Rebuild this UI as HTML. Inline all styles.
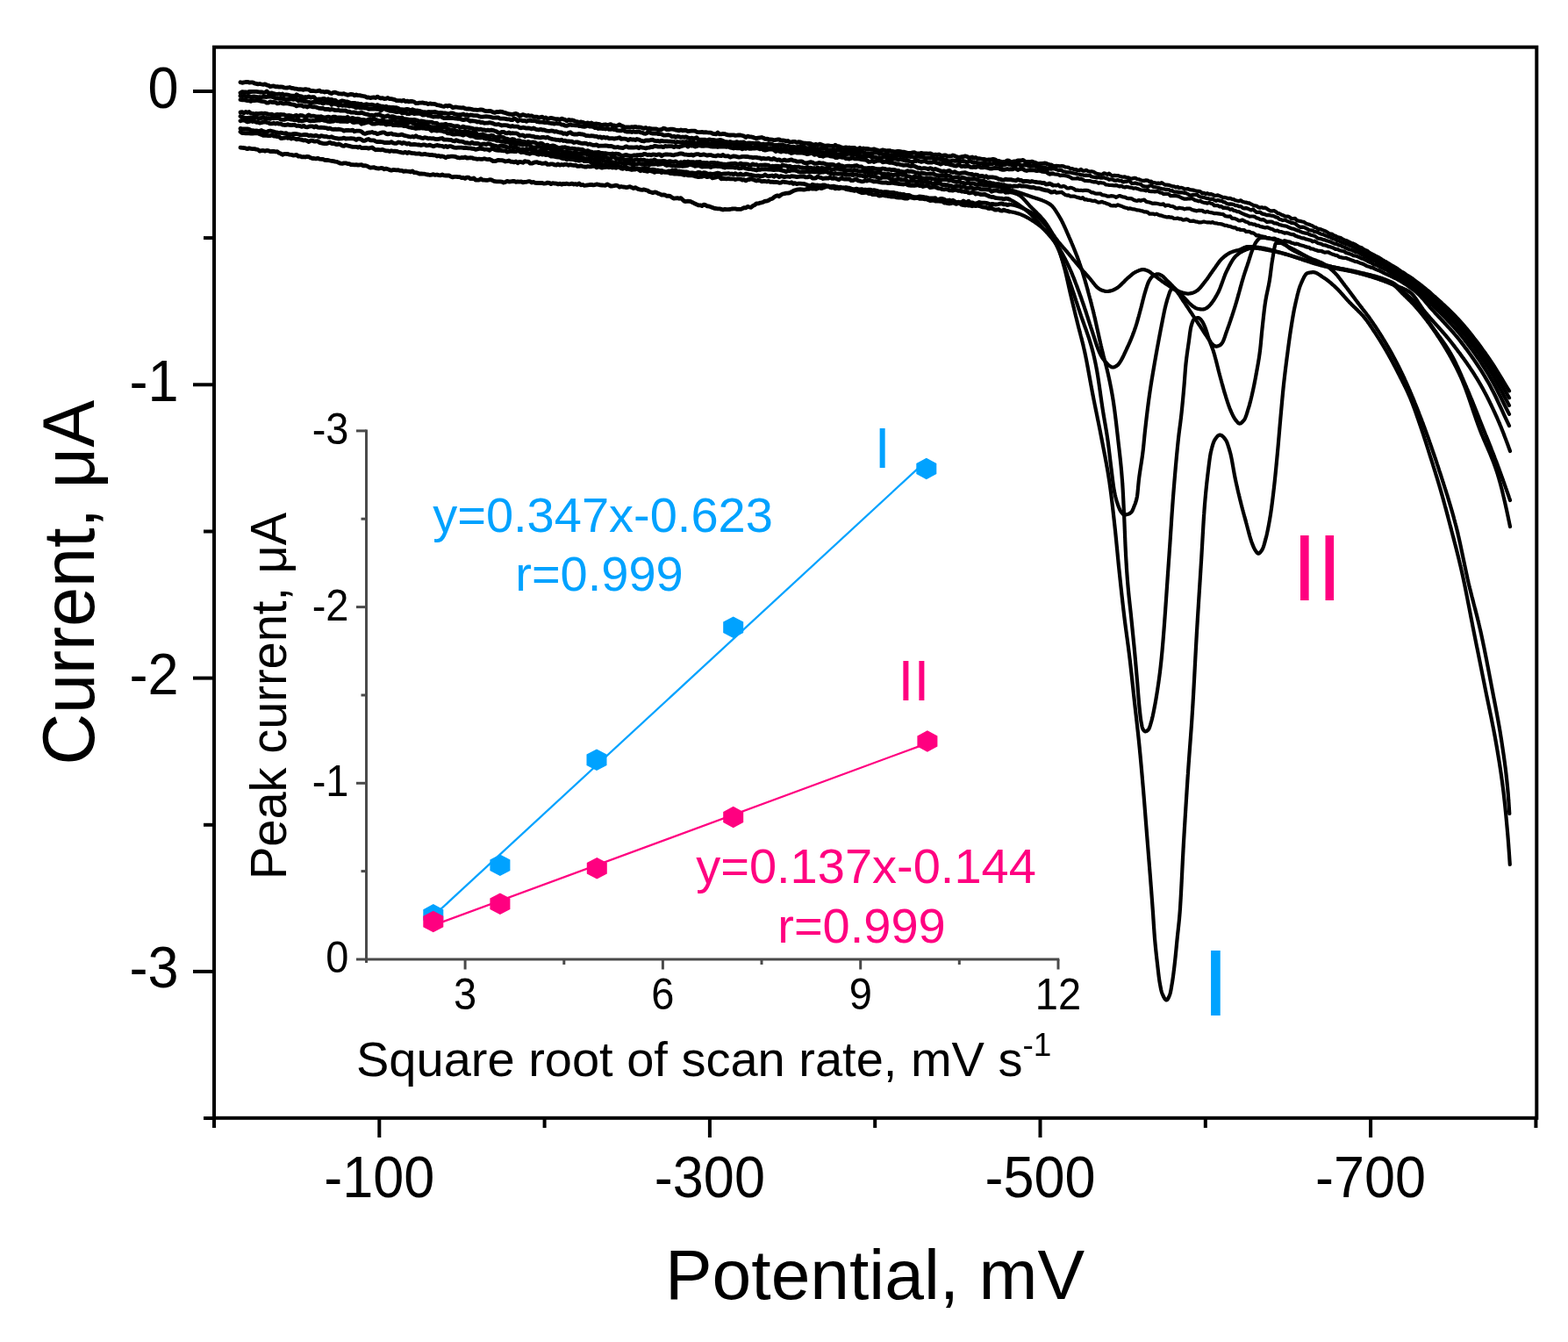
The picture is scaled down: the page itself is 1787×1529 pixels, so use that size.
<!DOCTYPE html><html><head><meta charset="utf-8"><title>Voltammograms</title><style>html,body{margin:0;padding:0;background:#fff;overflow:hidden}svg{display:block}</style></head><body>
<svg width="1787" height="1529" viewBox="0 0 1787 1529">
<rect width="100%" height="100%" fill="#fff"/>
<g fill="none" stroke="#000" stroke-linejoin="round" stroke-linecap="round">
<path stroke-width="4.8" d="M274.0,93.7 L276.0,94.3 L278.0,93.9 L280.0,93.5 L282.0,93.3 L284.0,94.1 L286.0,93.9 L288.0,93.8 L290.0,94.9 L292.0,95.4 L294.0,95.9 L296.0,95.5 L298.0,96.0 L300.0,96.3 L302.0,95.8 L304.0,96.9 L306.0,97.3 L308.0,98.7 L310.0,98.2 L312.0,98.0 L314.0,98.8 L316.0,98.7 L318.0,99.2 L320.0,98.8 L322.0,99.1 L324.0,99.9 L326.0,100.1 L328.0,100.0 L330.0,99.5 L332.0,100.3 L334.0,100.5 L336.0,101.1 L338.0,101.2 L340.0,101.8 L342.0,101.6 L344.0,101.8 L346.0,102.3 L348.0,101.6 L350.0,101.9 L352.0,102.1 L354.0,103.7 L356.0,103.3 L358.0,103.7 L360.0,104.0 L362.0,103.7 L364.0,103.1 L366.0,104.4 L368.0,104.3 L370.0,105.0 L372.0,104.3 L374.0,104.6 L376.0,105.9 L378.0,106.5 L380.0,105.4 L382.0,105.2 L384.0,105.9 L386.0,106.8 L388.0,106.9 L390.0,107.2 L392.0,106.7 L394.0,107.6 L396.0,108.3 L398.0,107.9 L400.0,107.3 L402.0,107.6 L404.0,108.8 L406.0,107.9 L408.0,108.7 L410.0,108.6 L412.0,109.2 L414.0,109.5 L416.0,109.9 L418.0,111.0 L420.0,110.9 L422.0,111.6 L424.0,111.1 L426.0,110.9 L428.0,111.5 L430.0,110.1 L432.0,111.3 L434.0,112.0 L436.0,111.6 L438.0,112.5 L440.0,112.4 L442.0,111.5 L444.0,112.6 L446.0,112.7 L448.0,113.1 L450.0,113.6 L452.0,114.7 L454.0,114.6 L456.0,114.7 L458.0,115.1 L460.0,114.2 L462.0,115.7 L464.0,115.1 L466.0,115.9 L468.0,115.4 L470.0,115.5 L472.0,116.0 L474.0,117.6 L476.0,117.6 L478.0,117.1 L480.0,117.2 L482.0,117.0 L484.0,117.6 L486.0,117.7 L488.0,118.6 L490.0,117.9 L492.0,118.4 L494.0,118.4 L496.0,118.7 L498.0,119.7 L500.0,119.9 L502.0,120.4 L504.0,121.0 L506.0,121.4 L508.0,120.3 L510.0,121.1 L512.0,120.2 L514.0,121.0 L516.0,122.6 L518.0,122.1 L520.0,122.0 L522.0,122.4 L524.0,122.6 L526.0,122.8 L528.0,122.6 L530.0,123.7 L532.0,124.1 L534.0,123.8 L536.0,124.2 L538.0,124.6 L540.0,125.2 L542.0,125.1 L544.0,125.4 L546.0,125.2 L548.0,124.8 L550.0,125.1 L552.0,126.2 L554.0,126.7 L556.0,126.6 L558.0,126.3 L560.0,126.9 L562.0,127.9 L564.0,128.3 L566.0,127.5 L568.0,127.7 L570.0,127.1 L572.0,127.3 L574.0,128.2 L576.0,128.6 L578.0,129.4 L580.0,130.0 L582.0,130.1 L584.0,130.6 L586.0,129.8 L588.0,129.4 L590.0,130.3 L592.0,132.0 L594.0,131.4 L596.0,130.6 L598.0,131.2 L600.0,132.2 L602.0,131.4 L604.0,132.2 L606.0,131.9 L608.0,133.0 L610.0,133.2 L612.0,133.2 L614.0,134.3 L616.0,133.5 L618.0,133.2 L620.0,134.7 L622.0,133.9 L624.0,135.4 L626.0,134.9 L628.0,134.3 L630.0,134.8 L632.0,135.3 L634.0,135.6 L636.0,135.7 L638.0,136.5 L640.0,135.1 L642.0,135.8 L644.0,136.3 L646.0,137.8 L648.0,136.4 L650.0,137.0 L652.0,136.9 L654.0,137.3 L656.0,138.3 L658.0,138.7 L660.0,139.5 L662.0,138.9 L664.0,139.3 L666.0,140.0 L668.0,140.3 L670.0,139.9 L672.0,140.7 L674.0,140.0 L676.0,141.4 L678.0,141.1 L680.0,141.0 L682.0,141.3 L684.0,141.9 L686.0,142.7 L688.0,142.1 L690.0,141.9 L692.0,142.5 L694.0,142.1 L696.0,141.6 L698.0,142.9 L700.0,142.8 L702.0,143.8 L704.0,143.0 L706.0,141.9 L708.0,143.3 L710.0,143.9 L712.0,145.0 L714.0,144.9 L716.0,144.8 L718.0,145.1 L720.0,144.7 L722.0,144.9 L724.0,144.3 L726.0,145.2 L728.0,144.9 L730.0,145.1 L732.0,145.8 L734.0,146.3 L736.0,145.5 L738.0,146.9 L740.0,146.1 L742.0,146.7 L744.0,147.0 L746.0,146.8 L748.0,146.8 L750.0,147.8 L752.0,147.7 L754.0,147.5 L756.0,146.2 L758.0,146.5 L760.0,147.7 L762.0,147.6 L764.0,147.1 L766.0,147.1 L768.0,147.4 L770.0,148.1 L772.0,148.3 L774.0,148.8 L776.0,148.0 L778.0,148.8 L780.0,148.4 L782.0,148.5 L784.0,149.7 L786.0,149.3 L788.0,149.1 L790.0,149.1 L792.0,149.1 L794.0,150.3 L796.0,150.7 L798.0,150.6 L800.0,150.4 L802.0,150.9 L804.0,150.6 L806.0,150.9 L808.0,151.1 L810.0,151.1 L812.0,152.1 L814.0,152.7 L816.0,152.8 L818.0,151.1 L820.0,152.8 L822.0,152.8 L824.0,152.4 L826.0,152.6 L828.0,153.4 L830.0,153.9 L832.0,154.0 L834.0,153.8 L836.0,153.8 L838.0,154.4 L840.0,154.2 L842.0,153.9 L844.0,154.0 L846.0,154.5 L848.0,155.1 L850.0,156.5 L852.0,155.1 L854.0,155.8 L856.0,155.9 L858.0,156.3 L860.0,157.2 L862.0,157.6 L864.0,157.1 L866.0,156.8 L868.0,156.5 L870.0,157.2 L872.0,158.3 L874.0,158.1 L876.0,158.6 L878.0,159.0 L880.0,159.1 L882.0,159.7 L884.0,159.4 L886.0,159.0 L888.0,158.9 L890.0,160.1 L892.0,160.0 L894.0,160.1 L896.0,161.0 L898.0,160.5 L900.0,161.9 L902.0,161.9 L904.0,161.4 L906.0,161.4 L908.0,162.4 L910.0,161.7 L912.0,161.9 L914.0,162.5 L916.0,162.9 L918.0,163.1 L920.0,163.5 L922.0,163.4 L924.0,163.7 L926.0,164.6 L928.0,164.8 L930.0,164.4 L932.0,165.6 L934.0,164.1 L936.0,164.8 L938.0,165.6 L940.0,166.1 L942.0,166.0 L944.0,165.8 L946.0,166.4 L948.0,166.3 L950.0,166.8 L952.0,165.2 L954.0,166.6 L956.0,166.6 L958.0,167.6 L960.0,168.0 L962.0,168.3 L964.0,167.8 L966.0,168.3 L968.0,168.1 L970.0,168.5 L972.0,168.5 L974.0,168.3 L976.0,169.9 L978.0,169.8 L980.0,168.4 L982.0,169.7 L984.0,169.0 L986.0,169.5 L988.0,169.5 L990.0,169.7 L992.0,170.3 L994.0,170.3 L996.0,169.8 L998.0,170.5 L1000.0,171.1 L1002.0,172.2 L1004.0,171.5 L1006.0,170.9 L1008.0,171.3 L1010.0,172.0 L1012.0,171.6 L1014.0,171.6 L1016.0,172.4 L1018.0,172.5 L1020.0,172.8 L1022.0,172.5 L1024.0,172.4 L1026.0,172.7 L1028.0,173.1 L1030.0,173.2 L1032.0,173.7 L1034.0,174.1 L1036.0,174.3 L1038.0,174.5 L1040.0,173.9 L1042.0,173.7 L1044.0,174.7 L1046.0,174.8 L1048.0,175.0 L1050.0,174.4 L1052.0,174.8 L1054.0,174.9 L1056.0,174.9 L1058.0,175.1 L1060.0,174.8 L1062.0,175.7 L1064.0,176.7 L1066.0,176.1 L1068.0,176.4 L1070.0,176.0 L1072.0,176.9 L1074.0,178.0 L1076.0,176.8 L1078.0,177.0 L1080.0,178.1 L1082.0,178.0 L1084.0,178.0 L1086.0,176.9 L1088.0,177.6 L1090.0,178.6 L1092.0,179.3 L1094.0,179.2 L1096.0,178.6 L1098.0,178.5 L1100.0,177.9 L1102.0,178.3 L1104.0,179.7 L1106.0,179.6 L1108.0,179.0 L1110.0,180.4 L1112.0,179.4 L1114.0,180.8 L1116.0,180.6 L1118.0,181.0 L1120.0,181.5 L1122.0,181.5 L1124.0,182.3 L1126.0,182.0 L1128.0,181.8 L1130.0,181.7 L1132.0,181.4 L1134.0,181.8 L1136.0,183.0 L1138.0,183.4 L1140.0,184.0 L1142.0,185.0 L1144.0,184.3 L1146.0,184.0 L1148.0,182.9 L1150.0,183.2 L1152.0,184.6 L1154.0,184.3 L1156.0,183.8 L1158.0,183.9 L1160.0,182.8 L1162.0,183.0 L1164.0,182.8 L1166.0,182.4 L1168.0,183.9 L1170.0,184.6 L1172.0,184.3 L1174.0,184.6 L1176.0,184.1 L1178.0,184.8 L1180.0,185.4 L1182.0,186.3 L1184.0,186.7 L1186.0,186.5 L1188.0,186.3 L1190.0,186.0 L1192.0,186.2 L1194.0,187.2 L1196.0,187.7 L1198.0,187.8 L1200.0,189.0"/>
<path stroke-width="4.2" d="M1200.0,189.0 L1202.0,189.0 L1204.0,188.9 L1206.0,189.0 L1208.0,189.4 L1210.0,189.2 L1212.0,189.4 L1214.0,190.4 L1216.0,190.5 L1218.0,190.9 L1220.0,192.2 L1222.0,192.0 L1224.0,193.1 L1226.0,193.0 L1228.0,194.0 L1230.0,194.0 L1232.0,193.0 L1234.0,194.6 L1236.0,194.6 L1238.0,193.8 L1240.0,195.0 L1242.0,195.6 L1244.0,195.3 L1246.0,195.7 L1248.0,196.8 L1250.0,197.8 L1252.0,198.2 L1254.0,198.6 L1256.0,198.9 L1258.0,197.3 L1260.0,197.8 L1262.0,198.8 L1264.0,197.7 L1266.0,199.4 L1268.0,200.3 L1270.0,199.9 L1272.0,200.1 L1274.0,200.1 L1276.0,200.8 L1278.0,201.3 L1280.0,201.6 L1282.0,201.4 L1284.0,202.3 L1286.0,202.4 L1288.0,203.4 L1290.0,203.6 L1292.0,202.9 L1294.0,202.9 L1296.0,204.0 L1298.0,204.3 L1300.0,205.1 L1302.0,205.9 L1304.0,205.9 L1306.0,205.3 L1308.0,205.6 L1310.0,206.9 L1312.0,206.7 L1314.0,208.1 L1316.0,208.2 L1318.0,208.8 L1320.0,208.6 L1322.0,209.2 L1324.0,208.1 L1326.0,209.5 L1328.0,210.7 L1330.0,210.6 L1332.0,210.8 L1334.0,211.6 L1336.0,212.3 L1338.0,212.3 L1340.0,213.4 L1342.0,212.8 L1344.0,214.3 L1346.0,213.8 L1348.0,214.2 L1350.0,215.8 L1352.0,215.3 L1354.0,215.1 L1356.0,216.2 L1358.0,216.4 L1360.0,216.6 L1362.0,217.2 L1364.0,217.6 L1366.0,217.9 L1368.0,218.3 L1370.0,220.1 L1372.0,219.8 L1374.0,220.9 L1376.0,220.2 L1378.0,221.4 L1380.0,221.1 L1382.0,221.7 L1384.0,222.8 L1386.0,222.8 L1388.0,222.4 L1390.0,223.3 L1392.0,224.1 L1394.0,225.1 L1396.0,224.9 L1398.0,225.5 L1400.0,226.2 L1402.0,225.9 L1404.0,226.9 L1406.0,227.2 L1408.0,228.3 L1410.0,228.7 L1412.0,229.1 L1414.0,228.3 L1416.0,229.7 L1418.0,230.3 L1420.0,230.6 L1422.0,231.3 L1424.0,231.4 L1426.0,232.7 L1428.0,233.7 L1430.0,234.4 L1432.0,234.5 L1434.0,236.1 L1436.0,236.6 L1438.0,236.2 L1440.0,236.9 L1442.0,236.7 L1444.0,237.9 L1446.0,239.2 L1448.0,240.4 L1450.0,240.3 L1452.0,240.0 L1454.0,241.2 L1456.0,242.9 L1458.0,243.3 L1460.0,244.5 L1462.0,245.2 L1464.0,246.2 L1466.0,246.6 L1468.0,246.5 L1470.0,247.6 L1472.0,249.4 L1474.0,249.1 L1476.0,248.8 L1478.0,251.1 L1480.0,251.6 L1482.0,251.9 L1484.0,252.5 L1486.0,252.8 L1488.0,254.4 L1490.0,255.3 L1492.0,255.8 L1494.0,256.6 L1496.0,257.4 L1498.0,258.9 L1500.0,259.4 L1502.0,260.8 L1504.0,260.9 L1506.0,261.6 L1508.0,262.4 L1510.0,263.2 L1512.0,264.2 L1514.0,265.5 L1516.0,266.6 L1518.0,266.7 L1520.0,268.2 L1522.0,268.8 L1524.0,270.1 L1526.0,270.6 L1528.0,271.1 L1530.0,272.4 L1532.0,273.4 L1534.0,274.0 L1536.0,275.0 L1538.0,276.0 L1540.0,277.0 L1542.0,277.4 L1544.0,278.3 L1546.0,279.6 L1548.0,280.8 L1550.0,281.7 L1552.0,282.3 L1554.0,284.0 L1556.0,284.9 L1558.0,285.7 L1560.0,287.4 L1562.0,288.5 L1564.0,289.6 L1566.0,290.7 L1568.0,291.8 L1570.0,292.6 L1572.0,293.8 L1574.0,295.1 L1576.0,296.4 L1578.0,297.6 L1580.0,298.5 L1582.0,299.7 L1584.0,301.0 L1586.0,302.3 L1588.0,303.4 L1590.0,304.5 L1592.0,305.8 L1594.0,307.3 L1596.0,308.6 L1598.0,310.0 L1600.0,311.0 L1602.0,312.4 L1604.0,313.9 L1606.0,314.9 L1608.0,316.3 L1610.0,317.6 L1612.0,319.3 L1614.0,320.7 L1616.0,322.1 L1618.0,323.7 L1620.0,325.2 L1622.0,326.8 L1624.0,328.4 L1626.0,330.1 L1628.0,331.7 L1630.0,333.4 L1632.0,335.2 L1634.0,337.0 L1636.0,338.7 L1638.0,340.5 L1640.0,342.3 L1642.0,344.1 L1644.0,346.0 L1646.0,347.8 L1648.0,349.7 L1650.0,351.6 L1652.0,353.5 L1654.0,355.4 L1656.0,357.4 L1658.0,359.5 L1660.0,361.6 L1662.0,363.7 L1664.0,365.9 L1666.0,368.1 L1668.0,370.4 L1670.0,372.8 L1672.0,375.2 L1674.0,377.6 L1676.0,380.1 L1678.0,382.6 L1680.0,385.2 L1682.0,387.8 L1684.0,390.4 L1686.0,393.1 L1688.0,395.8 L1690.0,398.6 L1692.0,401.3 L1694.0,404.2 L1696.0,407.0 L1698.0,409.9 L1700.0,412.9 L1702.0,416.0 L1704.0,419.2 L1706.0,422.4 L1708.0,425.6 L1710.0,428.9 L1712.0,432.2 L1714.0,435.6 L1716.0,438.9 L1718.0,442.1 L1720.0,445.4"/>
<path stroke-width="4.8" d="M274.0,105.8 L276.0,104.7 L278.0,104.9 L280.0,104.9 L282.0,105.3 L284.0,104.3 L286.0,104.5 L288.0,104.4 L290.0,104.3 L292.0,104.4 L294.0,104.7 L296.0,105.0 L298.0,104.8 L300.0,105.6 L302.0,105.4 L304.0,104.0 L306.0,106.1 L308.0,106.1 L310.0,106.0 L312.0,106.7 L314.0,107.1 L316.0,107.3 L318.0,107.0 L320.0,107.6 L322.0,107.0 L324.0,108.6 L326.0,107.8 L328.0,108.2 L330.0,108.7 L332.0,109.1 L334.0,109.1 L336.0,109.7 L338.0,107.8 L340.0,109.1 L342.0,109.7 L344.0,109.9 L346.0,111.2 L348.0,110.5 L350.0,110.8 L352.0,110.0 L354.0,111.2 L356.0,110.7 L358.0,110.7 L360.0,113.1 L362.0,113.1 L364.0,112.9 L366.0,113.1 L368.0,112.4 L370.0,112.5 L372.0,113.6 L374.0,112.7 L376.0,113.9 L378.0,113.3 L380.0,114.3 L382.0,114.1 L384.0,115.8 L386.0,116.2 L388.0,115.6 L390.0,114.8 L392.0,115.3 L394.0,116.0 L396.0,115.9 L398.0,116.7 L400.0,117.6 L402.0,117.4 L404.0,117.3 L406.0,118.1 L408.0,118.0 L410.0,118.7 L412.0,118.5 L414.0,119.6 L416.0,119.1 L418.0,118.7 L420.0,119.3 L422.0,119.3 L424.0,119.2 L426.0,119.8 L428.0,120.7 L430.0,119.5 L432.0,120.4 L434.0,120.8 L436.0,121.1 L438.0,121.9 L440.0,121.2 L442.0,122.1 L444.0,122.1 L446.0,122.5 L448.0,122.5 L450.0,122.6 L452.0,122.7 L454.0,123.4 L456.0,124.7 L458.0,124.7 L460.0,124.8 L462.0,124.7 L464.0,124.3 L466.0,124.9 L468.0,126.0 L470.0,124.7 L472.0,125.6 L474.0,126.1 L476.0,126.0 L478.0,126.4 L480.0,127.0 L482.0,127.8 L484.0,127.7 L486.0,128.0 L488.0,127.5 L490.0,127.7 L492.0,127.6 L494.0,127.7 L496.0,127.4 L498.0,128.1 L500.0,128.9 L502.0,128.4 L504.0,128.6 L506.0,129.0 L508.0,128.9 L510.0,129.6 L512.0,129.5 L514.0,128.8 L516.0,128.8 L518.0,129.9 L520.0,130.3 L522.0,130.9 L524.0,130.7 L526.0,130.8 L528.0,129.9 L530.0,131.4 L532.0,130.7 L534.0,131.7 L536.0,131.0 L538.0,131.1 L540.0,131.7 L542.0,131.7 L544.0,131.7 L546.0,132.7 L548.0,133.1 L550.0,133.1 L552.0,132.9 L554.0,132.7 L556.0,132.9 L558.0,133.1 L560.0,133.5 L562.0,134.2 L564.0,134.1 L566.0,133.8 L568.0,134.0 L570.0,135.2 L572.0,135.1 L574.0,135.2 L576.0,135.4 L578.0,135.8 L580.0,135.8 L582.0,136.5 L584.0,136.7 L586.0,134.8 L588.0,135.8 L590.0,138.0 L592.0,136.5 L594.0,136.9 L596.0,137.7 L598.0,137.5 L600.0,138.3 L602.0,137.3 L604.0,137.1 L606.0,137.7 L608.0,137.7 L610.0,137.7 L612.0,138.7 L614.0,139.0 L616.0,139.1 L618.0,139.1 L620.0,139.5 L622.0,139.6 L624.0,139.4 L626.0,140.2 L628.0,140.5 L630.0,140.6 L632.0,141.1 L634.0,140.4 L636.0,140.8 L638.0,140.9 L640.0,142.0 L642.0,142.1 L644.0,143.2 L646.0,143.4 L648.0,142.5 L650.0,141.9 L652.0,142.7 L654.0,142.7 L656.0,142.9 L658.0,142.6 L660.0,143.5 L662.0,143.7 L664.0,144.1 L666.0,144.3 L668.0,143.8 L670.0,143.0 L672.0,144.0 L674.0,144.2 L676.0,144.5 L678.0,145.6 L680.0,145.5 L682.0,146.5 L684.0,146.2 L686.0,146.5 L688.0,146.7 L690.0,147.0 L692.0,146.2 L694.0,147.3 L696.0,147.3 L698.0,146.8 L700.0,147.7 L702.0,147.9 L704.0,148.7 L706.0,148.8 L708.0,148.8 L710.0,147.8 L712.0,149.4 L714.0,150.0 L716.0,150.0 L718.0,149.9 L720.0,150.5 L722.0,149.7 L724.0,150.4 L726.0,150.4 L728.0,150.0 L730.0,150.8 L732.0,151.2 L734.0,152.2 L736.0,152.3 L738.0,151.1 L740.0,150.6 L742.0,151.7 L744.0,152.1 L746.0,152.0 L748.0,151.8 L750.0,152.6 L752.0,152.5 L754.0,152.9 L756.0,154.0 L758.0,154.2 L760.0,153.9 L762.0,153.7 L764.0,154.3 L766.0,155.8 L768.0,155.2 L770.0,156.3 L772.0,155.5 L774.0,155.7 L776.0,156.4 L778.0,156.0 L780.0,156.4 L782.0,155.9 L784.0,157.0 L786.0,157.8 L788.0,157.2 L790.0,157.6 L792.0,157.5 L794.0,156.7 L796.0,159.2 L798.0,159.1 L800.0,159.2 L802.0,159.2 L804.0,159.2 L806.0,160.5 L808.0,158.8 L810.0,159.1 L812.0,159.3 L814.0,159.6 L816.0,160.3 L818.0,159.9 L820.0,159.5 L822.0,159.6 L824.0,160.6 L826.0,161.4 L828.0,161.6 L830.0,162.3 L832.0,161.5 L834.0,162.1 L836.0,162.3 L838.0,162.0 L840.0,161.6 L842.0,162.5 L844.0,162.1 L846.0,162.2 L848.0,162.0 L850.0,163.6 L852.0,163.2 L854.0,162.9 L856.0,163.1 L858.0,163.2 L860.0,163.6 L862.0,162.8 L864.0,162.9 L866.0,164.0 L868.0,164.8 L870.0,164.0 L872.0,164.5 L874.0,164.3 L876.0,163.5 L878.0,164.3 L880.0,164.3 L882.0,165.5 L884.0,165.4 L886.0,165.5 L888.0,164.9 L890.0,165.7 L892.0,164.9 L894.0,165.9 L896.0,167.0 L898.0,166.1 L900.0,167.0 L902.0,167.7 L904.0,167.1 L906.0,167.8 L908.0,167.5 L910.0,167.2 L912.0,166.4 L914.0,166.7 L916.0,166.7 L918.0,168.9 L920.0,168.6 L922.0,168.4 L924.0,167.8 L926.0,169.3 L928.0,168.4 L930.0,169.6 L932.0,169.9 L934.0,169.6 L936.0,169.2 L938.0,169.5 L940.0,169.0 L942.0,170.0 L944.0,171.0 L946.0,171.1 L948.0,171.3 L950.0,170.5 L952.0,170.9 L954.0,170.4 L956.0,170.7 L958.0,171.5 L960.0,172.9 L962.0,172.1 L964.0,172.0 L966.0,171.0 L968.0,171.9 L970.0,171.7 L972.0,171.5 L974.0,171.5 L976.0,172.5 L978.0,172.7 L980.0,173.4 L982.0,173.3 L984.0,173.5 L986.0,174.5 L988.0,174.6 L990.0,174.7 L992.0,175.3 L994.0,174.9 L996.0,174.2 L998.0,174.2 L1000.0,173.9 L1002.0,175.0 L1004.0,175.0 L1006.0,175.7 L1008.0,176.2 L1010.0,175.6 L1012.0,176.0 L1014.0,176.9 L1016.0,176.7 L1018.0,177.2 L1020.0,176.9 L1022.0,176.5 L1024.0,176.8 L1026.0,176.2 L1028.0,177.5 L1030.0,177.4 L1032.0,178.5 L1034.0,177.6 L1036.0,178.1 L1038.0,178.6 L1040.0,178.5 L1042.0,179.0 L1044.0,178.6 L1046.0,178.4 L1048.0,178.3 L1050.0,178.8 L1052.0,179.0 L1054.0,179.8 L1056.0,179.8 L1058.0,179.8 L1060.0,179.9 L1062.0,179.4 L1064.0,180.1 L1066.0,181.0 L1068.0,180.4 L1070.0,180.9 L1072.0,181.8 L1074.0,181.4 L1076.0,181.9 L1078.0,181.8 L1080.0,183.5 L1082.0,183.7 L1084.0,183.7 L1086.0,182.8 L1088.0,183.3 L1090.0,183.2 L1092.0,183.5 L1094.0,183.3 L1096.0,183.7 L1098.0,183.4 L1100.0,184.1 L1102.0,185.2 L1104.0,184.0 L1106.0,183.7 L1108.0,184.7 L1110.0,185.4 L1112.0,185.1 L1114.0,185.6 L1116.0,185.9 L1118.0,186.1 L1120.0,186.8 L1122.0,186.0 L1124.0,186.6 L1126.0,186.6 L1128.0,186.3 L1130.0,186.9 L1132.0,186.2 L1134.0,186.0 L1136.0,187.4 L1138.0,186.8 L1140.0,188.3 L1142.0,188.5 L1144.0,187.7 L1146.0,187.3 L1148.0,186.5 L1150.0,187.4 L1152.0,186.9 L1154.0,188.5 L1156.0,187.3 L1158.0,187.9 L1160.0,186.6 L1162.0,187.5 L1164.0,188.8 L1166.0,188.3 L1168.0,188.0 L1170.0,188.1 L1172.0,188.8 L1174.0,189.4 L1176.0,189.1 L1178.0,188.1 L1180.0,189.3 L1182.0,190.2 L1184.0,191.5 L1186.0,190.9 L1188.0,190.9 L1190.0,190.8 L1192.0,191.6 L1194.0,192.7 L1196.0,191.8 L1198.0,192.3 L1200.0,192.0"/>
<path stroke-width="4.2" d="M1200.0,192.0 L1202.0,192.4 L1204.0,193.0 L1206.0,193.9 L1208.0,193.7 L1210.0,194.1 L1212.0,195.5 L1214.0,195.7 L1216.0,196.2 L1218.0,196.4 L1220.0,196.4 L1222.0,197.0 L1224.0,197.5 L1226.0,197.7 L1228.0,198.5 L1230.0,198.5 L1232.0,199.3 L1234.0,199.3 L1236.0,199.9 L1238.0,199.6 L1240.0,199.8 L1242.0,199.8 L1244.0,201.3 L1246.0,201.7 L1248.0,201.9 L1250.0,202.4 L1252.0,202.0 L1254.0,202.6 L1256.0,202.7 L1258.0,202.2 L1260.0,203.1 L1262.0,203.3 L1264.0,204.8 L1266.0,204.3 L1268.0,204.4 L1270.0,205.6 L1272.0,205.6 L1274.0,205.1 L1276.0,206.0 L1278.0,205.9 L1280.0,207.5 L1282.0,206.7 L1284.0,206.8 L1286.0,205.9 L1288.0,207.0 L1290.0,209.0 L1292.0,208.8 L1294.0,208.5 L1296.0,209.3 L1298.0,209.5 L1300.0,209.9 L1302.0,211.7 L1304.0,212.3 L1306.0,212.6 L1308.0,212.9 L1310.0,211.8 L1312.0,211.1 L1314.0,212.7 L1316.0,213.2 L1318.0,213.5 L1320.0,213.8 L1322.0,214.6 L1324.0,215.1 L1326.0,215.3 L1328.0,215.8 L1330.0,215.8 L1332.0,216.0 L1334.0,217.4 L1336.0,217.2 L1338.0,218.6 L1340.0,218.7 L1342.0,218.6 L1344.0,219.5 L1346.0,219.1 L1348.0,219.5 L1350.0,219.8 L1352.0,220.3 L1354.0,221.2 L1356.0,222.6 L1358.0,222.4 L1360.0,221.8 L1362.0,222.0 L1364.0,221.7 L1366.0,223.4 L1368.0,224.3 L1370.0,224.6 L1372.0,225.0 L1374.0,225.6 L1376.0,226.0 L1378.0,226.6 L1380.0,226.8 L1382.0,226.6 L1384.0,227.9 L1386.0,228.9 L1388.0,227.9 L1390.0,228.7 L1392.0,228.8 L1394.0,230.1 L1396.0,230.4 L1398.0,231.9 L1400.0,232.6 L1402.0,232.3 L1404.0,232.6 L1406.0,233.0 L1408.0,234.2 L1410.0,234.1 L1412.0,235.3 L1414.0,235.0 L1416.0,236.7 L1418.0,237.4 L1420.0,237.1 L1422.0,237.6 L1424.0,238.6 L1426.0,239.5 L1428.0,238.4 L1430.0,240.2 L1432.0,241.9 L1434.0,241.8 L1436.0,241.6 L1438.0,243.4 L1440.0,243.9 L1442.0,244.4 L1444.0,245.2 L1446.0,244.9 L1448.0,245.5 L1450.0,245.8 L1452.0,246.3 L1454.0,247.4 L1456.0,247.8 L1458.0,249.8 L1460.0,250.3 L1462.0,251.1 L1464.0,250.5 L1466.0,251.4 L1468.0,252.3 L1470.0,253.2 L1472.0,254.1 L1474.0,254.2 L1476.0,254.7 L1478.0,256.3 L1480.0,257.9 L1482.0,258.9 L1484.0,258.6 L1486.0,258.8 L1488.0,259.8 L1490.0,260.8 L1492.0,262.2 L1494.0,262.3 L1496.0,262.6 L1498.0,264.0 L1500.0,264.2 L1502.0,264.8 L1504.0,266.1 L1506.0,266.7 L1508.0,267.1 L1510.0,268.1 L1512.0,268.9 L1514.0,269.7 L1516.0,270.3 L1518.0,271.6 L1520.0,272.2 L1522.0,272.8 L1524.0,274.2 L1526.0,274.5 L1528.0,275.7 L1530.0,276.6 L1532.0,277.2 L1534.0,278.2 L1536.0,278.5 L1538.0,279.8 L1540.0,280.4 L1542.0,281.3 L1544.0,282.5 L1546.0,283.3 L1548.0,284.4 L1550.0,285.5 L1552.0,286.7 L1554.0,287.5 L1556.0,288.7 L1558.0,289.3 L1560.0,290.2 L1562.0,291.5 L1564.0,292.8 L1566.0,293.7 L1568.0,294.5 L1570.0,295.4 L1572.0,296.5 L1574.0,298.0 L1576.0,298.9 L1578.0,300.1 L1580.0,301.4 L1582.0,302.6 L1584.0,303.6 L1586.0,305.2 L1588.0,306.3 L1590.0,307.4 L1592.0,308.7 L1594.0,309.8 L1596.0,311.1 L1598.0,312.3 L1600.0,313.4 L1602.0,314.6 L1604.0,316.1 L1606.0,317.5 L1608.0,318.8 L1610.0,320.2 L1612.0,321.6 L1614.0,323.2 L1616.0,324.8 L1618.0,326.3 L1620.0,327.9 L1622.0,329.5 L1624.0,331.2 L1626.0,333.0 L1628.0,334.8 L1630.0,336.7 L1632.0,338.5 L1634.0,340.5 L1636.0,342.4 L1638.0,344.3 L1640.0,346.1 L1642.0,348.0 L1644.0,349.9 L1646.0,351.8 L1648.0,353.7 L1650.0,355.6 L1652.0,357.6 L1654.0,359.6 L1656.0,361.7 L1658.0,363.8 L1660.0,365.9 L1662.0,368.1 L1664.0,370.4 L1666.0,372.7 L1668.0,375.0 L1670.0,377.5 L1672.0,379.9 L1674.0,382.4 L1676.0,385.0 L1678.0,387.5 L1680.0,390.2 L1682.0,392.8 L1684.0,395.5 L1686.0,398.3 L1688.0,401.1 L1690.0,403.9 L1692.0,406.8 L1694.0,409.7 L1696.0,412.7 L1698.0,415.7 L1700.0,418.9 L1702.0,422.2 L1704.0,425.5 L1706.0,428.9 L1708.0,432.4 L1710.0,435.9 L1712.0,439.4 L1714.0,442.9 L1716.0,446.4 L1718.0,449.9 L1720.0,453.3"/>
<path stroke-width="4.8" d="M274.0,109.1 L276.0,109.8 L278.0,109.0 L280.0,109.8 L282.0,109.5 L284.0,109.4 L286.0,110.7 L288.0,110.2 L290.0,110.0 L292.0,110.4 L294.0,110.9 L296.0,110.5 L298.0,110.8 L300.0,110.2 L302.0,110.4 L304.0,110.5 L306.0,110.2 L308.0,110.2 L310.0,110.2 L312.0,111.1 L314.0,111.6 L316.0,111.8 L318.0,112.3 L320.0,111.8 L322.0,112.4 L324.0,113.0 L326.0,113.6 L328.0,113.1 L330.0,113.3 L332.0,112.6 L334.0,113.3 L336.0,112.8 L338.0,113.1 L340.0,114.8 L342.0,113.7 L344.0,115.1 L346.0,115.5 L348.0,115.4 L350.0,115.9 L352.0,116.3 L354.0,116.8 L356.0,116.5 L358.0,116.3 L360.0,116.3 L362.0,116.3 L364.0,116.9 L366.0,116.9 L368.0,118.0 L370.0,117.0 L372.0,117.2 L374.0,117.4 L376.0,117.1 L378.0,119.3 L380.0,117.8 L382.0,118.6 L384.0,118.9 L386.0,120.4 L388.0,119.0 L390.0,120.3 L392.0,120.0 L394.0,120.3 L396.0,120.3 L398.0,121.1 L400.0,120.6 L402.0,121.2 L404.0,121.7 L406.0,122.9 L408.0,121.1 L410.0,122.8 L412.0,123.2 L414.0,122.7 L416.0,123.1 L418.0,123.0 L420.0,124.3 L422.0,124.1 L424.0,123.9 L426.0,124.0 L428.0,124.2 L430.0,124.4 L432.0,124.3 L434.0,126.0 L436.0,124.6 L438.0,123.3 L440.0,124.9 L442.0,125.6 L444.0,126.3 L446.0,126.4 L448.0,126.6 L450.0,127.1 L452.0,127.7 L454.0,127.3 L456.0,127.4 L458.0,128.8 L460.0,128.7 L462.0,128.0 L464.0,129.7 L466.0,129.7 L468.0,129.0 L470.0,128.6 L472.0,129.5 L474.0,129.3 L476.0,129.3 L478.0,129.3 L480.0,129.9 L482.0,131.2 L484.0,130.9 L486.0,130.5 L488.0,131.6 L490.0,131.9 L492.0,132.5 L494.0,133.1 L496.0,132.7 L498.0,132.8 L500.0,133.0 L502.0,132.7 L504.0,133.7 L506.0,134.6 L508.0,134.5 L510.0,134.3 L512.0,134.5 L514.0,134.4 L516.0,134.5 L518.0,134.9 L520.0,135.0 L522.0,135.4 L524.0,135.1 L526.0,136.2 L528.0,136.6 L530.0,136.3 L532.0,135.7 L534.0,136.9 L536.0,138.1 L538.0,137.7 L540.0,137.9 L542.0,138.1 L544.0,139.0 L546.0,138.6 L548.0,139.7 L550.0,139.5 L552.0,140.3 L554.0,140.2 L556.0,140.2 L558.0,139.7 L560.0,140.2 L562.0,140.7 L564.0,141.6 L566.0,141.8 L568.0,141.5 L570.0,142.2 L572.0,143.0 L574.0,142.7 L576.0,142.7 L578.0,142.8 L580.0,143.7 L582.0,144.1 L584.0,143.5 L586.0,144.2 L588.0,144.2 L590.0,144.1 L592.0,145.4 L594.0,145.8 L596.0,145.2 L598.0,145.6 L600.0,146.2 L602.0,145.9 L604.0,146.2 L606.0,146.9 L608.0,146.0 L610.0,147.0 L612.0,147.7 L614.0,148.0 L616.0,147.3 L618.0,148.1 L620.0,147.9 L622.0,148.8 L624.0,149.2 L626.0,149.4 L628.0,149.0 L630.0,149.2 L632.0,150.2 L634.0,149.7 L636.0,150.5 L638.0,151.0 L640.0,150.8 L642.0,152.4 L644.0,151.9 L646.0,153.0 L648.0,151.3 L650.0,150.7 L652.0,152.4 L654.0,153.0 L656.0,152.8 L658.0,153.1 L660.0,152.3 L662.0,152.9 L664.0,153.0 L666.0,153.6 L668.0,154.6 L670.0,154.7 L672.0,155.0 L674.0,154.7 L676.0,154.8 L678.0,155.3 L680.0,155.4 L682.0,156.5 L684.0,155.8 L686.0,157.2 L688.0,156.2 L690.0,157.2 L692.0,156.6 L694.0,157.8 L696.0,157.6 L698.0,157.7 L700.0,158.1 L702.0,157.6 L704.0,157.3 L706.0,156.7 L708.0,158.4 L710.0,158.1 L712.0,158.1 L714.0,158.5 L716.0,159.8 L718.0,158.4 L720.0,159.0 L722.0,158.9 L724.0,159.5 L726.0,158.5 L728.0,159.0 L730.0,159.9 L732.0,160.7 L734.0,161.0 L736.0,159.9 L738.0,160.0 L740.0,160.0 L742.0,159.4 L744.0,159.2 L746.0,160.4 L748.0,160.6 L750.0,160.5 L752.0,161.2 L754.0,160.3 L756.0,160.9 L758.0,160.9 L760.0,160.9 L762.0,161.2 L764.0,161.2 L766.0,161.3 L768.0,161.4 L770.0,162.4 L772.0,161.5 L774.0,162.0 L776.0,162.0 L778.0,161.6 L780.0,162.1 L782.0,161.4 L784.0,162.4 L786.0,161.7 L788.0,161.7 L790.0,162.2 L792.0,162.7 L794.0,163.0 L796.0,163.2 L798.0,162.7 L800.0,162.2 L802.0,162.9 L804.0,163.1 L806.0,162.6 L808.0,163.6 L810.0,163.6 L812.0,163.0 L814.0,163.7 L816.0,163.1 L818.0,163.2 L820.0,164.0 L822.0,163.3 L824.0,164.0 L826.0,163.6 L828.0,164.7 L830.0,164.4 L832.0,164.9 L834.0,164.2 L836.0,164.7 L838.0,165.7 L840.0,165.9 L842.0,164.8 L844.0,166.0 L846.0,166.5 L848.0,166.1 L850.0,167.0 L852.0,166.1 L854.0,166.4 L856.0,167.3 L858.0,167.8 L860.0,168.1 L862.0,166.9 L864.0,166.3 L866.0,167.3 L868.0,166.8 L870.0,167.4 L872.0,167.1 L874.0,168.4 L876.0,168.8 L878.0,169.0 L880.0,168.8 L882.0,168.9 L884.0,168.8 L886.0,169.3 L888.0,169.5 L890.0,169.8 L892.0,169.5 L894.0,170.8 L896.0,170.4 L898.0,171.0 L900.0,171.3 L902.0,170.3 L904.0,169.6 L906.0,171.1 L908.0,170.8 L910.0,171.1 L912.0,171.1 L914.0,171.5 L916.0,171.0 L918.0,171.5 L920.0,171.6 L922.0,172.0 L924.0,171.0 L926.0,172.5 L928.0,172.8 L930.0,171.9 L932.0,172.3 L934.0,172.9 L936.0,173.6 L938.0,173.6 L940.0,174.5 L942.0,174.1 L944.0,173.6 L946.0,173.7 L948.0,174.6 L950.0,174.3 L952.0,175.1 L954.0,175.6 L956.0,175.7 L958.0,176.0 L960.0,175.6 L962.0,175.7 L964.0,175.5 L966.0,175.5 L968.0,175.2 L970.0,175.7 L972.0,175.7 L974.0,175.7 L976.0,176.6 L978.0,177.2 L980.0,177.2 L982.0,178.2 L984.0,178.4 L986.0,178.7 L988.0,178.0 L990.0,177.4 L992.0,178.4 L994.0,178.8 L996.0,179.3 L998.0,179.4 L1000.0,180.0 L1002.0,179.5 L1004.0,180.0 L1006.0,179.5 L1008.0,178.6 L1010.0,179.5 L1012.0,181.0 L1014.0,179.9 L1016.0,181.1 L1018.0,180.7 L1020.0,180.9 L1022.0,181.3 L1024.0,181.7 L1026.0,181.3 L1028.0,181.9 L1030.0,182.4 L1032.0,182.9 L1034.0,182.4 L1036.0,183.6 L1038.0,184.3 L1040.0,185.0 L1042.0,183.3 L1044.0,183.6 L1046.0,182.8 L1048.0,183.8 L1050.0,184.4 L1052.0,183.8 L1054.0,183.5 L1056.0,184.5 L1058.0,185.2 L1060.0,184.8 L1062.0,185.1 L1064.0,184.1 L1066.0,184.9 L1068.0,185.7 L1070.0,186.2 L1072.0,187.2 L1074.0,186.2 L1076.0,185.4 L1078.0,186.7 L1080.0,186.7 L1082.0,187.3 L1084.0,187.9 L1086.0,188.2 L1088.0,188.9 L1090.0,189.2 L1092.0,187.7 L1094.0,188.3 L1096.0,189.7 L1098.0,189.0 L1100.0,189.6 L1102.0,189.4 L1104.0,189.2 L1106.0,190.4 L1108.0,190.6 L1110.0,190.1 L1112.0,190.7 L1114.0,189.7 L1116.0,189.8 L1118.0,190.8 L1120.0,190.8 L1122.0,190.3 L1124.0,191.0 L1126.0,191.3 L1128.0,192.0 L1130.0,192.2 L1132.0,191.6 L1134.0,191.4 L1136.0,191.6 L1138.0,191.7 L1140.0,192.7 L1142.0,193.3 L1144.0,193.4 L1146.0,192.9 L1148.0,192.5 L1150.0,193.0 L1152.0,192.6 L1154.0,192.8 L1156.0,191.8 L1158.0,192.2 L1160.0,193.5 L1162.0,192.6 L1164.0,192.1 L1166.0,192.7 L1168.0,194.0 L1170.0,194.5 L1172.0,193.8 L1174.0,193.6 L1176.0,193.9 L1178.0,193.7 L1180.0,194.3 L1182.0,194.6 L1184.0,194.2 L1186.0,194.8 L1188.0,195.4 L1190.0,195.5 L1192.0,195.6 L1194.0,197.0 L1196.0,198.3 L1198.0,197.8 L1200.0,197.8"/>
<path stroke-width="4.2" d="M1200.0,197.8 L1202.0,198.5 L1204.0,198.7 L1206.0,198.7 L1208.0,200.1 L1210.0,199.6 L1212.0,199.8 L1214.0,200.2 L1216.0,200.5 L1218.0,201.2 L1220.0,202.2 L1222.0,203.3 L1224.0,203.5 L1226.0,203.5 L1228.0,203.1 L1230.0,203.8 L1232.0,203.9 L1234.0,204.6 L1236.0,205.8 L1238.0,206.0 L1240.0,206.1 L1242.0,206.1 L1244.0,206.7 L1246.0,207.3 L1248.0,207.1 L1250.0,207.5 L1252.0,208.7 L1254.0,207.9 L1256.0,208.5 L1258.0,208.5 L1260.0,210.3 L1262.0,210.5 L1264.0,210.8 L1266.0,211.0 L1268.0,211.2 L1270.0,211.5 L1272.0,210.8 L1274.0,211.7 L1276.0,212.4 L1278.0,211.8 L1280.0,213.0 L1282.0,213.5 L1284.0,212.7 L1286.0,213.2 L1288.0,213.7 L1290.0,213.9 L1292.0,214.7 L1294.0,214.3 L1296.0,214.9 L1298.0,215.6 L1300.0,216.4 L1302.0,216.5 L1304.0,216.6 L1306.0,217.4 L1308.0,216.5 L1310.0,218.0 L1312.0,218.1 L1314.0,217.8 L1316.0,218.5 L1318.0,218.2 L1320.0,218.2 L1322.0,219.4 L1324.0,219.8 L1326.0,221.1 L1328.0,220.9 L1330.0,220.8 L1332.0,221.3 L1334.0,223.1 L1336.0,223.1 L1338.0,223.1 L1340.0,223.1 L1342.0,223.3 L1344.0,224.2 L1346.0,225.1 L1348.0,226.0 L1350.0,226.7 L1352.0,226.7 L1354.0,226.4 L1356.0,226.5 L1358.0,226.0 L1360.0,226.8 L1362.0,228.2 L1364.0,228.5 L1366.0,229.3 L1368.0,228.9 L1370.0,230.3 L1372.0,230.8 L1374.0,231.1 L1376.0,231.7 L1378.0,230.8 L1380.0,231.7 L1382.0,232.2 L1384.0,234.2 L1386.0,234.1 L1388.0,234.2 L1390.0,235.4 L1392.0,235.1 L1394.0,236.8 L1396.0,236.6 L1398.0,237.2 L1400.0,237.4 L1402.0,238.9 L1404.0,238.1 L1406.0,239.9 L1408.0,240.1 L1410.0,241.1 L1412.0,241.2 L1414.0,242.4 L1416.0,243.3 L1418.0,244.2 L1420.0,244.9 L1422.0,245.7 L1424.0,246.6 L1426.0,246.5 L1428.0,246.5 L1430.0,246.8 L1432.0,248.4 L1434.0,248.8 L1436.0,250.0 L1438.0,250.3 L1440.0,250.2 L1442.0,251.6 L1444.0,253.0 L1446.0,252.7 L1448.0,252.5 L1450.0,252.9 L1452.0,254.3 L1454.0,254.4 L1456.0,254.9 L1458.0,256.0 L1460.0,256.4 L1462.0,257.0 L1464.0,257.3 L1466.0,257.7 L1468.0,258.7 L1470.0,259.5 L1472.0,260.4 L1474.0,260.6 L1476.0,261.5 L1478.0,262.4 L1480.0,262.9 L1482.0,263.8 L1484.0,264.7 L1486.0,265.2 L1488.0,265.7 L1490.0,265.9 L1492.0,267.0 L1494.0,267.7 L1496.0,268.3 L1498.0,268.8 L1500.0,270.0 L1502.0,271.7 L1504.0,271.9 L1506.0,272.3 L1508.0,273.1 L1510.0,273.4 L1512.0,274.3 L1514.0,274.7 L1516.0,275.4 L1518.0,276.4 L1520.0,277.2 L1522.0,277.9 L1524.0,278.3 L1526.0,279.4 L1528.0,279.8 L1530.0,281.0 L1532.0,281.6 L1534.0,282.5 L1536.0,283.5 L1538.0,284.4 L1540.0,284.7 L1542.0,285.6 L1544.0,286.7 L1546.0,287.2 L1548.0,287.6 L1550.0,289.0 L1552.0,290.1 L1554.0,291.2 L1556.0,292.1 L1558.0,293.0 L1560.0,294.0 L1562.0,295.3 L1564.0,296.1 L1566.0,297.1 L1568.0,297.9 L1570.0,299.2 L1572.0,300.0 L1574.0,301.2 L1576.0,301.7 L1578.0,303.1 L1580.0,304.2 L1582.0,305.3 L1584.0,306.7 L1586.0,307.8 L1588.0,308.9 L1590.0,309.9 L1592.0,311.5 L1594.0,312.6 L1596.0,313.8 L1598.0,314.7 L1600.0,316.2 L1602.0,317.4 L1604.0,318.6 L1606.0,319.9 L1608.0,321.1 L1610.0,322.7 L1612.0,324.1 L1614.0,325.8 L1616.0,327.3 L1618.0,329.0 L1620.0,330.9 L1622.0,332.7 L1624.0,334.5 L1626.0,336.5 L1628.0,338.5 L1630.0,340.4 L1632.0,342.3 L1634.0,344.3 L1636.0,346.3 L1638.0,348.2 L1640.0,350.2 L1642.0,352.2 L1644.0,354.1 L1646.0,356.1 L1648.0,358.1 L1650.0,360.1 L1652.0,362.1 L1654.0,364.2 L1656.0,366.3 L1658.0,368.4 L1660.0,370.6 L1662.0,372.9 L1664.0,375.2 L1666.0,377.6 L1668.0,380.0 L1670.0,382.5 L1672.0,385.0 L1674.0,387.6 L1676.0,390.2 L1678.0,392.9 L1680.0,395.6 L1682.0,398.3 L1684.0,401.1 L1686.0,403.9 L1688.0,406.8 L1690.0,409.8 L1692.0,412.7 L1694.0,415.8 L1696.0,418.9 L1698.0,422.1 L1700.0,425.4 L1702.0,428.8 L1704.0,432.4 L1706.0,436.0 L1708.0,439.7 L1710.0,443.4 L1712.0,447.1 L1714.0,450.9 L1716.0,454.6 L1718.0,458.3 L1720.0,461.9"/>
<path stroke-width="4.8" d="M274.0,113.5 L276.0,113.9 L278.0,113.6 L280.0,114.1 L282.0,114.6 L284.0,114.7 L286.0,115.4 L288.0,114.4 L290.0,114.6 L292.0,114.4 L294.0,114.4 L296.0,114.8 L298.0,115.3 L300.0,115.7 L302.0,116.0 L304.0,117.2 L306.0,117.1 L308.0,115.8 L310.0,116.5 L312.0,116.4 L314.0,116.6 L316.0,117.9 L318.0,117.6 L320.0,116.7 L322.0,117.8 L324.0,118.0 L326.0,117.7 L328.0,117.9 L330.0,118.3 L332.0,118.9 L334.0,119.1 L336.0,119.6 L338.0,120.9 L340.0,120.0 L342.0,119.9 L344.0,120.3 L346.0,121.3 L348.0,120.9 L350.0,122.0 L352.0,121.1 L354.0,121.1 L356.0,121.8 L358.0,121.7 L360.0,122.0 L362.0,122.8 L364.0,123.4 L366.0,123.5 L368.0,123.4 L370.0,124.5 L372.0,124.5 L374.0,124.3 L376.0,125.2 L378.0,124.5 L380.0,125.0 L382.0,125.6 L384.0,125.6 L386.0,125.5 L388.0,126.1 L390.0,126.0 L392.0,126.1 L394.0,126.0 L396.0,127.4 L398.0,127.1 L400.0,128.1 L402.0,128.1 L404.0,128.0 L406.0,128.6 L408.0,128.8 L410.0,128.9 L412.0,128.3 L414.0,129.0 L416.0,129.9 L418.0,130.2 L420.0,130.7 L422.0,131.3 L424.0,131.1 L426.0,132.1 L428.0,130.6 L430.0,131.0 L432.0,130.1 L434.0,131.7 L436.0,132.1 L438.0,133.2 L440.0,132.7 L442.0,131.7 L444.0,133.4 L446.0,132.7 L448.0,132.7 L450.0,133.4 L452.0,134.3 L454.0,134.2 L456.0,134.7 L458.0,133.9 L460.0,135.7 L462.0,135.6 L464.0,135.8 L466.0,136.3 L468.0,136.4 L470.0,136.7 L472.0,136.3 L474.0,136.8 L476.0,137.4 L478.0,138.2 L480.0,138.0 L482.0,138.2 L484.0,138.6 L486.0,139.0 L488.0,139.2 L490.0,139.1 L492.0,139.2 L494.0,140.2 L496.0,140.3 L498.0,140.4 L500.0,142.5 L502.0,142.0 L504.0,142.0 L506.0,141.8 L508.0,141.2 L510.0,142.4 L512.0,142.3 L514.0,142.6 L516.0,143.4 L518.0,143.8 L520.0,143.7 L522.0,143.7 L524.0,145.1 L526.0,144.9 L528.0,144.1 L530.0,145.0 L532.0,145.2 L534.0,145.4 L536.0,146.0 L538.0,146.1 L540.0,147.3 L542.0,146.9 L544.0,147.0 L546.0,147.7 L548.0,147.2 L550.0,148.0 L552.0,147.9 L554.0,148.8 L556.0,148.1 L558.0,148.8 L560.0,148.1 L562.0,148.6 L564.0,149.3 L566.0,149.9 L568.0,151.2 L570.0,151.7 L572.0,150.3 L574.0,150.3 L576.0,151.6 L578.0,151.8 L580.0,151.0 L582.0,152.0 L584.0,151.6 L586.0,151.8 L588.0,151.8 L590.0,152.5 L592.0,154.3 L594.0,154.1 L596.0,153.9 L598.0,155.5 L600.0,154.6 L602.0,154.6 L604.0,154.7 L606.0,155.3 L608.0,155.3 L610.0,156.4 L612.0,156.1 L614.0,156.6 L616.0,156.8 L618.0,156.4 L620.0,156.4 L622.0,157.1 L624.0,156.3 L626.0,157.5 L628.0,158.1 L630.0,158.6 L632.0,158.8 L634.0,159.3 L636.0,159.3 L638.0,160.0 L640.0,159.2 L642.0,160.5 L644.0,160.2 L646.0,161.0 L648.0,161.0 L650.0,161.2 L652.0,161.2 L654.0,162.6 L656.0,161.9 L658.0,161.8 L660.0,162.7 L662.0,163.2 L664.0,163.5 L666.0,163.2 L668.0,163.4 L670.0,164.5 L672.0,164.0 L674.0,164.8 L676.0,165.4 L678.0,165.4 L680.0,164.8 L682.0,166.4 L684.0,166.1 L686.0,166.2 L688.0,166.1 L690.0,165.8 L692.0,166.2 L694.0,166.7 L696.0,166.4 L698.0,166.9 L700.0,167.8 L702.0,167.8 L704.0,167.5 L706.0,168.2 L708.0,168.4 L710.0,168.5 L712.0,167.6 L714.0,166.8 L716.0,168.0 L718.0,168.0 L720.0,167.8 L722.0,168.2 L724.0,167.8 L726.0,167.6 L728.0,168.8 L730.0,167.4 L732.0,168.2 L734.0,168.5 L736.0,169.0 L738.0,168.3 L740.0,168.2 L742.0,167.3 L744.0,167.5 L746.0,166.3 L748.0,166.7 L750.0,167.1 L752.0,167.1 L754.0,166.9 L756.0,167.7 L758.0,166.4 L760.0,166.8 L762.0,166.6 L764.0,166.7 L766.0,166.7 L768.0,167.7 L770.0,166.4 L772.0,167.2 L774.0,167.5 L776.0,166.7 L778.0,166.1 L780.0,165.5 L782.0,165.5 L784.0,167.1 L786.0,165.3 L788.0,166.1 L790.0,165.8 L792.0,167.1 L794.0,166.7 L796.0,165.7 L798.0,165.8 L800.0,166.3 L802.0,166.4 L804.0,166.0 L806.0,166.2 L808.0,166.3 L810.0,166.9 L812.0,167.0 L814.0,167.1 L816.0,166.8 L818.0,167.5 L820.0,167.0 L822.0,166.8 L824.0,167.0 L826.0,167.2 L828.0,167.4 L830.0,166.6 L832.0,168.2 L834.0,168.5 L836.0,169.0 L838.0,168.4 L840.0,168.8 L842.0,168.8 L844.0,168.8 L846.0,169.8 L848.0,169.0 L850.0,169.4 L852.0,168.4 L854.0,169.4 L856.0,169.4 L858.0,169.0 L860.0,169.2 L862.0,168.6 L864.0,169.0 L866.0,169.9 L868.0,168.8 L870.0,170.6 L872.0,171.2 L874.0,170.6 L876.0,170.1 L878.0,170.1 L880.0,170.2 L882.0,170.7 L884.0,172.6 L886.0,171.5 L888.0,172.3 L890.0,173.0 L892.0,172.1 L894.0,172.3 L896.0,173.0 L898.0,172.6 L900.0,173.6 L902.0,174.6 L904.0,173.9 L906.0,173.3 L908.0,174.0 L910.0,174.2 L912.0,173.8 L914.0,174.2 L916.0,174.5 L918.0,175.0 L920.0,175.6 L922.0,175.1 L924.0,174.6 L926.0,174.4 L928.0,176.3 L930.0,175.9 L932.0,175.9 L934.0,177.6 L936.0,177.6 L938.0,178.3 L940.0,177.4 L942.0,176.9 L944.0,177.0 L946.0,177.8 L948.0,178.1 L950.0,178.3 L952.0,179.5 L954.0,179.6 L956.0,178.4 L958.0,179.0 L960.0,179.4 L962.0,179.0 L964.0,180.7 L966.0,180.6 L968.0,181.1 L970.0,180.3 L972.0,179.8 L974.0,180.8 L976.0,180.8 L978.0,180.8 L980.0,181.2 L982.0,181.7 L984.0,181.9 L986.0,182.0 L988.0,182.6 L990.0,184.3 L992.0,184.1 L994.0,183.2 L996.0,184.5 L998.0,183.8 L1000.0,183.1 L1002.0,183.1 L1004.0,182.9 L1006.0,184.8 L1008.0,184.4 L1010.0,184.2 L1012.0,184.8 L1014.0,185.4 L1016.0,185.2 L1018.0,185.7 L1020.0,186.3 L1022.0,187.1 L1024.0,186.7 L1026.0,187.5 L1028.0,187.8 L1030.0,188.3 L1032.0,188.0 L1034.0,187.8 L1036.0,189.0 L1038.0,189.4 L1040.0,189.1 L1042.0,189.1 L1044.0,190.1 L1046.0,191.3 L1048.0,191.1 L1050.0,192.3 L1052.0,191.7 L1054.0,191.7 L1056.0,192.0 L1058.0,192.6 L1060.0,191.6 L1062.0,192.3 L1064.0,193.4 L1066.0,192.4 L1068.0,193.2 L1070.0,193.9 L1072.0,194.9 L1074.0,195.4 L1076.0,194.8 L1078.0,196.0 L1080.0,194.8 L1082.0,194.4 L1084.0,196.0 L1086.0,196.4 L1088.0,195.7 L1090.0,196.8 L1092.0,197.3 L1094.0,197.6 L1096.0,197.2 L1098.0,196.8 L1100.0,196.6 L1102.0,197.5 L1104.0,198.1 L1106.0,198.3 L1108.0,198.5 L1110.0,199.6 L1112.0,199.0 L1114.0,199.3 L1116.0,201.1 L1118.0,200.5 L1120.0,200.5 L1122.0,201.7 L1124.0,200.7 L1126.0,202.5 L1128.0,201.8 L1130.0,201.9 L1132.0,202.0 L1134.0,202.3 L1136.0,202.8 L1138.0,204.0 L1140.0,204.1 L1142.0,205.0 L1144.0,205.1 L1146.0,204.2 L1148.0,204.6 L1150.0,204.6 L1152.0,204.7 L1154.0,205.2 L1156.0,205.5 L1158.0,205.8 L1160.0,204.5 L1162.0,205.3 L1164.0,205.5 L1166.0,206.9 L1168.0,206.4 L1170.0,206.4 L1172.0,206.6 L1174.0,207.2 L1176.0,206.5 L1178.0,207.0 L1180.0,207.3 L1182.0,207.7 L1184.0,207.9 L1186.0,208.0 L1188.0,208.6 L1190.0,208.3 L1192.0,210.0 L1194.0,209.9 L1196.0,209.1 L1198.0,209.9 L1200.0,211.1"/>
<path stroke-width="4.2" d="M1200.0,211.1 L1202.0,211.1 L1204.0,211.4 L1206.0,210.5 L1208.0,212.5 L1210.0,212.7 L1212.0,211.9 L1214.0,212.7 L1216.0,214.3 L1218.0,214.5 L1220.0,213.8 L1222.0,214.3 L1224.0,215.2 L1226.0,216.7 L1228.0,216.5 L1230.0,217.0 L1232.0,216.8 L1234.0,217.2 L1236.0,216.9 L1238.0,216.9 L1240.0,217.1 L1242.0,217.9 L1244.0,219.4 L1246.0,219.4 L1248.0,220.4 L1250.0,220.7 L1252.0,220.7 L1254.0,220.5 L1256.0,222.1 L1258.0,222.3 L1260.0,222.7 L1262.0,223.7 L1264.0,223.7 L1266.0,223.2 L1268.0,223.3 L1270.0,223.7 L1272.0,224.9 L1274.0,223.7 L1276.0,223.1 L1278.0,223.8 L1280.0,224.5 L1282.0,224.6 L1284.0,225.7 L1286.0,226.1 L1288.0,226.1 L1290.0,226.4 L1292.0,227.7 L1294.0,228.5 L1296.0,228.8 L1298.0,228.0 L1300.0,228.8 L1302.0,228.0 L1304.0,227.6 L1306.0,229.6 L1308.0,230.1 L1310.0,230.5 L1312.0,231.2 L1314.0,231.9 L1316.0,231.6 L1318.0,231.8 L1320.0,232.3 L1322.0,232.8 L1324.0,232.9 L1326.0,232.4 L1328.0,234.6 L1330.0,233.8 L1332.0,233.9 L1334.0,234.8 L1336.0,235.0 L1338.0,235.7 L1340.0,237.2 L1342.0,237.4 L1344.0,236.7 L1346.0,237.1 L1348.0,237.3 L1350.0,238.3 L1352.0,237.7 L1354.0,237.7 L1356.0,237.5 L1358.0,238.8 L1360.0,239.4 L1362.0,239.9 L1364.0,240.4 L1366.0,239.6 L1368.0,239.9 L1370.0,239.8 L1372.0,241.3 L1374.0,241.7 L1376.0,240.8 L1378.0,241.8 L1380.0,242.2 L1382.0,242.5 L1384.0,243.2 L1386.0,243.0 L1388.0,243.3 L1390.0,243.6 L1392.0,244.0 L1394.0,244.2 L1396.0,245.9 L1398.0,246.5 L1400.0,246.7 L1402.0,246.3 L1404.0,248.8 L1406.0,248.8 L1408.0,249.3 L1410.0,250.2 L1412.0,251.5 L1414.0,251.3 L1416.0,250.5 L1418.0,251.7 L1420.0,252.8 L1422.0,253.2 L1424.0,254.9 L1426.0,254.8 L1428.0,255.6 L1430.0,255.6 L1432.0,256.9 L1434.0,256.8 L1436.0,258.0 L1438.0,258.4 L1440.0,258.9 L1442.0,259.5 L1444.0,258.9 L1446.0,259.7 L1448.0,260.7 L1450.0,261.0 L1452.0,262.4 L1454.0,263.0 L1456.0,262.7 L1458.0,263.9 L1460.0,264.0 L1462.0,264.7 L1464.0,265.7 L1466.0,265.2 L1468.0,265.6 L1470.0,266.5 L1472.0,267.1 L1474.0,267.0 L1476.0,268.5 L1478.0,269.2 L1480.0,269.9 L1482.0,270.6 L1484.0,271.4 L1486.0,271.4 L1488.0,272.4 L1490.0,272.8 L1492.0,273.4 L1494.0,273.8 L1496.0,275.3 L1498.0,274.7 L1500.0,275.7 L1502.0,277.0 L1504.0,277.5 L1506.0,278.0 L1508.0,279.2 L1510.0,279.3 L1512.0,280.0 L1514.0,280.9 L1516.0,281.3 L1518.0,281.9 L1520.0,282.7 L1522.0,283.8 L1524.0,283.9 L1526.0,284.9 L1528.0,285.5 L1530.0,286.0 L1532.0,286.4 L1534.0,288.0 L1536.0,288.6 L1538.0,289.2 L1540.0,289.8 L1542.0,291.1 L1544.0,291.3 L1546.0,291.8 L1548.0,292.6 L1550.0,293.6 L1552.0,294.6 L1554.0,294.9 L1556.0,296.2 L1558.0,297.2 L1560.0,298.3 L1562.0,299.0 L1564.0,300.2 L1566.0,301.4 L1568.0,301.8 L1570.0,302.6 L1572.0,303.8 L1574.0,304.9 L1576.0,305.7 L1578.0,306.8 L1580.0,307.4 L1582.0,308.8 L1584.0,309.9 L1586.0,311.0 L1588.0,312.1 L1590.0,313.3 L1592.0,314.2 L1594.0,315.6 L1596.0,316.3 L1598.0,317.7 L1600.0,318.8 L1602.0,320.4 L1604.0,321.4 L1606.0,322.8 L1608.0,324.2 L1610.0,325.8 L1612.0,327.2 L1614.0,328.7 L1616.0,330.4 L1618.0,332.4 L1620.0,334.3 L1622.0,336.2 L1624.0,338.2 L1626.0,340.3 L1628.0,342.5 L1630.0,344.6 L1632.0,346.7 L1634.0,348.8 L1636.0,350.9 L1638.0,353.0 L1640.0,355.0 L1642.0,357.0 L1644.0,359.0 L1646.0,361.1 L1648.0,363.1 L1650.0,365.2 L1652.0,367.3 L1654.0,369.4 L1656.0,371.6 L1658.0,373.8 L1660.0,376.1 L1662.0,378.4 L1664.0,380.8 L1666.0,383.3 L1668.0,385.8 L1670.0,388.4 L1672.0,391.0 L1674.0,393.6 L1676.0,396.3 L1678.0,399.0 L1680.0,401.8 L1682.0,404.6 L1684.0,407.5 L1686.0,410.4 L1688.0,413.4 L1690.0,416.5 L1692.0,419.6 L1694.0,422.8 L1696.0,426.0 L1698.0,429.4 L1700.0,432.9 L1702.0,436.5 L1704.0,440.3 L1706.0,444.1 L1708.0,448.1 L1710.0,452.0 L1712.0,456.0 L1714.0,460.0 L1716.0,464.0 L1718.0,468.0 L1720.0,471.9"/>
<path stroke-width="4.8" d="M274.0,127.9 L276.0,127.7 L278.0,128.8 L280.0,127.5 L282.0,128.4 L284.0,127.5 L286.0,129.2 L288.0,129.3 L290.0,130.0 L292.0,129.3 L294.0,129.6 L296.0,129.4 L298.0,129.2 L300.0,129.7 L302.0,129.1 L304.0,129.5 L306.0,130.3 L308.0,130.3 L310.0,130.1 L312.0,131.5 L314.0,130.9 L316.0,130.4 L318.0,130.7 L320.0,130.5 L322.0,130.6 L324.0,130.7 L326.0,132.1 L328.0,131.6 L330.0,131.5 L332.0,131.8 L334.0,132.8 L336.0,131.9 L338.0,131.4 L340.0,133.0 L342.0,131.5 L344.0,131.6 L346.0,132.3 L348.0,133.5 L350.0,132.1 L352.0,130.9 L354.0,132.3 L356.0,132.1 L358.0,132.2 L360.0,132.8 L362.0,132.9 L364.0,133.0 L366.0,132.7 L368.0,133.6 L370.0,134.1 L372.0,133.6 L374.0,133.2 L376.0,133.7 L378.0,133.9 L380.0,133.1 L382.0,133.2 L384.0,134.2 L386.0,134.0 L388.0,133.8 L390.0,134.1 L392.0,134.2 L394.0,134.3 L396.0,133.3 L398.0,135.1 L400.0,134.9 L402.0,134.4 L404.0,135.3 L406.0,135.3 L408.0,135.2 L410.0,135.8 L412.0,136.8 L414.0,136.3 L416.0,136.8 L418.0,137.3 L420.0,135.9 L422.0,135.7 L424.0,136.5 L426.0,135.5 L428.0,136.1 L430.0,137.2 L432.0,137.6 L434.0,137.6 L436.0,136.3 L438.0,138.3 L440.0,138.2 L442.0,138.3 L444.0,138.4 L446.0,137.3 L448.0,137.2 L450.0,137.4 L452.0,139.4 L454.0,138.7 L456.0,138.9 L458.0,139.1 L460.0,139.8 L462.0,140.2 L464.0,140.3 L466.0,139.7 L468.0,138.6 L470.0,140.2 L472.0,141.0 L474.0,142.0 L476.0,141.7 L478.0,141.6 L480.0,142.2 L482.0,141.6 L484.0,141.8 L486.0,142.1 L488.0,143.1 L490.0,144.6 L492.0,144.6 L494.0,145.1 L496.0,144.9 L498.0,145.1 L500.0,144.9 L502.0,145.2 L504.0,144.3 L506.0,144.9 L508.0,145.2 L510.0,146.7 L512.0,147.4 L514.0,148.1 L516.0,148.8 L518.0,148.2 L520.0,149.0 L522.0,150.0 L524.0,149.4 L526.0,150.1 L528.0,149.8 L530.0,149.2 L532.0,150.1 L534.0,150.2 L536.0,150.9 L538.0,151.1 L540.0,151.8 L542.0,150.9 L544.0,153.2 L546.0,153.8 L548.0,153.3 L550.0,153.0 L552.0,153.7 L554.0,154.5 L556.0,154.8 L558.0,155.2 L560.0,154.2 L562.0,154.6 L564.0,156.3 L566.0,156.5 L568.0,155.8 L570.0,156.2 L572.0,156.2 L574.0,156.6 L576.0,158.2 L578.0,158.2 L580.0,159.2 L582.0,159.2 L584.0,158.5 L586.0,158.9 L588.0,160.9 L590.0,160.1 L592.0,159.9 L594.0,161.3 L596.0,161.4 L598.0,161.5 L600.0,162.6 L602.0,161.4 L604.0,162.3 L606.0,162.1 L608.0,162.0 L610.0,162.4 L612.0,163.9 L614.0,163.9 L616.0,163.2 L618.0,163.5 L620.0,165.3 L622.0,165.9 L624.0,165.1 L626.0,167.0 L628.0,166.3 L630.0,165.8 L632.0,166.4 L634.0,167.4 L636.0,168.4 L638.0,168.6 L640.0,168.0 L642.0,168.0 L644.0,167.6 L646.0,168.5 L648.0,168.7 L650.0,169.5 L652.0,169.1 L654.0,169.5 L656.0,169.7 L658.0,169.8 L660.0,170.0 L662.0,170.3 L664.0,170.5 L666.0,171.8 L668.0,172.1 L670.0,171.6 L672.0,172.6 L674.0,173.0 L676.0,174.0 L678.0,173.6 L680.0,173.6 L682.0,173.4 L684.0,174.0 L686.0,174.5 L688.0,174.7 L690.0,174.6 L692.0,175.2 L694.0,175.3 L696.0,175.5 L698.0,175.0 L700.0,175.6 L702.0,175.2 L704.0,175.3 L706.0,175.9 L708.0,177.3 L710.0,177.3 L712.0,176.7 L714.0,176.5 L716.0,177.1 L718.0,177.6 L720.0,177.7 L722.0,177.0 L724.0,177.0 L726.0,176.7 L728.0,176.6 L730.0,176.3 L732.0,176.5 L734.0,175.5 L736.0,175.7 L738.0,176.6 L740.0,176.2 L742.0,176.8 L744.0,176.0 L746.0,176.2 L748.0,176.7 L750.0,176.0 L752.0,175.9 L754.0,177.7 L756.0,176.5 L758.0,176.0 L760.0,175.9 L762.0,176.2 L764.0,176.2 L766.0,176.7 L768.0,176.8 L770.0,176.1 L772.0,175.9 L774.0,175.2 L776.0,174.9 L778.0,175.2 L780.0,176.1 L782.0,176.1 L784.0,176.5 L786.0,176.7 L788.0,176.1 L790.0,177.2 L792.0,176.1 L794.0,175.7 L796.0,175.7 L798.0,176.7 L800.0,176.3 L802.0,175.9 L804.0,176.5 L806.0,177.1 L808.0,176.7 L810.0,176.6 L812.0,177.3 L814.0,177.6 L816.0,177.8 L818.0,176.9 L820.0,177.3 L822.0,177.5 L824.0,176.5 L826.0,177.9 L828.0,177.8 L830.0,177.7 L832.0,179.1 L834.0,178.5 L836.0,177.9 L838.0,178.2 L840.0,178.7 L842.0,179.1 L844.0,178.9 L846.0,178.4 L848.0,178.4 L850.0,178.5 L852.0,178.4 L854.0,179.1 L856.0,179.2 L858.0,179.6 L860.0,179.3 L862.0,179.3 L864.0,179.8 L866.0,180.0 L868.0,181.0 L870.0,180.3 L872.0,180.8 L874.0,180.9 L876.0,180.3 L878.0,181.4 L880.0,181.6 L882.0,180.4 L884.0,181.7 L886.0,182.4 L888.0,181.8 L890.0,183.1 L892.0,182.8 L894.0,182.1 L896.0,182.9 L898.0,182.8 L900.0,182.3 L902.0,181.8 L904.0,183.0 L906.0,183.1 L908.0,184.0 L910.0,184.2 L912.0,183.9 L914.0,183.9 L916.0,185.3 L918.0,185.9 L920.0,185.7 L922.0,185.1 L924.0,184.7 L926.0,185.0 L928.0,186.4 L930.0,186.3 L932.0,185.9 L934.0,185.4 L936.0,186.1 L938.0,185.9 L940.0,186.5 L942.0,187.2 L944.0,187.7 L946.0,187.5 L948.0,187.3 L950.0,187.6 L952.0,188.8 L954.0,188.5 L956.0,187.5 L958.0,188.9 L960.0,188.8 L962.0,190.7 L964.0,189.3 L966.0,189.1 L968.0,189.1 L970.0,189.5 L972.0,189.3 L974.0,188.8 L976.0,188.5 L978.0,189.5 L980.0,189.8 L982.0,190.0 L984.0,191.7 L986.0,191.6 L988.0,191.9 L990.0,191.3 L992.0,191.6 L994.0,191.5 L996.0,191.7 L998.0,192.4 L1000.0,192.6 L1002.0,192.7 L1004.0,192.8 L1006.0,192.0 L1008.0,192.3 L1010.0,193.1 L1012.0,193.1 L1014.0,193.0 L1016.0,193.8 L1018.0,193.4 L1020.0,193.6 L1022.0,194.6 L1024.0,194.4 L1026.0,195.5 L1028.0,195.5 L1030.0,195.8 L1032.0,196.2 L1034.0,194.6 L1036.0,195.4 L1038.0,195.1 L1040.0,195.6 L1042.0,196.1 L1044.0,197.2 L1046.0,197.0 L1048.0,198.0 L1050.0,197.3 L1052.0,197.4 L1054.0,197.7 L1056.0,198.4 L1058.0,198.2 L1060.0,198.0 L1062.0,198.2 L1064.0,197.8 L1066.0,199.3 L1068.0,199.7 L1070.0,199.8 L1072.0,199.9 L1074.0,199.6 L1076.0,199.8 L1078.0,200.6 L1080.0,200.2 L1082.0,200.2 L1084.0,201.7 L1086.0,202.3 L1088.0,202.0 L1090.0,202.2 L1092.0,202.2 L1094.0,203.1 L1096.0,202.5 L1098.0,202.7 L1100.0,203.2 L1102.0,204.0 L1104.0,203.6 L1106.0,203.8 L1108.0,203.7 L1110.0,203.8 L1112.0,204.1 L1114.0,204.9 L1116.0,206.0 L1118.0,205.8 L1120.0,206.0 L1122.0,206.6 L1124.0,207.5 L1126.0,208.3 L1128.0,207.9 L1130.0,208.9 L1132.0,208.8 L1134.0,210.0 L1136.0,209.7 L1138.0,209.7 L1140.0,210.1 L1142.0,210.8 L1144.0,210.6 L1146.0,211.4 L1148.0,211.7 L1150.0,211.8 L1152.0,212.0 L1154.0,212.5 L1156.0,211.8 L1158.0,212.1 L1160.0,212.2 L1162.0,211.2 L1164.0,212.2 L1166.0,212.0 L1168.0,212.1 L1170.0,212.3 L1172.0,212.9 L1174.0,213.3 L1176.0,213.7 L1178.0,213.4 L1180.0,214.3 L1182.0,214.7 L1184.0,214.6 L1186.0,215.1 L1188.0,215.9 L1190.0,216.3 L1192.0,216.8 L1194.0,217.0 L1196.0,217.9 L1198.0,219.1 L1200.0,218.8"/>
<path stroke-width="4.2" d="M1200.0,218.8 L1202.0,217.9 L1204.0,219.7 L1206.0,219.4 L1208.0,219.2 L1210.0,218.8 L1212.0,220.6 L1214.0,221.9 L1216.0,222.6 L1218.0,222.4 L1220.0,223.7 L1222.0,223.6 L1224.0,223.6 L1226.0,224.3 L1228.0,224.9 L1230.0,225.4 L1232.0,226.1 L1234.0,225.2 L1236.0,227.3 L1238.0,227.1 L1240.0,228.0 L1242.0,227.9 L1244.0,228.6 L1246.0,229.0 L1248.0,228.7 L1250.0,229.9 L1252.0,230.7 L1254.0,230.4 L1256.0,229.9 L1258.0,230.9 L1260.0,231.3 L1262.0,232.3 L1264.0,232.8 L1266.0,234.2 L1268.0,234.4 L1270.0,234.2 L1272.0,234.6 L1274.0,233.3 L1276.0,234.2 L1278.0,234.8 L1280.0,235.7 L1282.0,236.5 L1284.0,236.9 L1286.0,237.8 L1288.0,237.4 L1290.0,238.1 L1292.0,238.3 L1294.0,238.8 L1296.0,239.4 L1298.0,239.5 L1300.0,240.1 L1302.0,240.4 L1304.0,241.4 L1306.0,241.4 L1308.0,241.9 L1310.0,243.7 L1312.0,243.5 L1314.0,243.6 L1316.0,244.3 L1318.0,243.7 L1320.0,244.7 L1322.0,245.4 L1324.0,245.7 L1326.0,246.5 L1328.0,246.9 L1330.0,247.5 L1332.0,247.1 L1334.0,247.7 L1336.0,247.7 L1338.0,249.0 L1340.0,249.0 L1342.0,248.5 L1344.0,249.4 L1346.0,249.3 L1348.0,250.6 L1350.0,250.5 L1352.0,249.7 L1354.0,250.5 L1356.0,251.8 L1358.0,251.9 L1360.0,251.6 L1362.0,252.3 L1364.0,252.6 L1366.0,253.3 L1368.0,253.3 L1370.0,253.1 L1372.0,252.5 L1374.0,253.0 L1376.0,253.3 L1378.0,253.3 L1380.0,253.7 L1382.0,253.1 L1384.0,254.1 L1386.0,254.3 L1388.0,254.8 L1390.0,255.0 L1392.0,255.3 L1394.0,256.0 L1396.0,256.9 L1398.0,256.9 L1400.0,257.7 L1402.0,257.8 L1404.0,258.8 L1406.0,259.4 L1408.0,259.3 L1410.0,261.1 L1412.0,261.0 L1414.0,262.0 L1416.0,262.0 L1418.0,262.2 L1420.0,263.9 L1422.0,263.9 L1424.0,263.9 L1426.0,265.3 L1428.0,265.4 L1430.0,266.5 L1432.0,268.4 L1434.0,268.1 L1436.0,268.7 L1438.0,269.4 L1440.0,269.7 L1442.0,269.9 L1444.0,271.2 L1446.0,271.1 L1448.0,271.5 L1450.0,271.8 L1452.0,271.5 L1454.0,272.5 L1456.0,273.0 L1458.0,273.8 L1460.0,274.4 L1462.0,275.3 L1464.0,274.2 L1466.0,274.8 L1468.0,275.4 L1470.0,275.7 L1472.0,276.8 L1474.0,277.3 L1476.0,277.9 L1478.0,277.7 L1480.0,278.3 L1482.0,279.3 L1484.0,279.8 L1486.0,280.3 L1488.0,281.1 L1490.0,281.6 L1492.0,281.9 L1494.0,283.5 L1496.0,283.5 L1498.0,284.4 L1500.0,285.0 L1502.0,285.8 L1504.0,285.8 L1506.0,286.0 L1508.0,287.0 L1510.0,287.7 L1512.0,287.3 L1514.0,287.4 L1516.0,288.6 L1518.0,289.4 L1520.0,290.1 L1522.0,290.9 L1524.0,291.1 L1526.0,292.7 L1528.0,293.1 L1530.0,293.7 L1532.0,294.0 L1534.0,293.8 L1536.0,294.8 L1538.0,295.4 L1540.0,296.3 L1542.0,296.9 L1544.0,297.8 L1546.0,298.1 L1548.0,298.8 L1550.0,299.7 L1552.0,300.2 L1554.0,301.0 L1556.0,302.1 L1558.0,303.3 L1560.0,303.7 L1562.0,304.6 L1564.0,305.0 L1566.0,305.8 L1568.0,306.8 L1570.0,307.7 L1572.0,308.3 L1574.0,309.4 L1576.0,310.3 L1578.0,311.4 L1580.0,312.3 L1582.0,313.2 L1584.0,314.0 L1586.0,315.1 L1588.0,316.0 L1590.0,317.0 L1592.0,317.9 L1594.0,319.1 L1596.0,320.2 L1598.0,321.5 L1600.0,322.8 L1602.0,323.9 L1604.0,325.2 L1606.0,326.7 L1608.0,328.2 L1610.0,329.6 L1612.0,331.2 L1614.0,332.8 L1616.0,334.7 L1618.0,336.5 L1620.0,338.7 L1622.0,340.8 L1624.0,343.3 L1626.0,345.7 L1628.0,347.9 L1630.0,350.3 L1632.0,352.5 L1634.0,354.7 L1636.0,357.0 L1638.0,359.1 L1640.0,361.3 L1642.0,363.4 L1644.0,365.5 L1646.0,367.7 L1648.0,369.8 L1650.0,372.0 L1652.0,374.2 L1654.0,376.4 L1656.0,378.6 L1658.0,381.0 L1660.0,383.3 L1662.0,385.8 L1664.0,388.3 L1666.0,390.9 L1668.0,393.5 L1670.0,396.2 L1672.0,398.8 L1674.0,401.6 L1676.0,404.4 L1678.0,407.2 L1680.0,410.1 L1682.0,413.0 L1684.0,416.0 L1686.0,419.1 L1688.0,422.2 L1690.0,425.4 L1692.0,428.7 L1694.0,432.1 L1696.0,435.5 L1698.0,439.1 L1700.0,442.9 L1702.0,446.8 L1704.0,450.8 L1706.0,455.0 L1708.0,459.3 L1710.0,463.6 L1712.0,467.9 L1714.0,472.3 L1716.0,476.6 L1718.0,480.9 L1720.0,485.1"/>
<path stroke-width="4.8" d="M274.0,137.8 L276.0,136.8 L278.0,137.1 L280.0,137.8 L282.0,138.9 L284.0,138.5 L286.0,137.6 L288.0,138.5 L290.0,138.0 L292.0,139.3 L294.0,139.1 L296.0,140.2 L298.0,139.7 L300.0,139.1 L302.0,138.8 L304.0,139.4 L306.0,140.1 L308.0,140.9 L310.0,140.8 L312.0,140.4 L314.0,141.0 L316.0,140.3 L318.0,141.2 L320.0,141.0 L322.0,142.2 L324.0,142.5 L326.0,142.4 L328.0,141.7 L330.0,142.4 L332.0,142.7 L334.0,142.4 L336.0,142.4 L338.0,143.5 L340.0,143.1 L342.0,143.6 L344.0,144.4 L346.0,143.2 L348.0,144.7 L350.0,144.9 L352.0,144.2 L354.0,143.9 L356.0,143.8 L358.0,145.0 L360.0,143.6 L362.0,145.2 L364.0,145.4 L366.0,145.2 L368.0,145.3 L370.0,145.5 L372.0,145.8 L374.0,146.7 L376.0,146.1 L378.0,147.1 L380.0,147.5 L382.0,147.1 L384.0,147.5 L386.0,147.2 L388.0,147.5 L390.0,148.0 L392.0,149.1 L394.0,148.5 L396.0,148.3 L398.0,148.5 L400.0,148.6 L402.0,148.2 L404.0,149.8 L406.0,149.2 L408.0,149.1 L410.0,149.1 L412.0,150.0 L414.0,151.7 L416.0,152.4 L418.0,151.7 L420.0,151.2 L422.0,151.0 L424.0,150.5 L426.0,151.4 L428.0,151.4 L430.0,152.7 L432.0,152.0 L434.0,151.4 L436.0,150.9 L438.0,150.9 L440.0,152.3 L442.0,152.8 L444.0,152.3 L446.0,152.0 L448.0,153.1 L450.0,153.2 L452.0,153.7 L454.0,153.9 L456.0,153.7 L458.0,153.2 L460.0,154.2 L462.0,154.7 L464.0,155.0 L466.0,155.7 L468.0,156.0 L470.0,155.5 L472.0,156.1 L474.0,154.8 L476.0,156.1 L478.0,156.3 L480.0,157.1 L482.0,157.5 L484.0,156.7 L486.0,157.0 L488.0,157.9 L490.0,157.5 L492.0,157.8 L494.0,157.7 L496.0,158.4 L498.0,158.7 L500.0,158.3 L502.0,157.9 L504.0,157.5 L506.0,159.2 L508.0,159.2 L510.0,159.2 L512.0,159.4 L514.0,159.4 L516.0,160.5 L518.0,160.9 L520.0,159.6 L522.0,160.6 L524.0,161.1 L526.0,161.2 L528.0,161.6 L530.0,162.8 L532.0,162.6 L534.0,163.1 L536.0,163.3 L538.0,162.2 L540.0,163.7 L542.0,163.5 L544.0,163.3 L546.0,164.1 L548.0,165.2 L550.0,164.1 L552.0,163.9 L554.0,164.6 L556.0,163.7 L558.0,164.0 L560.0,164.9 L562.0,165.7 L564.0,166.0 L566.0,166.5 L568.0,166.9 L570.0,166.4 L572.0,166.4 L574.0,166.5 L576.0,166.7 L578.0,167.8 L580.0,168.2 L582.0,166.8 L584.0,167.9 L586.0,167.6 L588.0,167.6 L590.0,169.1 L592.0,169.8 L594.0,170.1 L596.0,170.1 L598.0,170.9 L600.0,169.7 L602.0,170.5 L604.0,170.1 L606.0,170.2 L608.0,169.8 L610.0,171.6 L612.0,172.6 L614.0,172.6 L616.0,172.0 L618.0,172.4 L620.0,172.0 L622.0,172.5 L624.0,173.9 L626.0,174.6 L628.0,174.5 L630.0,174.8 L632.0,174.6 L634.0,175.0 L636.0,175.0 L638.0,175.6 L640.0,175.4 L642.0,176.5 L644.0,176.4 L646.0,176.8 L648.0,177.0 L650.0,178.2 L652.0,178.4 L654.0,177.8 L656.0,177.7 L658.0,178.7 L660.0,179.0 L662.0,179.2 L664.0,179.7 L666.0,180.8 L668.0,180.5 L670.0,181.4 L672.0,180.9 L674.0,181.0 L676.0,181.5 L678.0,181.7 L680.0,181.7 L682.0,181.6 L684.0,182.1 L686.0,182.4 L688.0,183.0 L690.0,183.9 L692.0,184.1 L694.0,184.6 L696.0,184.5 L698.0,184.7 L700.0,185.0 L702.0,185.3 L704.0,185.7 L706.0,185.1 L708.0,185.5 L710.0,185.7 L712.0,186.4 L714.0,186.5 L716.0,185.9 L718.0,186.3 L720.0,186.7 L722.0,186.5 L724.0,187.2 L726.0,187.0 L728.0,186.1 L730.0,186.8 L732.0,187.3 L734.0,186.7 L736.0,187.4 L738.0,185.8 L740.0,187.9 L742.0,186.8 L744.0,187.0 L746.0,187.2 L748.0,186.7 L750.0,187.5 L752.0,187.1 L754.0,186.8 L756.0,186.2 L758.0,187.7 L760.0,188.5 L762.0,188.1 L764.0,188.2 L766.0,189.1 L768.0,188.7 L770.0,189.1 L772.0,189.1 L774.0,189.1 L776.0,189.0 L778.0,189.3 L780.0,189.0 L782.0,188.8 L784.0,188.3 L786.0,187.5 L788.0,187.8 L790.0,188.4 L792.0,189.3 L794.0,189.0 L796.0,188.0 L798.0,189.2 L800.0,190.0 L802.0,189.8 L804.0,189.8 L806.0,189.8 L808.0,189.7 L810.0,190.6 L812.0,189.7 L814.0,189.5 L816.0,189.1 L818.0,189.6 L820.0,189.7 L822.0,189.8 L824.0,190.4 L826.0,191.1 L828.0,190.1 L830.0,190.7 L832.0,190.4 L834.0,190.5 L836.0,190.6 L838.0,191.2 L840.0,190.4 L842.0,191.9 L844.0,191.6 L846.0,191.2 L848.0,190.6 L850.0,192.0 L852.0,192.3 L854.0,192.6 L856.0,192.4 L858.0,193.2 L860.0,193.5 L862.0,194.0 L864.0,193.2 L866.0,193.4 L868.0,192.7 L870.0,192.8 L872.0,192.7 L874.0,192.9 L876.0,193.1 L878.0,193.2 L880.0,193.3 L882.0,193.5 L884.0,193.3 L886.0,193.1 L888.0,193.3 L890.0,194.0 L892.0,194.4 L894.0,194.8 L896.0,195.7 L898.0,194.2 L900.0,194.8 L902.0,193.9 L904.0,194.1 L906.0,194.1 L908.0,194.6 L910.0,195.6 L912.0,196.1 L914.0,195.7 L916.0,196.0 L918.0,195.9 L920.0,195.0 L922.0,196.4 L924.0,195.7 L926.0,195.6 L928.0,195.9 L930.0,195.6 L932.0,195.8 L934.0,196.7 L936.0,196.1 L938.0,196.2 L940.0,195.7 L942.0,195.6 L944.0,196.8 L946.0,197.5 L948.0,197.3 L950.0,198.5 L952.0,197.5 L954.0,198.2 L956.0,197.8 L958.0,198.1 L960.0,198.7 L962.0,197.9 L964.0,199.3 L966.0,199.1 L968.0,199.2 L970.0,199.2 L972.0,199.6 L974.0,199.0 L976.0,198.9 L978.0,199.9 L980.0,200.0 L982.0,200.1 L984.0,200.6 L986.0,201.6 L988.0,200.7 L990.0,199.7 L992.0,200.6 L994.0,200.3 L996.0,201.2 L998.0,201.2 L1000.0,201.9 L1002.0,203.3 L1004.0,202.8 L1006.0,201.9 L1008.0,202.0 L1010.0,202.2 L1012.0,202.2 L1014.0,203.4 L1016.0,203.8 L1018.0,204.5 L1020.0,204.8 L1022.0,204.5 L1024.0,204.3 L1026.0,204.4 L1028.0,204.9 L1030.0,204.8 L1032.0,204.4 L1034.0,206.6 L1036.0,207.0 L1038.0,206.3 L1040.0,206.2 L1042.0,206.3 L1044.0,206.9 L1046.0,206.9 L1048.0,205.9 L1050.0,207.1 L1052.0,207.8 L1054.0,207.2 L1056.0,207.1 L1058.0,207.9 L1060.0,207.8 L1062.0,209.1 L1064.0,209.6 L1066.0,208.4 L1068.0,209.4 L1070.0,208.8 L1072.0,209.2 L1074.0,210.6 L1076.0,210.4 L1078.0,210.9 L1080.0,210.7 L1082.0,212.1 L1084.0,211.6 L1086.0,213.3 L1088.0,212.6 L1090.0,212.0 L1092.0,212.2 L1094.0,212.2 L1096.0,213.4 L1098.0,212.5 L1100.0,213.4 L1102.0,214.2 L1104.0,214.4 L1106.0,213.2 L1108.0,214.4 L1110.0,214.8 L1112.0,215.2 L1114.0,214.3 L1116.0,214.8 L1118.0,215.8 L1120.0,215.7 L1122.0,215.9 L1124.0,215.8 L1126.0,216.0 L1128.0,216.4 L1130.0,218.2 L1132.0,217.4 L1134.0,217.1 L1136.0,216.9 L1138.0,217.8 L1140.0,218.1 L1142.0,218.0 L1144.0,217.4 L1146.0,219.4 L1148.0,219.0 L1150.0,219.0"/>
<path stroke-width="4.2" d="M1150.0,219.0 L1150.8,219.0 L1151.6,219.1 L1152.4,219.2 L1153.2,219.4 L1154.0,219.5 L1154.8,219.7 L1155.6,220.0 L1156.4,220.3 L1157.2,220.5 L1158.0,220.8 L1158.8,221.1 L1159.6,221.4 L1160.4,221.8 L1161.2,222.2 L1162.0,222.7 L1162.8,223.2 L1163.6,223.9 L1164.4,224.5 L1165.2,225.3 L1166.0,226.1 L1166.8,226.9 L1167.6,227.8 L1168.4,228.7 L1169.2,229.6 L1170.0,230.5 L1170.8,231.4 L1171.6,232.3 L1172.4,233.2 L1173.2,234.1 L1174.0,235.0 L1174.8,235.8 L1175.6,236.6 L1176.4,237.4 L1177.2,238.2 L1178.0,238.9 L1178.8,239.7 L1179.6,240.5 L1180.4,241.3 L1181.2,242.1 L1182.0,242.9 L1182.8,243.7 L1183.6,244.5 L1184.4,245.3 L1185.2,246.1 L1186.0,247.0 L1186.8,247.9 L1187.6,248.8 L1188.4,249.7 L1189.2,250.6 L1190.0,251.6 L1190.8,252.6 L1191.6,253.7 L1192.4,254.8 L1193.2,256.0 L1194.0,257.2 L1194.8,258.5 L1195.6,259.7 L1196.0,260.4 L1196.4,261.0 L1196.8,261.6 L1197.2,262.3 L1197.6,262.9 L1198.0,263.6 L1198.4,264.2 L1198.8,264.9 L1199.2,265.5 L1200.0,266.8 L1200.8,268.0 L1201.6,269.2 L1202.4,270.4 L1203.2,271.5 L1204.0,272.6 L1204.8,273.6 L1205.6,274.7 L1206.4,275.7 L1207.2,276.7 L1208.0,277.6 L1208.8,278.6 L1209.6,279.5 L1210.4,280.5 L1211.2,281.4 L1212.0,282.3 L1212.8,283.2 L1213.6,284.1 L1214.4,285.1 L1215.2,286.0 L1216.0,286.9 L1216.8,287.9 L1217.6,288.8 L1218.4,289.8 L1219.2,290.7 L1220.0,291.7 L1220.8,292.7 L1221.6,293.6 L1222.4,294.6 L1223.2,295.6 L1224.0,296.5 L1224.8,297.5 L1225.6,298.5 L1226.4,299.4 L1227.2,300.4 L1228.0,301.3 L1228.8,302.3 L1229.6,303.2 L1230.4,304.2 L1231.2,305.1 L1232.0,306.0 L1232.8,306.9 L1233.6,307.8 L1234.4,308.8 L1235.2,309.7 L1236.0,310.5 L1236.8,311.4 L1237.6,312.3 L1238.4,313.2 L1239.2,314.1 L1240.0,315.0 L1240.8,315.9 L1241.6,316.8 L1242.4,317.7 L1243.2,318.7 L1244.0,319.7 L1244.8,320.7 L1245.6,321.7 L1246.4,322.8 L1247.2,323.8 L1248.0,324.8 L1248.8,325.7 L1249.6,326.6 L1250.4,327.4 L1251.2,328.0 L1252.0,328.6 L1252.8,329.2 L1253.6,329.7 L1254.4,330.1 L1255.2,330.5 L1256.0,330.8 L1256.8,331.1 L1257.6,331.3 L1258.4,331.5 L1259.2,331.7 L1260.0,331.9 L1260.8,332.0 L1261.6,332.0 L1262.4,332.0 L1263.2,331.9 L1264.0,331.7 L1264.8,331.6 L1265.6,331.4 L1266.4,331.2 L1267.2,331.0 L1268.0,330.7 L1268.8,330.4 L1269.6,330.0 L1270.4,329.6 L1271.2,329.2 L1272.0,328.7 L1272.8,328.3 L1273.6,327.7 L1274.4,327.2 L1275.2,326.5 L1276.0,325.9 L1276.8,325.1 L1277.6,324.4 L1278.4,323.6 L1279.2,322.8 L1280.0,322.0 L1280.8,321.2 L1281.6,320.4 L1282.4,319.5 L1283.2,318.7 L1284.0,318.0 L1284.8,317.2 L1285.6,316.5 L1286.4,315.8 L1287.2,315.2 L1288.0,314.5 L1288.8,313.8 L1289.6,313.1 L1290.4,312.4 L1291.2,311.8 L1292.0,311.2 L1292.8,310.7 L1293.6,310.2 L1294.4,309.8 L1295.2,309.4 L1296.0,309.1 L1296.8,308.7 L1297.6,308.4 L1298.4,308.0 L1299.2,307.8 L1300.0,307.5 L1300.8,307.3 L1301.6,307.2 L1302.4,307.1 L1303.2,307.1 L1304.0,307.2 L1304.8,307.4 L1305.6,307.6 L1306.4,307.9 L1307.2,308.2 L1308.0,308.5 L1308.8,308.9 L1309.6,309.3 L1310.4,309.9 L1311.2,310.4 L1312.0,311.1 L1312.8,311.7 L1313.6,312.3 L1314.4,312.9 L1315.2,313.5 L1316.0,314.1 L1316.8,314.7 L1317.6,315.3 L1318.4,315.9 L1319.2,316.5 L1320.0,317.1 L1320.8,317.7 L1321.6,318.3 L1322.4,318.9 L1323.2,319.5 L1324.0,320.1 L1324.8,320.7 L1325.6,321.3 L1326.4,321.8 L1327.2,322.4 L1328.0,322.9 L1328.8,323.5 L1329.6,324.0 L1330.4,324.5 L1331.2,325.0 L1332.0,325.5 L1332.8,326.1 L1333.6,326.6 L1334.4,327.1 L1335.2,327.5 L1336.0,328.0 L1336.8,328.5 L1337.6,328.9 L1338.4,329.4 L1339.2,329.8 L1340.0,330.2 L1340.8,330.6 L1341.6,331.0 L1342.4,331.4 L1343.2,331.7 L1344.0,332.1 L1344.8,332.4 L1345.6,332.7 L1346.4,333.0 L1347.2,333.3 L1348.0,333.5 L1348.8,333.7 L1349.6,333.9 L1350.4,334.1 L1351.2,334.3 L1352.0,334.4 L1352.8,334.5 L1353.6,334.6 L1354.4,334.6 L1355.2,334.5 L1356.0,334.4 L1356.8,334.2 L1357.6,334.1 L1358.4,333.9 L1359.2,333.7 L1360.0,333.4 L1360.8,333.1 L1361.6,332.7 L1362.4,332.3 L1363.2,331.8 L1364.0,331.3 L1364.8,330.8 L1365.6,330.1 L1366.4,329.3 L1367.2,328.5 L1368.0,327.6 L1368.8,326.6 L1369.6,325.6 L1370.4,324.6 L1371.2,323.6 L1372.0,322.6 L1372.8,321.5 L1373.6,320.6 L1374.4,319.5 L1375.2,318.5 L1376.0,317.4 L1376.8,316.3 L1377.6,315.1 L1378.4,313.9 L1379.2,312.8 L1380.0,311.6 L1380.8,310.5 L1381.6,309.3 L1382.4,308.2 L1383.2,307.1 L1384.0,306.0 L1384.8,304.9 L1385.6,303.7 L1386.4,302.6 L1387.2,301.4 L1388.0,300.3 L1388.8,299.2 L1389.6,298.1 L1390.4,297.1 L1391.2,296.2 L1392.0,295.3 L1392.8,294.5 L1393.6,293.8 L1394.4,293.1 L1395.2,292.4 L1396.0,291.8 L1396.8,291.1 L1397.6,290.6 L1398.4,290.0 L1399.2,289.5 L1400.0,289.0 L1400.8,288.5 L1401.6,288.1 L1402.4,287.7 L1403.2,287.4 L1404.0,287.1 L1404.8,286.8 L1405.6,286.5 L1406.4,286.3 L1407.2,286.1 L1408.0,285.8 L1408.8,285.6 L1409.6,285.4 L1410.4,285.2 L1411.2,285.0 L1412.0,284.7 L1412.8,284.5 L1413.6,284.2 L1414.4,283.8 L1415.2,283.5 L1416.0,283.1 L1416.8,282.7 L1417.6,282.3 L1418.4,282.0 L1419.2,281.7 L1420.0,281.4 L1420.8,281.2 L1421.6,281.1 L1422.4,281.0 L1423.2,281.0 L1424.0,281.0 L1424.8,281.0 L1425.6,281.1 L1426.4,281.1 L1427.2,281.2 L1428.0,281.3 L1428.8,281.3 L1429.6,281.4 L1430.4,281.5 L1431.2,281.6 L1432.0,281.7 L1432.8,281.7 L1433.6,281.8 L1434.4,281.9 L1435.2,282.0 L1436.0,282.1 L1436.8,282.2 L1437.6,282.4 L1438.4,282.5 L1439.2,282.6 L1440.0,282.8 L1440.8,282.9 L1441.6,283.1 L1442.4,283.3 L1443.2,283.5 L1444.0,283.6 L1444.8,283.8 L1445.6,284.0 L1446.4,284.2 L1447.2,284.4 L1448.0,284.7 L1448.8,284.9 L1449.6,285.1 L1450.4,285.3 L1451.2,285.5 L1452.0,285.8 L1452.8,286.0 L1453.6,286.2 L1454.4,286.4 L1455.2,286.7 L1456.0,286.9 L1456.8,287.1 L1457.6,287.3 L1458.4,287.6 L1459.2,287.8 L1460.0,288.0 L1460.8,288.2 L1461.6,288.4 L1462.4,288.7 L1463.2,288.9 L1464.0,289.1 L1464.8,289.4 L1465.6,289.6 L1466.4,289.8 L1467.2,290.1 L1468.0,290.3 L1468.8,290.6 L1469.6,290.8 L1470.4,291.1 L1471.2,291.3 L1472.0,291.6 L1472.8,291.9 L1473.6,292.1 L1474.4,292.4 L1475.2,292.7 L1476.0,292.9 L1476.8,293.2 L1477.6,293.5 L1478.4,293.7 L1479.2,294.0 L1480.0,294.3 L1480.8,294.6 L1481.6,294.8 L1482.4,295.1 L1483.2,295.4 L1484.0,295.7 L1484.8,295.9 L1485.6,296.2 L1486.4,296.5 L1487.2,296.7 L1488.0,297.0 L1488.8,297.3 L1489.6,297.5 L1490.4,297.8 L1491.2,298.1 L1492.0,298.3 L1492.8,298.6 L1493.6,298.9 L1494.4,299.1 L1495.2,299.4 L1496.0,299.6 L1496.8,299.9 L1497.6,300.1 L1498.4,300.4 L1499.2,300.6 L1500.0,300.8 L1500.8,301.1 L1501.6,301.3 L1502.4,301.5 L1503.2,301.8 L1504.0,302.0 L1504.8,302.2 L1505.6,302.4 L1506.4,302.6 L1507.2,302.8 L1508.0,303.0 L1508.8,303.2 L1509.6,303.4 L1510.4,303.6 L1511.2,303.7 L1512.0,303.9 L1512.8,304.1 L1513.6,304.3 L1514.4,304.4 L1515.2,304.6 L1516.0,304.8 L1516.8,304.9 L1517.6,305.1 L1518.4,305.2 L1519.2,305.4 L1520.0,305.5 L1520.8,305.7 L1521.6,305.8 L1522.4,306.0 L1523.2,306.1 L1524.0,306.3 L1524.8,306.4 L1525.6,306.5 L1526.4,306.7 L1527.2,306.8 L1528.0,307.0 L1528.8,307.1 L1529.6,307.2 L1530.4,307.4 L1531.2,307.5 L1532.0,307.7 L1532.8,307.8 L1533.6,308.0 L1534.4,308.1 L1535.2,308.3 L1536.0,308.4 L1536.8,308.6 L1537.6,308.7 L1538.4,308.9 L1539.2,309.0 L1540.0,309.2 L1540.8,309.4 L1541.6,309.5 L1542.4,309.7 L1543.2,309.9 L1544.0,310.1 L1544.8,310.2 L1545.6,310.4 L1546.4,310.6 L1547.2,310.8 L1548.0,311.0 L1548.8,311.2 L1549.6,311.4 L1550.4,311.6 L1551.2,311.8 L1552.0,312.0 L1552.8,312.3 L1553.6,312.5 L1554.4,312.7 L1555.2,312.9 L1556.0,313.2 L1556.8,313.4 L1557.6,313.6 L1558.4,313.9 L1559.2,314.1 L1560.0,314.4 L1560.8,314.6 L1561.6,314.9 L1562.4,315.1 L1563.2,315.4 L1564.0,315.7 L1564.8,315.9 L1565.6,316.2 L1566.4,316.5 L1567.2,316.7 L1568.0,317.0 L1568.8,317.3 L1569.6,317.5 L1570.4,317.8 L1571.2,318.1 L1572.0,318.4 L1572.8,318.7 L1573.6,319.0 L1574.4,319.2 L1575.2,319.5 L1576.0,319.8 L1576.8,320.1 L1577.6,320.4 L1578.4,320.7 L1579.2,321.0 L1580.0,321.3 L1580.8,321.6 L1581.6,321.9 L1582.4,322.2 L1583.2,322.5 L1584.0,322.8 L1584.8,323.1 L1585.6,323.5 L1586.4,323.8 L1587.2,324.1 L1588.0,324.4 L1588.8,324.7 L1589.6,325.0 L1590.4,325.3 L1591.2,325.6 L1592.0,325.9 L1592.8,326.2 L1593.6,326.5 L1594.4,326.8 L1595.2,327.1 L1596.0,327.4 L1596.8,327.7 L1597.6,328.0 L1598.4,328.4 L1599.2,328.7 L1600.0,329.1 L1600.8,329.4 L1601.6,329.8 L1602.4,330.2 L1603.2,330.7 L1604.0,331.1 L1604.8,331.6 L1605.6,332.1 L1606.4,332.6 L1607.2,333.1 L1608.0,333.8 L1608.8,334.5 L1609.6,335.3 L1610.4,336.2 L1611.2,337.1 L1612.0,338.2 L1612.8,339.2 L1613.6,340.3 L1614.4,341.5 L1615.2,342.7 L1616.0,343.9 L1616.8,345.1 L1617.6,346.3 L1618.4,347.5 L1619.2,348.7 L1620.0,349.9 L1620.8,351.1 L1621.6,352.2 L1622.4,353.2 L1623.2,354.2 L1624.0,355.2 L1624.8,356.2 L1625.6,357.2 L1626.4,358.1 L1627.2,359.1 L1628.0,360.0 L1628.8,360.9 L1629.6,361.9 L1630.4,362.8 L1631.2,363.7 L1632.0,364.6 L1632.8,365.5 L1633.6,366.4 L1634.4,367.3 L1635.2,368.2 L1636.0,369.1 L1636.8,369.9 L1637.6,370.8 L1638.4,371.7 L1639.2,372.6 L1640.0,373.5 L1640.8,374.4 L1641.6,375.3 L1642.4,376.2 L1643.2,377.1 L1644.0,378.0 L1644.8,378.9 L1645.6,379.8 L1646.4,380.8 L1647.2,381.7 L1648.0,382.6 L1648.8,383.6 L1649.6,384.5 L1650.4,385.5 L1651.2,386.5 L1652.0,387.5 L1652.8,388.5 L1653.6,389.5 L1654.4,390.5 L1655.2,391.5 L1656.0,392.6 L1656.8,393.6 L1657.6,394.6 L1658.4,395.7 L1659.2,396.7 L1660.0,397.8 L1660.8,398.8 L1661.6,399.9 L1662.4,401.0 L1663.2,402.0 L1664.0,403.1 L1664.8,404.2 L1665.6,405.3 L1666.4,406.4 L1667.2,407.5 L1668.0,408.6 L1668.8,409.7 L1669.6,410.8 L1670.4,411.9 L1671.2,413.1 L1672.0,414.2 L1672.8,415.4 L1673.6,416.5 L1674.4,417.7 L1675.2,418.9 L1676.0,420.1 L1676.8,421.3 L1677.6,422.5 L1678.4,423.7 L1679.2,425.0 L1680.0,426.2 L1680.8,427.5 L1681.2,428.1 L1681.6,428.8 L1682.0,429.4 L1682.4,430.0 L1682.8,430.7 L1683.2,431.3 L1683.6,432.0 L1684.0,432.7 L1684.4,433.3 L1684.8,434.0 L1685.2,434.7 L1685.6,435.3 L1686.0,436.0 L1686.4,436.7 L1686.8,437.4 L1687.2,438.1 L1687.6,438.7 L1688.0,439.4 L1688.4,440.2 L1688.8,440.9 L1689.2,441.6 L1689.6,442.3 L1690.0,443.0 L1690.4,443.8 L1690.8,444.5 L1691.2,445.2 L1691.6,446.0 L1692.0,446.7 L1692.4,447.5 L1692.8,448.2 L1693.2,449.0 L1693.6,449.8 L1694.0,450.5 L1694.4,451.3 L1694.8,452.1 L1695.2,452.9 L1695.6,453.7 L1696.0,454.5 L1696.4,455.3 L1696.8,456.1 L1697.2,456.9 L1697.6,457.7 L1698.0,458.5 L1698.4,459.4 L1698.8,460.2 L1699.2,461.0 L1699.6,461.8 L1700.0,462.7 L1700.4,463.5 L1700.8,464.4 L1701.2,465.2 L1701.6,466.1 L1702.0,466.9 L1702.4,467.8 L1702.8,468.7 L1703.2,469.5 L1703.6,470.4 L1704.0,471.3 L1704.4,472.2 L1704.8,473.1 L1705.2,474.0 L1705.6,474.8 L1706.0,475.7 L1706.4,476.6 L1706.8,477.5 L1707.2,478.5 L1707.6,479.4 L1708.0,480.3 L1708.4,481.2 L1708.8,482.2 L1709.2,483.1 L1709.6,484.1 L1710.0,485.0 L1710.4,486.0 L1710.8,487.0 L1711.2,488.0 L1711.6,489.0 L1712.0,490.0 L1712.4,491.0 L1712.8,492.0 L1713.2,493.0 L1713.6,494.0 L1714.0,495.1 L1714.4,496.1 L1714.8,497.2 L1715.2,498.2 L1715.6,499.3 L1716.0,500.3 L1716.4,501.4 L1716.8,502.5 L1717.2,503.5 L1717.6,504.6 L1718.0,505.7 L1718.4,506.8 L1718.8,507.9 L1719.2,509.0 L1719.6,510.1 L1720.0,511.2 L1720.4,512.3 L1720.8,513.4 L1721.0,514.0"/>
<path stroke-width="4.8" d="M274.0,146.4 L276.0,147.0 L278.0,146.9 L280.0,147.0 L282.0,146.9 L284.0,147.4 L286.0,148.4 L288.0,148.6 L290.0,149.1 L292.0,149.0 L294.0,149.2 L296.0,149.3 L298.0,148.5 L300.0,149.7 L302.0,150.1 L304.0,150.3 L306.0,149.3 L308.0,149.0 L310.0,149.5 L312.0,150.1 L314.0,150.8 L316.0,151.0 L318.0,151.5 L320.0,151.1 L322.0,151.6 L324.0,152.0 L326.0,151.6 L328.0,152.9 L330.0,152.9 L332.0,153.3 L334.0,152.6 L336.0,152.4 L338.0,152.6 L340.0,153.0 L342.0,153.6 L344.0,153.8 L346.0,153.5 L348.0,153.3 L350.0,153.6 L352.0,154.7 L354.0,154.1 L356.0,154.6 L358.0,155.0 L360.0,154.2 L362.0,154.9 L364.0,155.9 L366.0,154.6 L368.0,155.1 L370.0,155.6 L372.0,155.5 L374.0,156.2 L376.0,156.3 L378.0,155.7 L380.0,156.9 L382.0,157.3 L384.0,157.7 L386.0,158.2 L388.0,157.9 L390.0,157.8 L392.0,157.1 L394.0,158.0 L396.0,157.8 L398.0,157.9 L400.0,157.6 L402.0,157.8 L404.0,158.2 L406.0,159.4 L408.0,158.1 L410.0,158.1 L412.0,159.2 L414.0,160.3 L416.0,160.3 L418.0,159.1 L420.0,158.4 L422.0,159.9 L424.0,159.9 L426.0,159.8 L428.0,161.0 L430.0,161.6 L432.0,161.4 L434.0,161.5 L436.0,161.8 L438.0,162.6 L440.0,162.5 L442.0,162.5 L444.0,162.6 L446.0,161.6 L448.0,162.9 L450.0,163.3 L452.0,163.3 L454.0,162.0 L456.0,162.4 L458.0,163.5 L460.0,162.5 L462.0,163.1 L464.0,164.1 L466.0,163.3 L468.0,164.7 L470.0,164.7 L472.0,164.4 L474.0,164.7 L476.0,165.0 L478.0,165.0 L480.0,165.6 L482.0,164.9 L484.0,164.9 L486.0,165.8 L488.0,165.6 L490.0,165.2 L492.0,166.1 L494.0,166.8 L496.0,166.1 L498.0,165.4 L500.0,166.0 L502.0,166.2 L504.0,166.3 L506.0,167.4 L508.0,166.5 L510.0,167.5 L512.0,166.6 L514.0,166.6 L516.0,167.5 L518.0,168.2 L520.0,168.3 L522.0,168.2 L524.0,168.1 L526.0,168.2 L528.0,168.5 L530.0,168.3 L532.0,168.6 L534.0,168.9 L536.0,168.8 L538.0,169.3 L540.0,169.5 L542.0,170.4 L544.0,169.9 L546.0,169.4 L548.0,169.3 L550.0,169.6 L552.0,170.3 L554.0,170.0 L556.0,170.4 L558.0,171.4 L560.0,169.4 L562.0,169.6 L564.0,170.6 L566.0,171.1 L568.0,171.3 L570.0,171.1 L572.0,171.7 L574.0,171.8 L576.0,171.5 L578.0,173.2 L580.0,172.7 L582.0,172.2 L584.0,172.4 L586.0,172.5 L588.0,172.7 L590.0,171.5 L592.0,172.4 L594.0,173.7 L596.0,173.0 L598.0,173.6 L600.0,174.4 L602.0,174.8 L604.0,175.4 L606.0,174.0 L608.0,174.4 L610.0,174.7 L612.0,175.5 L614.0,176.2 L616.0,174.6 L618.0,176.2 L620.0,175.6 L622.0,176.7 L624.0,176.1 L626.0,177.0 L628.0,178.1 L630.0,177.9 L632.0,178.3 L634.0,178.9 L636.0,179.0 L638.0,179.1 L640.0,180.2 L642.0,180.6 L644.0,180.2 L646.0,181.9 L648.0,180.6 L650.0,181.5 L652.0,181.4 L654.0,181.8 L656.0,182.5 L658.0,182.7 L660.0,183.2 L662.0,182.4 L664.0,182.3 L666.0,183.7 L668.0,183.5 L670.0,183.7 L672.0,183.7 L674.0,185.4 L676.0,185.9 L678.0,186.7 L680.0,185.9 L682.0,186.3 L684.0,186.0 L686.0,187.2 L688.0,188.2 L690.0,187.4 L692.0,188.6 L694.0,188.9 L696.0,188.6 L698.0,187.6 L700.0,189.3 L702.0,189.2 L704.0,189.1 L706.0,189.7 L708.0,190.1 L710.0,191.0 L712.0,190.0 L714.0,191.0 L716.0,191.7 L718.0,192.1 L720.0,191.4 L722.0,191.0 L724.0,192.0 L726.0,191.9 L728.0,192.1 L730.0,192.9 L732.0,192.4 L734.0,191.3 L736.0,192.0 L738.0,191.6 L740.0,193.0 L742.0,193.4 L744.0,193.1 L746.0,193.4 L748.0,194.1 L750.0,194.0 L752.0,194.8 L754.0,194.4 L756.0,195.0 L758.0,195.5 L760.0,195.9 L762.0,194.8 L764.0,195.4 L766.0,194.2 L768.0,194.3 L770.0,193.9 L772.0,195.6 L774.0,195.0 L776.0,195.5 L778.0,195.7 L780.0,195.9 L782.0,195.8 L784.0,196.3 L786.0,197.4 L788.0,196.9 L790.0,197.0 L792.0,197.4 L794.0,197.0 L796.0,196.3 L798.0,196.6 L800.0,197.6 L802.0,196.6 L804.0,196.8 L806.0,197.9 L808.0,198.2 L810.0,198.0 L812.0,198.4 L814.0,198.2 L816.0,197.5 L818.0,197.1 L820.0,197.5 L822.0,198.6 L824.0,198.2 L826.0,197.9 L828.0,198.0 L830.0,197.6 L832.0,198.3 L834.0,198.0 L836.0,198.8 L838.0,197.6 L840.0,198.8 L842.0,198.7 L844.0,198.0 L846.0,199.2 L848.0,199.1 L850.0,198.1 L852.0,198.5 L854.0,199.3 L856.0,199.2 L858.0,199.9 L860.0,200.2 L862.0,200.3 L864.0,200.2 L866.0,200.7 L868.0,200.6 L870.0,200.4 L872.0,199.0 L874.0,200.2 L876.0,200.9 L878.0,200.3 L880.0,200.0 L882.0,201.3 L884.0,199.7 L886.0,200.5 L888.0,201.8 L890.0,200.5 L892.0,201.0 L894.0,201.8 L896.0,201.1 L898.0,201.2 L900.0,201.5 L902.0,200.6 L904.0,200.8 L906.0,201.2 L908.0,201.6 L910.0,201.3 L912.0,201.2 L914.0,200.8 L916.0,201.0 L918.0,201.9 L920.0,201.8 L922.0,201.3 L924.0,201.2 L926.0,203.1 L928.0,203.0 L930.0,202.8 L932.0,201.0 L934.0,202.2 L936.0,202.6 L938.0,203.5 L940.0,203.1 L942.0,202.8 L944.0,203.1 L946.0,202.0 L948.0,203.3 L950.0,203.4 L952.0,203.0 L954.0,204.1 L956.0,204.8 L958.0,203.4 L960.0,203.4 L962.0,204.0 L964.0,204.2 L966.0,204.1 L968.0,203.9 L970.0,205.6 L972.0,205.7 L974.0,204.6 L976.0,204.2 L978.0,205.9 L980.0,206.2 L982.0,206.8 L984.0,206.6 L986.0,205.7 L988.0,206.2 L990.0,205.1 L992.0,205.6 L994.0,206.3 L996.0,207.0 L998.0,206.6 L1000.0,206.9 L1002.0,207.5 L1004.0,207.8 L1006.0,208.1 L1008.0,208.1 L1010.0,208.0 L1012.0,208.7 L1014.0,208.6 L1016.0,208.2 L1018.0,208.3 L1020.0,208.9 L1022.0,209.1 L1024.0,209.5 L1026.0,209.6 L1028.0,209.9 L1030.0,210.0 L1032.0,209.5 L1034.0,210.4 L1036.0,211.2 L1038.0,211.3 L1040.0,211.1 L1042.0,211.5 L1044.0,211.1 L1046.0,210.5 L1048.0,211.5 L1050.0,211.5 L1052.0,212.5 L1054.0,212.0 L1056.0,211.2 L1058.0,211.9 L1060.0,213.7 L1062.0,213.4 L1064.0,212.9 L1066.0,213.2 L1068.0,214.2 L1070.0,214.7 L1072.0,214.8 L1074.0,215.7 L1076.0,215.8 L1078.0,215.5 L1080.0,215.9 L1082.0,216.8 L1084.0,216.9 L1086.0,217.1 L1088.0,216.2 L1090.0,216.5 L1092.0,217.3 L1094.0,217.1 L1096.0,218.0 L1098.0,218.2 L1100.0,218.6 L1102.0,218.3 L1104.0,219.8 L1106.0,219.8 L1108.0,219.2 L1110.0,219.4 L1112.0,221.1 L1114.0,220.3 L1116.0,221.0 L1118.0,221.6 L1120.0,221.6 L1122.0,221.3 L1124.0,222.2 L1126.0,223.0 L1128.0,224.0 L1130.0,224.5 L1132.0,224.5 L1134.0,225.3 L1136.0,225.7 L1138.0,225.9 L1140.0,226.1 L1142.0,226.2 L1144.0,226.9 L1146.0,226.2 L1148.0,226.3 L1150.0,227.0"/>
<path stroke-width="4.2" d="M1150.0,227.0 L1150.8,227.4 L1151.6,227.7 L1152.4,228.1 L1153.2,228.6 L1154.0,229.0 L1154.8,229.4 L1155.6,229.9 L1156.4,230.3 L1157.2,230.8 L1158.0,231.3 L1158.8,231.8 L1159.6,232.3 L1160.4,232.9 L1161.2,233.4 L1162.0,234.0 L1162.8,234.5 L1163.6,235.1 L1164.4,235.7 L1165.2,236.3 L1166.0,236.9 L1166.8,237.5 L1167.6,238.1 L1168.4,238.7 L1169.2,239.4 L1170.0,240.0 L1170.8,240.7 L1171.6,241.3 L1172.4,242.1 L1173.2,242.8 L1174.0,243.5 L1174.8,244.3 L1175.6,245.1 L1176.4,245.9 L1177.2,246.8 L1178.0,247.6 L1178.8,248.5 L1179.6,249.3 L1180.4,250.2 L1181.2,251.1 L1182.0,252.0 L1182.8,252.9 L1183.6,253.8 L1184.4,254.8 L1185.2,255.7 L1186.0,256.6 L1186.8,257.5 L1187.6,258.5 L1188.4,259.4 L1189.2,260.3 L1190.0,261.2 L1190.8,262.1 L1191.6,263.0 L1192.4,263.9 L1193.2,264.8 L1194.0,265.7 L1194.8,266.6 L1195.6,267.5 L1196.4,268.4 L1197.2,269.3 L1198.0,270.3 L1198.8,271.2 L1199.6,272.2 L1200.4,273.2 L1201.2,274.3 L1202.0,275.3 L1202.8,276.4 L1203.6,277.6 L1204.4,278.7 L1205.2,279.9 L1206.0,281.2 L1206.4,281.8 L1206.8,282.4 L1207.2,283.1 L1207.6,283.7 L1208.0,284.4 L1208.4,285.1 L1208.8,285.8 L1209.2,286.5 L1209.6,287.2 L1210.0,287.9 L1210.4,288.6 L1210.8,289.3 L1211.2,290.0 L1211.6,290.8 L1212.0,291.5 L1212.4,292.3 L1212.8,293.0 L1213.2,293.8 L1213.6,294.5 L1214.0,295.3 L1214.4,296.1 L1214.8,296.9 L1215.2,297.7 L1215.6,298.5 L1216.0,299.3 L1216.4,300.1 L1216.8,300.9 L1217.2,301.8 L1217.6,302.6 L1218.0,303.5 L1218.4,304.3 L1218.8,305.2 L1219.2,306.1 L1219.6,307.0 L1220.0,307.9 L1220.4,308.8 L1220.8,309.7 L1221.2,310.7 L1221.6,311.6 L1222.0,312.6 L1222.4,313.6 L1222.8,314.6 L1223.2,315.5 L1223.6,316.5 L1224.0,317.6 L1224.4,318.6 L1224.8,319.6 L1225.2,320.6 L1225.6,321.7 L1226.0,322.7 L1226.4,323.8 L1226.8,324.8 L1227.2,325.9 L1227.6,326.9 L1228.0,328.0 L1228.4,329.1 L1228.8,330.2 L1229.2,331.3 L1229.6,332.3 L1230.0,333.4 L1230.4,334.5 L1230.8,335.6 L1231.2,336.7 L1231.6,337.8 L1232.0,338.9 L1232.4,340.0 L1232.8,341.2 L1233.2,342.3 L1233.6,343.5 L1234.0,344.6 L1234.4,345.8 L1234.8,347.0 L1235.2,348.2 L1235.6,349.4 L1236.0,350.6 L1236.4,351.8 L1236.8,353.0 L1237.2,354.2 L1237.6,355.5 L1238.0,356.7 L1238.4,357.9 L1238.8,359.2 L1239.2,360.4 L1239.6,361.6 L1240.0,362.9 L1240.4,364.1 L1240.8,365.4 L1241.2,366.6 L1241.6,367.8 L1242.0,369.1 L1242.4,370.3 L1242.8,371.5 L1243.2,372.8 L1243.6,374.0 L1244.0,375.2 L1244.4,376.4 L1244.8,377.6 L1245.2,378.8 L1245.6,380.0 L1246.0,381.3 L1246.4,382.5 L1246.8,383.8 L1247.2,385.1 L1247.6,386.3 L1248.0,387.6 L1248.4,388.9 L1248.8,390.1 L1249.2,391.3 L1249.6,392.5 L1250.0,393.7 L1250.4,394.8 L1250.8,395.9 L1251.2,397.0 L1251.6,398.0 L1252.0,399.0 L1252.4,399.9 L1252.8,400.9 L1253.2,401.8 L1253.6,402.6 L1254.0,403.5 L1254.4,404.3 L1254.8,405.1 L1255.2,405.8 L1255.6,406.5 L1256.4,407.8 L1257.2,408.9 L1258.0,409.9 L1258.8,410.9 L1259.6,411.8 L1260.4,412.7 L1261.2,413.7 L1262.0,414.6 L1262.8,415.5 L1263.6,416.2 L1264.4,416.8 L1265.2,417.3 L1266.0,417.8 L1266.8,418.2 L1267.6,418.4 L1268.4,418.5 L1269.2,418.4 L1270.0,418.2 L1270.8,417.8 L1271.6,417.4 L1272.4,416.9 L1273.2,416.4 L1274.0,415.8 L1274.8,414.9 L1275.6,413.8 L1276.4,412.6 L1277.2,411.4 L1277.6,410.7 L1278.0,410.0 L1278.4,409.3 L1278.8,408.6 L1279.2,407.8 L1279.6,407.0 L1280.0,406.2 L1280.4,405.4 L1280.8,404.6 L1281.2,403.7 L1281.6,402.8 L1282.0,402.0 L1282.4,401.1 L1282.8,400.3 L1283.2,399.4 L1283.6,398.6 L1284.0,397.7 L1284.4,396.8 L1284.8,396.0 L1285.2,395.1 L1285.6,394.2 L1286.0,393.4 L1286.4,392.5 L1286.8,391.6 L1287.2,390.7 L1287.6,389.8 L1288.0,388.8 L1288.4,387.9 L1288.8,386.9 L1289.2,386.0 L1289.6,385.0 L1290.0,384.0 L1290.4,383.0 L1290.8,382.0 L1291.2,380.9 L1291.6,379.9 L1292.0,378.8 L1292.4,377.7 L1292.8,376.6 L1293.2,375.4 L1293.6,374.3 L1294.0,373.1 L1294.4,371.9 L1294.8,370.6 L1295.2,369.4 L1295.6,368.1 L1296.0,366.7 L1296.4,365.3 L1296.8,363.9 L1297.0,363.2 L1297.2,362.4 L1297.4,361.7 L1297.6,361.0 L1297.8,360.2 L1298.0,359.5 L1298.2,358.7 L1298.4,358.0 L1298.6,357.2 L1298.8,356.5 L1299.0,355.7 L1299.2,355.0 L1299.4,354.2 L1299.6,353.5 L1299.8,352.7 L1300.0,352.0 L1300.2,351.3 L1300.4,350.5 L1300.6,349.7 L1300.8,349.0 L1301.0,348.2 L1301.2,347.4 L1301.4,346.6 L1301.6,345.8 L1301.8,345.0 L1302.0,344.2 L1302.2,343.4 L1302.4,342.6 L1302.6,341.8 L1302.8,341.0 L1303.0,340.2 L1303.2,339.5 L1303.4,338.7 L1303.6,337.9 L1303.8,337.2 L1304.0,336.5 L1304.4,335.0 L1304.8,333.7 L1305.2,332.4 L1305.6,331.0 L1306.0,329.7 L1306.4,328.4 L1306.8,327.2 L1307.2,325.9 L1307.6,324.7 L1308.0,323.6 L1308.4,322.6 L1308.8,321.6 L1309.2,320.7 L1309.6,320.0 L1310.0,319.3 L1310.4,318.7 L1311.2,317.4 L1312.0,316.3 L1312.8,315.4 L1313.6,314.6 L1314.4,314.1 L1315.2,313.6 L1316.0,313.2 L1316.8,312.9 L1317.6,312.6 L1318.4,312.4 L1319.2,312.3 L1320.0,312.3 L1320.8,312.5 L1321.6,312.8 L1322.4,313.2 L1323.2,313.6 L1324.0,314.0 L1324.8,314.5 L1325.6,315.2 L1326.4,315.9 L1327.2,316.7 L1328.0,317.6 L1328.8,318.4 L1329.6,319.2 L1330.4,320.0 L1331.2,320.7 L1332.0,321.5 L1332.8,322.3 L1333.6,323.1 L1334.4,323.9 L1335.2,324.8 L1336.0,325.6 L1336.8,326.4 L1337.6,327.2 L1338.4,328.0 L1339.2,328.8 L1340.0,329.6 L1340.8,330.4 L1341.6,331.2 L1342.4,332.0 L1343.2,332.8 L1344.0,333.6 L1344.8,334.4 L1345.6,335.2 L1346.4,336.0 L1347.2,336.8 L1348.0,337.6 L1348.8,338.4 L1349.6,339.2 L1350.4,340.1 L1351.2,340.9 L1352.0,341.8 L1352.8,342.6 L1353.6,343.5 L1354.4,344.4 L1355.2,345.2 L1356.0,346.0 L1356.8,346.7 L1357.6,347.4 L1358.4,348.1 L1359.2,348.7 L1360.0,349.3 L1360.8,349.8 L1361.6,350.4 L1362.4,350.9 L1363.2,351.2 L1364.0,351.5 L1364.8,351.7 L1365.6,351.9 L1366.4,352.0 L1367.2,352.2 L1368.0,352.3 L1368.8,352.4 L1369.6,352.5 L1370.4,352.5 L1371.2,352.4 L1372.0,352.3 L1372.8,352.0 L1373.6,351.7 L1374.4,351.3 L1375.2,350.9 L1376.0,350.4 L1376.8,349.7 L1377.6,349.0 L1378.4,348.2 L1379.2,347.3 L1380.0,346.4 L1380.8,345.4 L1381.6,344.3 L1382.4,343.2 L1383.2,342.0 L1384.0,340.8 L1384.4,340.1 L1384.8,339.5 L1385.2,338.8 L1385.6,338.1 L1386.0,337.4 L1386.4,336.7 L1386.8,336.0 L1387.2,335.3 L1387.6,334.5 L1388.0,333.8 L1388.4,333.0 L1388.8,332.2 L1389.2,331.3 L1389.6,330.4 L1390.0,329.5 L1390.4,328.5 L1390.8,327.5 L1391.2,326.4 L1391.6,325.4 L1392.0,324.3 L1392.4,323.2 L1392.8,322.1 L1393.2,321.0 L1393.6,319.9 L1394.0,318.7 L1394.4,317.7 L1394.8,316.6 L1395.2,315.5 L1395.6,314.5 L1396.0,313.4 L1396.4,312.4 L1396.8,311.5 L1397.2,310.6 L1397.6,309.7 L1398.0,308.9 L1398.4,308.1 L1398.8,307.3 L1399.2,306.5 L1399.6,305.7 L1400.0,304.9 L1400.4,304.1 L1400.8,303.3 L1401.2,302.6 L1401.6,301.8 L1402.0,301.1 L1402.4,300.3 L1402.8,299.6 L1403.2,298.9 L1403.6,298.2 L1404.0,297.6 L1404.4,296.9 L1405.2,295.7 L1406.0,294.6 L1406.8,293.5 L1407.6,292.6 L1408.4,291.8 L1409.2,291.0 L1410.0,290.3 L1410.8,289.6 L1411.6,289.0 L1412.4,288.4 L1413.2,287.8 L1414.0,287.4 L1414.8,286.9 L1415.6,286.5 L1416.4,286.1 L1417.2,285.7 L1418.0,285.4 L1418.8,285.0 L1419.6,284.6 L1420.4,284.3 L1421.2,284.0 L1422.0,283.7 L1422.8,283.4 L1423.6,283.2 L1424.4,283.0 L1425.2,282.8 L1426.0,282.7 L1426.8,282.6 L1427.6,282.6 L1428.4,282.6 L1429.2,282.6 L1430.0,282.7 L1430.8,282.7 L1431.6,282.8 L1432.4,282.9 L1433.2,283.0 L1434.0,283.0 L1434.8,283.2 L1435.6,283.3 L1436.4,283.4 L1437.2,283.5 L1438.0,283.6 L1438.8,283.8 L1439.6,283.9 L1440.4,284.1 L1441.2,284.2 L1442.0,284.4 L1442.8,284.6 L1443.6,284.7 L1444.4,284.9 L1445.2,285.0 L1446.0,285.2 L1446.8,285.4 L1447.6,285.5 L1448.4,285.7 L1449.2,285.8 L1450.0,286.0 L1450.8,286.2 L1451.6,286.3 L1452.4,286.5 L1453.2,286.6 L1454.0,286.8 L1454.8,287.0 L1455.6,287.2 L1456.4,287.3 L1457.2,287.5 L1458.0,287.7 L1458.8,287.9 L1459.6,288.1 L1460.4,288.3 L1461.2,288.5 L1462.0,288.7 L1462.8,288.9 L1463.6,289.2 L1464.4,289.4 L1465.2,289.6 L1466.0,289.8 L1466.8,290.0 L1467.6,290.3 L1468.4,290.5 L1469.2,290.7 L1470.0,291.0 L1470.8,291.2 L1471.6,291.4 L1472.4,291.7 L1473.2,291.9 L1474.0,292.2 L1474.8,292.4 L1475.6,292.6 L1476.4,292.9 L1477.2,293.1 L1478.0,293.4 L1478.8,293.6 L1479.6,293.9 L1480.4,294.1 L1481.2,294.4 L1482.0,294.6 L1482.8,294.9 L1483.6,295.1 L1484.4,295.4 L1485.2,295.6 L1486.0,295.9 L1486.8,296.1 L1487.6,296.4 L1488.4,296.6 L1489.2,296.8 L1490.0,297.1 L1490.8,297.3 L1491.6,297.6 L1492.4,297.8 L1493.2,298.0 L1494.0,298.3 L1494.8,298.5 L1495.6,298.7 L1496.4,299.0 L1497.2,299.2 L1498.0,299.4 L1498.8,299.7 L1499.6,299.9 L1500.4,300.1 L1501.2,300.3 L1502.0,300.5 L1502.8,300.7 L1503.6,300.9 L1504.4,301.1 L1505.2,301.3 L1506.0,301.5 L1506.8,301.7 L1507.6,301.9 L1508.4,302.1 L1509.2,302.3 L1510.0,302.4 L1510.8,302.6 L1511.6,302.8 L1512.4,303.0 L1513.2,303.1 L1514.0,303.3 L1514.8,303.5 L1515.6,303.6 L1516.4,303.8 L1517.2,303.9 L1518.0,304.1 L1518.8,304.2 L1519.6,304.4 L1520.4,304.5 L1521.2,304.7 L1522.0,304.8 L1522.8,305.0 L1523.6,305.1 L1524.4,305.3 L1525.2,305.4 L1526.0,305.6 L1526.8,305.7 L1527.6,305.9 L1528.4,306.0 L1529.2,306.2 L1530.0,306.3 L1530.8,306.4 L1531.6,306.6 L1532.4,306.7 L1533.2,306.9 L1534.0,307.0 L1534.8,307.2 L1535.6,307.3 L1536.4,307.5 L1537.2,307.7 L1538.0,307.8 L1538.8,308.0 L1539.6,308.1 L1540.4,308.3 L1541.2,308.5 L1542.0,308.6 L1542.8,308.8 L1543.6,309.0 L1544.4,309.2 L1545.2,309.3 L1546.0,309.5 L1546.8,309.7 L1547.6,309.9 L1548.4,310.1 L1549.2,310.3 L1550.0,310.5 L1550.8,310.7 L1551.6,310.9 L1552.4,311.0 L1553.2,311.2 L1554.0,311.4 L1554.8,311.6 L1555.6,311.8 L1556.4,312.0 L1557.2,312.2 L1558.0,312.4 L1558.8,312.6 L1559.6,312.8 L1560.4,313.0 L1561.2,313.1 L1562.0,313.3 L1562.8,313.6 L1563.6,313.8 L1564.4,314.0 L1565.2,314.2 L1566.0,314.4 L1566.8,314.6 L1567.6,314.8 L1568.4,315.1 L1569.2,315.3 L1570.0,315.5 L1570.8,315.8 L1571.6,316.0 L1572.4,316.2 L1573.2,316.5 L1574.0,316.8 L1574.8,317.0 L1575.6,317.3 L1576.4,317.6 L1577.2,317.9 L1578.0,318.2 L1578.8,318.5 L1579.6,318.8 L1580.4,319.1 L1581.2,319.4 L1582.0,319.7 L1582.8,320.1 L1583.6,320.4 L1584.4,320.8 L1585.2,321.1 L1586.0,321.5 L1586.8,321.9 L1587.6,322.3 L1588.4,322.8 L1589.2,323.3 L1590.0,323.9 L1590.8,324.5 L1591.6,325.2 L1592.4,325.9 L1593.2,326.6 L1594.0,327.3 L1594.8,328.1 L1595.6,328.9 L1596.4,329.6 L1597.2,330.4 L1598.0,331.2 L1598.8,331.9 L1599.6,332.6 L1600.4,333.4 L1601.2,334.0 L1602.0,334.7 L1602.8,335.4 L1603.6,336.1 L1604.4,336.8 L1605.2,337.5 L1606.0,338.2 L1606.8,338.9 L1607.6,339.6 L1608.4,340.4 L1609.2,341.1 L1610.0,341.9 L1610.8,342.7 L1611.6,343.6 L1612.4,344.4 L1613.2,345.3 L1614.0,346.3 L1614.8,347.3 L1615.6,348.3 L1616.4,349.3 L1617.2,350.4 L1618.0,351.5 L1618.8,352.6 L1619.6,353.7 L1620.4,354.8 L1621.2,356.0 L1622.0,357.2 L1622.8,358.3 L1623.6,359.5 L1624.4,360.7 L1625.2,361.9 L1626.0,363.1 L1626.8,364.3 L1627.6,365.5 L1628.4,366.7 L1629.2,367.9 L1630.0,369.1 L1630.8,370.3 L1631.6,371.4 L1632.4,372.6 L1633.2,373.7 L1634.0,374.8 L1634.8,375.9 L1635.6,377.0 L1636.4,378.1 L1637.2,379.2 L1638.0,380.3 L1638.8,381.4 L1639.6,382.5 L1640.4,383.5 L1641.2,384.6 L1642.0,385.7 L1642.8,386.8 L1643.6,387.9 L1644.4,389.1 L1645.2,390.2 L1646.0,391.3 L1646.8,392.5 L1647.6,393.7 L1648.4,394.9 L1649.2,396.1 L1650.0,397.4 L1650.4,398.0 L1650.8,398.6 L1651.2,399.3 L1651.6,399.9 L1652.0,400.6 L1652.4,401.3 L1652.8,401.9 L1653.2,402.6 L1653.6,403.3 L1654.0,404.0 L1654.4,404.7 L1654.8,405.4 L1655.2,406.2 L1655.6,406.9 L1656.0,407.6 L1656.4,408.4 L1656.8,409.2 L1657.2,410.0 L1657.6,410.8 L1658.0,411.6 L1658.4,412.4 L1658.8,413.2 L1659.2,414.0 L1659.6,414.9 L1660.0,415.7 L1660.4,416.6 L1660.8,417.4 L1661.2,418.3 L1661.6,419.1 L1662.0,420.0 L1662.4,420.9 L1662.8,421.8 L1663.2,422.7 L1663.6,423.6 L1664.0,424.5 L1664.4,425.4 L1664.8,426.3 L1665.2,427.2 L1665.6,428.1 L1666.0,429.1 L1666.4,430.0 L1666.8,430.9 L1667.2,431.8 L1667.6,432.8 L1668.0,433.7 L1668.4,434.6 L1668.8,435.6 L1669.2,436.5 L1669.6,437.4 L1670.0,438.4 L1670.4,439.3 L1670.8,440.2 L1671.2,441.1 L1671.6,442.1 L1672.0,443.0 L1672.4,443.9 L1672.8,444.9 L1673.2,445.8 L1673.6,446.7 L1674.0,447.7 L1674.4,448.6 L1674.8,449.6 L1675.2,450.6 L1675.6,451.5 L1676.0,452.5 L1676.4,453.5 L1676.8,454.4 L1677.2,455.4 L1677.6,456.4 L1678.0,457.4 L1678.4,458.4 L1678.8,459.4 L1679.2,460.4 L1679.6,461.3 L1680.0,462.3 L1680.4,463.3 L1680.8,464.3 L1681.2,465.4 L1681.6,466.4 L1682.0,467.4 L1682.4,468.4 L1682.8,469.4 L1683.2,470.4 L1683.6,471.4 L1684.0,472.4 L1684.4,473.4 L1684.8,474.4 L1685.2,475.4 L1685.6,476.4 L1686.0,477.5 L1686.4,478.5 L1686.8,479.5 L1687.2,480.5 L1687.6,481.5 L1688.0,482.5 L1688.4,483.5 L1688.8,484.5 L1689.2,485.5 L1689.6,486.5 L1690.0,487.5 L1690.4,488.5 L1690.8,489.5 L1691.2,490.5 L1691.6,491.5 L1692.0,492.5 L1692.4,493.5 L1692.8,494.5 L1693.2,495.5 L1693.6,496.4 L1694.0,497.4 L1694.4,498.4 L1694.8,499.4 L1695.2,500.4 L1695.6,501.4 L1696.0,502.4 L1696.4,503.4 L1696.8,504.4 L1697.2,505.4 L1697.6,506.4 L1698.0,507.4 L1698.4,508.4 L1698.8,509.4 L1699.2,510.4 L1699.6,511.4 L1700.0,512.5 L1700.4,513.5 L1700.8,514.5 L1701.2,515.5 L1701.6,516.5 L1702.0,517.6 L1702.4,518.6 L1702.8,519.6 L1703.2,520.6 L1703.6,521.7 L1704.0,522.7 L1704.4,523.8 L1704.8,524.8 L1705.2,525.9 L1705.6,526.9 L1706.0,528.0 L1706.4,529.1 L1706.8,530.1 L1707.2,531.2 L1707.6,532.3 L1708.0,533.4 L1708.4,534.4 L1708.8,535.5 L1709.2,536.6 L1709.6,537.7 L1710.0,538.8 L1710.4,539.9 L1710.8,541.0 L1711.2,542.1 L1711.6,543.2 L1712.0,544.3 L1712.4,545.4 L1712.8,546.5 L1713.2,547.7 L1713.6,548.8 L1714.0,549.9 L1714.4,551.0 L1714.8,552.2 L1715.2,553.3 L1715.6,554.4 L1716.0,555.6 L1716.4,556.7 L1716.8,557.8 L1717.2,559.0 L1717.6,560.1 L1718.0,561.3 L1718.4,562.4 L1718.8,563.6 L1719.2,564.8 L1719.6,565.9 L1720.0,567.1 L1720.4,568.2 L1720.8,569.4 L1721.0,570.0"/>
<path stroke-width="4.8" d="M274.0,150.2 L276.0,151.7 L278.0,151.6 L280.0,151.8 L282.0,151.7 L284.0,151.8 L286.0,152.1 L288.0,152.0 L290.0,151.8 L292.0,151.7 L294.0,151.8 L296.0,152.7 L298.0,153.4 L300.0,154.4 L302.0,154.3 L304.0,154.3 L306.0,154.7 L308.0,154.6 L310.0,153.7 L312.0,155.2 L314.0,155.1 L316.0,155.6 L318.0,155.6 L320.0,157.6 L322.0,157.5 L324.0,157.2 L326.0,156.4 L328.0,157.4 L330.0,157.0 L332.0,158.1 L334.0,157.2 L336.0,157.9 L338.0,158.8 L340.0,158.3 L342.0,158.9 L344.0,159.3 L346.0,160.0 L348.0,159.7 L350.0,160.4 L352.0,161.6 L354.0,160.2 L356.0,160.2 L358.0,161.1 L360.0,161.0 L362.0,160.7 L364.0,162.4 L366.0,162.9 L368.0,163.3 L370.0,163.6 L372.0,163.7 L374.0,163.0 L376.0,162.1 L378.0,163.5 L380.0,163.3 L382.0,164.1 L384.0,164.7 L386.0,164.1 L388.0,164.7 L390.0,166.2 L392.0,166.3 L394.0,165.2 L396.0,165.8 L398.0,166.3 L400.0,166.9 L402.0,167.4 L404.0,167.3 L406.0,167.3 L408.0,168.1 L410.0,167.2 L412.0,168.6 L414.0,168.7 L416.0,168.5 L418.0,168.5 L420.0,169.1 L422.0,168.5 L424.0,168.0 L426.0,169.5 L428.0,170.8 L430.0,170.5 L432.0,170.6 L434.0,170.8 L436.0,170.4 L438.0,171.3 L440.0,171.9 L442.0,171.8 L444.0,172.5 L446.0,171.7 L448.0,172.3 L450.0,172.1 L452.0,172.3 L454.0,173.0 L456.0,173.3 L458.0,173.9 L460.0,174.1 L462.0,173.3 L464.0,174.5 L466.0,173.5 L468.0,174.1 L470.0,174.6 L472.0,174.7 L474.0,175.2 L476.0,175.2 L478.0,174.8 L480.0,175.8 L482.0,175.8 L484.0,175.4 L486.0,175.9 L488.0,176.2 L490.0,176.6 L492.0,176.3 L494.0,176.8 L496.0,176.9 L498.0,178.0 L500.0,177.4 L502.0,178.3 L504.0,177.9 L506.0,178.6 L508.0,179.6 L510.0,178.5 L512.0,178.5 L514.0,178.1 L516.0,178.1 L518.0,178.3 L520.0,178.9 L522.0,179.7 L524.0,180.0 L526.0,179.5 L528.0,179.7 L530.0,179.0 L532.0,180.0 L534.0,180.0 L536.0,179.7 L538.0,179.8 L540.0,180.7 L542.0,180.9 L544.0,181.3 L546.0,181.0 L548.0,181.3 L550.0,181.3 L552.0,180.7 L554.0,181.3 L556.0,181.6 L558.0,181.5 L560.0,182.4 L562.0,183.6 L564.0,183.7 L566.0,183.1 L568.0,182.3 L570.0,182.6 L572.0,182.6 L574.0,183.1 L576.0,184.0 L578.0,183.7 L580.0,182.9 L582.0,184.3 L584.0,184.2 L586.0,184.9 L588.0,184.0 L590.0,185.7 L592.0,184.3 L594.0,184.7 L596.0,185.3 L598.0,183.7 L600.0,184.2 L602.0,184.1 L604.0,186.0 L606.0,186.2 L608.0,185.4 L610.0,184.8 L612.0,184.6 L614.0,185.7 L616.0,185.7 L618.0,186.4 L620.0,186.2 L622.0,185.6 L624.0,187.4 L626.0,187.4 L628.0,186.8 L630.0,186.8 L632.0,187.9 L634.0,188.0 L636.0,187.0 L638.0,188.2 L640.0,187.5 L642.0,188.0 L644.0,187.3 L646.0,187.4 L648.0,188.3 L650.0,187.6 L652.0,188.1 L654.0,188.5 L656.0,188.2 L658.0,189.3 L660.0,189.3 L662.0,188.9 L664.0,189.5 L666.0,190.0 L668.0,190.1 L670.0,189.5 L672.0,189.9 L674.0,189.8 L676.0,189.1 L678.0,189.3 L680.0,190.8 L682.0,189.8 L684.0,190.3 L686.0,191.2 L688.0,190.4 L690.0,190.5 L692.0,190.1 L694.0,190.8 L696.0,190.2 L698.0,191.0 L700.0,190.7 L702.0,191.3 L704.0,190.5 L706.0,190.6 L708.0,191.9 L710.0,192.3 L712.0,190.5 L714.0,192.6 L716.0,192.1 L718.0,193.0 L720.0,193.5 L722.0,193.2 L724.0,193.0 L726.0,192.3 L728.0,193.4 L730.0,194.8 L732.0,193.6 L734.0,194.7 L736.0,195.0 L738.0,195.3 L740.0,194.5 L742.0,194.8 L744.0,195.3 L746.0,196.4 L748.0,195.5 L750.0,195.5 L752.0,195.5 L754.0,196.6 L756.0,195.7 L758.0,196.4 L760.0,196.1 L762.0,196.7 L764.0,197.6 L766.0,197.4 L768.0,198.1 L770.0,197.9 L772.0,198.2 L774.0,198.4 L776.0,198.1 L778.0,198.9 L780.0,199.5 L782.0,199.0 L784.0,199.8 L786.0,199.9 L788.0,199.7 L790.0,200.1 L792.0,200.8 L794.0,201.1 L796.0,201.7 L798.0,201.4 L800.0,201.3 L802.0,200.5 L804.0,200.8 L806.0,201.7 L808.0,201.2 L810.0,201.2 L812.0,202.8 L814.0,202.5 L816.0,201.9 L818.0,201.2 L820.0,201.8 L822.0,203.8 L824.0,203.4 L826.0,203.6 L828.0,203.9 L830.0,203.4 L832.0,203.8 L834.0,203.9 L836.0,203.8 L838.0,204.6 L840.0,203.9 L842.0,203.8 L844.0,204.0 L846.0,205.1 L848.0,204.7 L850.0,205.9 L852.0,204.7 L854.0,204.5 L856.0,203.7 L858.0,204.4 L860.0,205.3 L862.0,206.0 L864.0,205.4 L866.0,205.6 L868.0,206.8 L870.0,206.3 L872.0,206.5 L874.0,207.0 L876.0,206.3 L878.0,207.4 L880.0,207.1 L882.0,207.6 L884.0,207.3 L886.0,207.6 L888.0,208.3 L890.0,208.1 L892.0,207.0 L894.0,207.5 L896.0,207.7 L898.0,208.0 L900.0,208.4 L902.0,207.7 L904.0,209.4 L906.0,208.6 L908.0,209.6 L910.0,209.2 L912.0,209.1 L914.0,209.3 L916.0,209.4 L918.0,210.0 L920.0,210.7 L922.0,211.3 L924.0,211.7 L926.0,210.2 L928.0,210.9 L930.0,211.1 L932.0,211.0 L934.0,211.3 L936.0,211.3 L938.0,210.8 L940.0,210.9 L942.0,212.1 L944.0,212.0 L946.0,212.9 L948.0,212.3 L950.0,212.2 L952.0,212.6 L954.0,212.9 L956.0,213.6 L958.0,213.2 L960.0,213.9 L962.0,214.0 L964.0,213.5 L966.0,213.9 L968.0,214.1 L970.0,215.0 L972.0,215.6 L974.0,215.7 L976.0,215.1 L978.0,215.8 L980.0,215.9 L982.0,215.6 L984.0,216.4 L986.0,216.0 L988.0,216.3 L990.0,216.2 L992.0,216.1 L994.0,217.2 L996.0,216.6 L998.0,217.1 L1000.0,217.6 L1002.0,218.4 L1004.0,218.2 L1006.0,219.1 L1008.0,218.7 L1010.0,218.7 L1012.0,218.9 L1014.0,219.3 L1016.0,219.5 L1018.0,219.3 L1020.0,219.8 L1022.0,220.1 L1024.0,221.4 L1026.0,220.9 L1028.0,221.6 L1030.0,221.4 L1032.0,222.4 L1034.0,222.4 L1036.0,222.3 L1038.0,223.4 L1040.0,224.2 L1042.0,224.6 L1044.0,224.6 L1046.0,224.3 L1048.0,223.9 L1050.0,224.1 L1052.0,224.3 L1054.0,225.1 L1056.0,225.0 L1058.0,225.5 L1060.0,225.8 L1062.0,225.9 L1064.0,225.8 L1066.0,225.7 L1068.0,227.9 L1070.0,227.3 L1072.0,226.4 L1074.0,226.5 L1076.0,227.0 L1078.0,228.7 L1080.0,228.5 L1082.0,228.0 L1084.0,229.5 L1086.0,228.1 L1088.0,229.5 L1090.0,231.0 L1092.0,230.2 L1094.0,230.5 L1096.0,230.7 L1098.0,228.9 L1100.0,230.2 L1102.0,230.3 L1104.0,229.2 L1106.0,231.0 L1108.0,230.9 L1110.0,231.5 L1112.0,231.8 L1114.0,231.4 L1116.0,230.4 L1118.0,231.1 L1120.0,231.2 L1122.0,231.1 L1124.0,231.3 L1126.0,231.8 L1128.0,232.9 L1130.0,232.5 L1132.0,232.5 L1134.0,233.0 L1136.0,232.8 L1138.0,232.5 L1140.0,232.1 L1142.0,231.8 L1144.0,232.9 L1146.0,232.8 L1148.0,233.6 L1150.0,233.0"/>
<path stroke-width="4.2" d="M1150.0,233.0 L1150.8,233.1 L1151.6,233.1 L1152.4,233.2 L1153.2,233.3 L1154.0,233.5 L1154.8,233.6 L1155.6,233.8 L1156.4,234.0 L1157.2,234.2 L1158.0,234.4 L1158.8,234.7 L1159.6,234.9 L1160.4,235.2 L1161.2,235.5 L1162.0,235.8 L1162.8,236.1 L1163.6,236.5 L1164.4,236.8 L1165.2,237.1 L1166.0,237.5 L1166.8,237.9 L1167.6,238.2 L1168.4,238.6 L1169.2,239.0 L1170.0,239.4 L1170.8,239.8 L1171.6,240.2 L1172.4,240.6 L1173.2,241.1 L1174.0,241.5 L1174.8,241.9 L1175.6,242.3 L1176.4,242.8 L1177.2,243.3 L1178.0,243.8 L1178.8,244.3 L1179.6,244.9 L1180.4,245.5 L1181.2,246.1 L1182.0,246.8 L1182.8,247.4 L1183.6,248.1 L1184.4,248.9 L1185.2,249.6 L1186.0,250.4 L1186.8,251.2 L1187.6,252.0 L1188.4,252.9 L1189.2,253.7 L1190.0,254.6 L1190.8,255.6 L1191.6,256.5 L1192.4,257.5 L1193.2,258.6 L1194.0,259.7 L1194.8,260.9 L1195.2,261.5 L1195.6,262.2 L1196.0,262.8 L1196.4,263.5 L1196.8,264.2 L1197.2,264.9 L1197.6,265.7 L1198.0,266.4 L1198.4,267.2 L1198.8,267.9 L1199.2,268.7 L1199.6,269.5 L1200.0,270.3 L1200.4,271.1 L1200.8,271.9 L1201.2,272.8 L1201.6,273.6 L1202.0,274.4 L1202.4,275.3 L1202.8,276.2 L1203.2,277.0 L1203.6,277.9 L1204.0,278.8 L1204.4,279.7 L1204.8,280.6 L1205.2,281.4 L1205.6,282.4 L1206.0,283.3 L1206.4,284.3 L1206.8,285.3 L1207.2,286.3 L1207.6,287.3 L1208.0,288.4 L1208.4,289.4 L1208.8,290.5 L1209.2,291.6 L1209.6,292.8 L1210.0,293.9 L1210.4,295.0 L1210.8,296.2 L1211.2,297.4 L1211.6,298.5 L1212.0,299.7 L1212.4,300.9 L1212.8,302.1 L1213.2,303.3 L1213.6,304.5 L1214.0,305.7 L1214.4,306.9 L1214.8,308.1 L1215.2,309.3 L1215.6,310.5 L1216.0,311.7 L1216.4,312.9 L1216.8,314.1 L1217.2,315.2 L1217.6,316.4 L1218.0,317.6 L1218.4,318.7 L1218.8,319.9 L1219.2,321.1 L1219.6,322.3 L1220.0,323.4 L1220.4,324.6 L1220.8,325.8 L1221.2,327.0 L1221.6,328.2 L1222.0,329.4 L1222.4,330.6 L1222.8,331.8 L1223.2,333.0 L1223.6,334.2 L1224.0,335.5 L1224.4,336.7 L1224.8,337.9 L1225.2,339.1 L1225.6,340.3 L1226.0,341.5 L1226.4,342.8 L1226.8,344.0 L1227.2,345.2 L1227.6,346.4 L1228.0,347.6 L1228.4,348.8 L1228.8,350.0 L1229.2,351.3 L1229.6,352.5 L1230.0,353.7 L1230.4,354.9 L1230.8,356.1 L1231.2,357.3 L1231.6,358.5 L1232.0,359.7 L1232.4,360.8 L1232.8,362.0 L1233.2,363.1 L1233.6,364.3 L1234.0,365.4 L1234.4,366.5 L1234.8,367.6 L1235.2,368.7 L1235.6,369.9 L1236.0,371.0 L1236.4,372.1 L1236.8,373.2 L1237.2,374.3 L1237.6,375.4 L1238.0,376.5 L1238.4,377.7 L1238.8,378.8 L1239.2,380.0 L1239.6,381.1 L1240.0,382.3 L1240.4,383.5 L1240.8,384.7 L1241.2,386.0 L1241.6,387.2 L1242.0,388.5 L1242.4,389.8 L1242.8,391.1 L1243.2,392.5 L1243.6,393.8 L1244.0,395.2 L1244.4,396.7 L1244.6,397.4 L1244.8,398.1 L1245.0,398.9 L1245.2,399.6 L1245.4,400.4 L1245.6,401.2 L1245.8,402.0 L1246.0,402.8 L1246.2,403.6 L1246.4,404.4 L1246.6,405.3 L1246.8,406.1 L1247.0,407.0 L1247.2,407.9 L1247.4,408.8 L1247.6,409.7 L1247.8,410.6 L1248.0,411.5 L1248.2,412.5 L1248.4,413.4 L1248.6,414.4 L1248.8,415.4 L1249.0,416.4 L1249.2,417.4 L1249.4,418.4 L1249.6,419.5 L1249.8,420.5 L1250.0,421.6 L1250.2,422.7 L1250.4,423.9 L1250.6,425.1 L1250.8,426.3 L1251.0,427.5 L1251.2,428.7 L1251.4,430.0 L1251.6,431.3 L1251.8,432.6 L1252.0,434.0 L1252.2,435.3 L1252.4,436.7 L1252.6,438.0 L1252.8,439.4 L1253.0,440.8 L1253.2,442.2 L1253.4,443.6 L1253.6,445.0 L1253.8,446.4 L1254.0,447.9 L1254.2,449.3 L1254.4,450.7 L1254.6,452.1 L1254.8,453.5 L1255.0,454.9 L1255.2,456.3 L1255.4,457.7 L1255.6,459.1 L1255.8,460.4 L1256.0,461.8 L1256.2,463.1 L1256.4,464.4 L1256.6,465.7 L1256.8,467.0 L1257.0,468.3 L1257.2,469.5 L1257.4,470.7 L1257.6,471.9 L1257.8,473.1 L1258.0,474.3 L1258.2,475.5 L1258.4,476.7 L1258.6,477.8 L1258.8,479.0 L1259.0,480.1 L1259.2,481.3 L1259.4,482.4 L1259.6,483.6 L1259.8,484.8 L1260.0,485.9 L1260.2,487.1 L1260.4,488.3 L1260.6,489.5 L1260.8,490.7 L1261.0,491.9 L1261.2,493.1 L1261.4,494.4 L1261.6,495.7 L1261.8,497.0 L1262.0,498.3 L1262.2,499.6 L1262.4,501.0 L1262.6,502.4 L1262.8,503.8 L1262.9,504.6 L1263.0,505.3 L1263.1,506.1 L1263.2,506.9 L1263.3,507.6 L1263.4,508.4 L1263.5,509.2 L1263.6,510.1 L1263.7,510.9 L1263.8,511.7 L1263.9,512.5 L1264.0,513.4 L1264.1,514.2 L1264.2,515.0 L1264.3,515.9 L1264.4,516.7 L1264.5,517.6 L1264.6,518.4 L1264.7,519.3 L1264.8,520.1 L1264.9,521.0 L1265.0,521.8 L1265.1,522.7 L1265.2,523.5 L1265.3,524.3 L1265.4,525.2 L1265.5,526.0 L1265.6,526.8 L1265.7,527.6 L1265.8,528.4 L1265.9,529.2 L1266.0,530.0 L1266.1,530.8 L1266.2,531.6 L1266.3,532.4 L1266.4,533.2 L1266.5,534.0 L1266.6,534.8 L1266.7,535.6 L1266.8,536.5 L1266.9,537.3 L1267.0,538.1 L1267.1,539.0 L1267.2,539.8 L1267.3,540.6 L1267.4,541.5 L1267.5,542.3 L1267.6,543.1 L1267.7,544.0 L1267.8,544.8 L1267.9,545.6 L1268.0,546.4 L1268.1,547.2 L1268.2,548.0 L1268.3,548.8 L1268.4,549.6 L1268.5,550.3 L1268.6,551.1 L1268.8,552.5 L1269.0,554.0 L1269.2,555.3 L1269.4,556.6 L1269.6,557.8 L1269.8,559.0 L1270.0,560.0 L1270.2,561.0 L1270.4,561.9 L1270.6,562.9 L1270.8,563.8 L1271.0,564.6 L1271.2,565.5 L1271.4,566.3 L1271.6,567.1 L1271.8,567.8 L1272.0,568.6 L1272.4,570.0 L1272.8,571.4 L1273.2,572.6 L1273.6,573.8 L1274.0,575.0 L1274.4,576.1 L1274.8,577.2 L1275.2,578.3 L1275.6,579.3 L1276.0,580.3 L1276.4,581.1 L1276.8,581.9 L1277.6,583.1 L1278.4,584.2 L1279.2,585.1 L1280.0,585.9 L1280.8,586.4 L1281.6,586.5 L1282.4,586.4 L1283.2,586.3 L1284.0,586.2 L1284.8,586.0 L1285.6,585.8 L1286.4,585.5 L1287.2,585.1 L1288.0,584.6 L1288.8,584.0 L1289.6,583.3 L1290.0,582.7 L1290.4,582.0 L1290.8,581.2 L1291.2,580.2 L1291.6,579.3 L1292.0,578.3 L1292.4,577.3 L1292.8,576.3 L1293.2,575.3 L1293.6,574.3 L1294.0,573.2 L1294.4,572.0 L1294.8,570.7 L1295.0,569.9 L1295.2,569.2 L1295.4,568.3 L1295.6,567.4 L1295.8,566.5 L1296.0,565.3 L1296.2,563.9 L1296.3,563.1 L1296.4,562.2 L1296.5,561.2 L1296.6,560.3 L1296.7,559.2 L1296.8,558.2 L1296.9,557.1 L1297.0,556.1 L1297.1,555.0 L1297.2,553.9 L1297.3,552.8 L1297.4,551.7 L1297.5,550.7 L1297.6,549.7 L1297.7,548.7 L1297.8,547.7 L1297.9,546.8 L1298.0,546.0 L1298.1,545.2 L1298.2,544.4 L1298.3,543.6 L1298.4,542.9 L1298.6,541.4 L1298.8,540.0 L1299.0,538.6 L1299.2,537.2 L1299.4,535.9 L1299.6,534.6 L1299.8,533.3 L1300.0,532.0 L1300.2,530.7 L1300.4,529.5 L1300.6,528.2 L1300.8,526.9 L1301.0,525.6 L1301.2,524.3 L1301.4,522.9 L1301.6,521.6 L1301.8,520.1 L1302.0,518.7 L1302.1,517.9 L1302.2,517.2 L1302.3,516.4 L1302.4,515.6 L1302.5,514.8 L1302.6,514.0 L1302.7,513.2 L1302.8,512.3 L1302.9,511.4 L1303.0,510.5 L1303.1,509.5 L1303.2,508.6 L1303.3,507.6 L1303.4,506.6 L1303.5,505.6 L1303.6,504.6 L1303.7,503.5 L1303.8,502.5 L1303.9,501.5 L1304.0,500.4 L1304.1,499.4 L1304.2,498.4 L1304.3,497.4 L1304.4,496.3 L1304.5,495.3 L1304.6,494.4 L1304.7,493.4 L1304.8,492.4 L1304.9,491.5 L1305.0,490.6 L1305.1,489.7 L1305.2,488.8 L1305.3,487.9 L1305.4,487.0 L1305.5,486.2 L1305.6,485.3 L1305.7,484.4 L1305.8,483.5 L1305.9,482.6 L1306.0,481.8 L1306.1,480.9 L1306.2,480.0 L1306.3,479.2 L1306.4,478.3 L1306.5,477.5 L1306.6,476.6 L1306.7,475.8 L1306.8,474.9 L1306.9,474.1 L1307.0,473.2 L1307.1,472.4 L1307.2,471.6 L1307.3,470.7 L1307.4,469.9 L1307.5,469.1 L1307.6,468.3 L1307.7,467.5 L1307.8,466.7 L1307.9,465.9 L1308.0,465.1 L1308.1,464.3 L1308.2,463.5 L1308.3,462.7 L1308.4,461.9 L1308.5,461.1 L1308.6,460.4 L1308.7,459.6 L1308.8,458.8 L1308.9,458.1 L1309.0,457.3 L1309.1,456.5 L1309.2,455.8 L1309.4,454.3 L1309.6,452.9 L1309.8,451.4 L1310.0,450.0 L1310.2,448.6 L1310.4,447.2 L1310.6,445.8 L1310.8,444.5 L1311.0,443.2 L1311.2,441.8 L1311.4,440.5 L1311.6,439.2 L1311.8,437.9 L1312.0,436.7 L1312.2,435.4 L1312.4,434.2 L1312.6,432.9 L1312.8,431.7 L1313.0,430.5 L1313.2,429.3 L1313.4,428.1 L1313.6,426.9 L1313.8,425.7 L1314.0,424.5 L1314.2,423.3 L1314.4,422.1 L1314.6,421.0 L1314.8,419.8 L1315.0,418.6 L1315.2,417.5 L1315.4,416.3 L1315.6,415.2 L1315.8,414.0 L1316.0,412.9 L1316.2,411.7 L1316.4,410.6 L1316.6,409.4 L1316.8,408.3 L1317.0,407.1 L1317.2,406.0 L1317.4,404.9 L1317.6,403.7 L1317.8,402.6 L1318.0,401.5 L1318.2,400.4 L1318.4,399.3 L1318.6,398.2 L1318.8,397.0 L1319.0,395.9 L1319.2,394.8 L1319.4,393.8 L1319.6,392.7 L1319.8,391.6 L1320.0,390.5 L1320.2,389.4 L1320.4,388.3 L1320.6,387.3 L1320.8,386.2 L1321.0,385.1 L1321.2,384.1 L1321.4,383.0 L1321.6,382.0 L1321.8,380.9 L1322.0,379.9 L1322.2,378.8 L1322.4,377.8 L1322.6,376.7 L1322.8,375.7 L1323.0,374.7 L1323.2,373.6 L1323.4,372.6 L1323.6,371.6 L1323.8,370.5 L1324.0,369.5 L1324.2,368.5 L1324.4,367.5 L1324.6,366.5 L1324.8,365.4 L1325.0,364.4 L1325.2,363.4 L1325.4,362.4 L1325.6,361.3 L1325.8,360.3 L1326.0,359.3 L1326.2,358.3 L1326.4,357.3 L1326.6,356.3 L1326.8,355.4 L1327.0,354.4 L1327.2,353.5 L1327.4,352.6 L1327.6,351.7 L1327.8,350.8 L1328.0,350.0 L1328.2,349.2 L1328.4,348.4 L1328.6,347.6 L1328.8,346.8 L1329.0,346.0 L1329.2,345.3 L1329.4,344.6 L1329.8,343.1 L1330.2,341.7 L1330.6,340.4 L1331.0,339.1 L1331.4,337.9 L1331.8,336.6 L1332.2,335.4 L1332.6,334.1 L1333.0,333.0 L1333.4,332.1 L1333.8,331.3 L1334.6,330.2 L1335.4,329.3 L1336.2,328.8 L1337.0,328.9 L1337.8,329.2 L1338.6,329.8 L1339.4,330.5 L1340.2,331.2 L1341.0,331.9 L1341.8,332.8 L1342.6,333.9 L1343.4,335.0 L1344.2,336.1 L1345.0,337.4 L1345.8,338.6 L1346.6,339.9 L1347.4,341.1 L1348.2,342.4 L1349.0,343.5 L1349.8,344.7 L1350.6,345.9 L1351.4,347.1 L1352.2,348.3 L1353.0,349.5 L1353.8,350.7 L1354.6,351.9 L1355.4,353.1 L1356.2,354.3 L1357.0,355.5 L1357.8,356.7 L1358.6,357.9 L1359.4,359.2 L1360.2,360.4 L1361.0,361.6 L1361.8,362.8 L1362.6,364.0 L1363.4,365.2 L1364.2,366.4 L1365.0,367.6 L1365.8,368.8 L1366.6,370.0 L1367.4,371.2 L1368.2,372.4 L1369.0,373.7 L1369.8,374.9 L1370.6,376.1 L1371.4,377.3 L1372.2,378.6 L1373.0,379.8 L1373.8,381.0 L1374.6,382.2 L1375.4,383.4 L1376.2,384.6 L1377.0,385.8 L1377.8,386.9 L1378.6,388.0 L1379.4,389.2 L1380.2,390.4 L1381.0,391.5 L1381.8,392.4 L1382.6,393.1 L1383.4,393.6 L1384.2,394.0 L1385.0,394.4 L1385.8,394.6 L1386.6,394.6 L1387.4,394.5 L1388.2,394.2 L1389.0,393.9 L1389.8,393.6 L1390.6,393.1 L1391.4,392.5 L1392.2,391.6 L1393.0,390.5 L1393.4,389.9 L1393.8,389.1 L1394.2,388.2 L1394.6,387.3 L1395.0,386.2 L1395.4,385.1 L1395.8,384.0 L1396.2,382.8 L1396.6,381.6 L1397.0,380.4 L1397.4,379.2 L1397.8,378.1 L1398.2,377.0 L1398.6,375.9 L1399.0,374.7 L1399.4,373.6 L1399.8,372.5 L1400.2,371.4 L1400.6,370.2 L1401.0,369.1 L1401.4,367.9 L1401.8,366.7 L1402.2,365.6 L1402.6,364.4 L1403.0,363.2 L1403.4,362.0 L1403.8,360.8 L1404.2,359.6 L1404.6,358.3 L1405.0,357.1 L1405.4,355.9 L1405.8,354.6 L1406.2,353.4 L1406.6,352.1 L1407.0,350.9 L1407.4,349.6 L1407.8,348.3 L1408.2,347.0 L1408.6,345.7 L1409.0,344.3 L1409.4,342.9 L1409.8,341.6 L1410.2,340.2 L1410.6,338.7 L1411.0,337.3 L1411.4,335.9 L1411.6,335.1 L1411.8,334.4 L1412.0,333.7 L1412.2,333.0 L1412.4,332.2 L1412.6,331.5 L1412.8,330.8 L1413.0,330.0 L1413.2,329.3 L1413.4,328.6 L1413.6,327.9 L1413.8,327.1 L1414.2,325.7 L1414.6,324.3 L1415.0,322.8 L1415.4,321.4 L1415.8,320.0 L1416.2,318.6 L1416.6,317.3 L1417.0,316.0 L1417.4,314.6 L1417.8,313.4 L1418.2,312.1 L1418.6,310.9 L1419.0,309.7 L1419.4,308.5 L1419.8,307.3 L1420.2,306.1 L1420.6,304.9 L1421.0,303.7 L1421.4,302.6 L1421.8,301.4 L1422.2,300.2 L1422.6,299.0 L1423.0,297.8 L1423.4,296.5 L1423.8,295.2 L1424.2,293.9 L1424.6,292.6 L1425.0,291.4 L1425.4,290.1 L1425.8,288.9 L1426.2,287.7 L1426.6,286.6 L1427.0,285.5 L1427.4,284.5 L1427.8,283.5 L1428.2,282.6 L1428.6,281.6 L1429.0,280.7 L1429.4,279.8 L1429.8,278.9 L1430.2,278.1 L1430.6,277.3 L1431.0,276.6 L1431.8,275.3 L1432.6,274.4 L1433.4,273.4 L1434.2,272.6 L1435.0,271.8 L1435.8,271.2 L1436.6,270.9 L1437.4,270.8 L1438.2,270.8 L1439.0,270.8 L1439.8,270.9 L1440.6,271.0 L1441.4,271.0 L1442.2,271.1 L1443.0,271.2 L1443.8,271.3 L1444.6,271.5 L1445.4,271.6 L1446.2,271.7 L1447.0,271.8 L1447.8,272.0 L1448.6,272.1 L1449.4,272.3 L1450.2,272.5 L1451.0,272.7 L1451.8,273.0 L1452.6,273.2 L1453.4,273.6 L1454.2,273.9 L1455.0,274.2 L1455.8,274.6 L1456.6,275.0 L1457.4,275.3 L1458.2,275.7 L1459.0,276.2 L1459.8,276.6 L1460.6,277.0 L1461.4,277.4 L1462.2,277.9 L1463.0,278.3 L1463.8,278.8 L1464.6,279.2 L1465.4,279.6 L1466.2,280.1 L1467.0,280.5 L1467.8,280.9 L1468.6,281.3 L1469.4,281.7 L1470.2,282.1 L1471.0,282.5 L1471.8,282.9 L1472.6,283.3 L1473.4,283.7 L1474.2,284.1 L1475.0,284.5 L1475.8,284.9 L1476.6,285.3 L1477.4,285.8 L1478.2,286.2 L1479.0,286.6 L1479.8,287.1 L1480.6,287.5 L1481.4,288.0 L1482.2,288.4 L1483.0,288.8 L1483.8,289.3 L1484.6,289.7 L1485.4,290.2 L1486.2,290.6 L1487.0,291.1 L1487.8,291.5 L1488.6,291.9 L1489.4,292.4 L1490.2,292.8 L1491.0,293.3 L1491.8,293.7 L1492.6,294.1 L1493.4,294.5 L1494.2,294.9 L1495.0,295.4 L1495.8,295.8 L1496.6,296.2 L1497.4,296.6 L1498.2,296.9 L1499.0,297.3 L1499.8,297.7 L1500.6,298.1 L1501.4,298.4 L1502.2,298.8 L1503.0,299.1 L1503.8,299.4 L1504.6,299.8 L1505.4,300.1 L1506.2,300.4 L1507.0,300.7 L1507.8,300.9 L1508.6,301.2 L1509.4,301.5 L1510.2,301.7 L1511.0,302.0 L1511.8,302.2 L1512.6,302.4 L1513.4,302.7 L1514.2,302.9 L1515.0,303.1 L1515.8,303.3 L1516.6,303.5 L1517.4,303.8 L1518.2,304.0 L1519.0,304.2 L1519.8,304.4 L1520.6,304.6 L1521.4,304.7 L1522.2,304.9 L1523.0,305.1 L1523.8,305.3 L1524.6,305.5 L1525.4,305.7 L1526.2,305.8 L1527.0,306.0 L1527.8,306.2 L1528.6,306.4 L1529.4,306.5 L1530.2,306.7 L1531.0,306.9 L1531.8,307.1 L1532.6,307.2 L1533.4,307.4 L1534.2,307.6 L1535.0,307.8 L1535.8,308.0 L1536.6,308.1 L1537.4,308.3 L1538.2,308.5 L1539.0,308.7 L1539.8,308.9 L1540.6,309.1 L1541.4,309.3 L1542.2,309.5 L1543.0,309.7 L1543.8,309.9 L1544.6,310.1 L1545.4,310.3 L1546.2,310.5 L1547.0,310.7 L1547.8,310.9 L1548.6,311.2 L1549.4,311.4 L1550.2,311.6 L1551.0,311.8 L1551.8,312.1 L1552.6,312.3 L1553.4,312.5 L1554.2,312.7 L1555.0,312.9 L1555.8,313.1 L1556.6,313.3 L1557.4,313.5 L1558.2,313.7 L1559.0,314.0 L1559.8,314.2 L1560.6,314.4 L1561.4,314.6 L1562.2,314.8 L1563.0,315.0 L1563.8,315.2 L1564.6,315.5 L1565.4,315.7 L1566.2,315.9 L1567.0,316.2 L1567.8,316.4 L1568.6,316.6 L1569.4,316.9 L1570.2,317.1 L1571.0,317.4 L1571.8,317.6 L1572.6,317.9 L1573.4,318.2 L1574.2,318.5 L1575.0,318.7 L1575.8,319.0 L1576.6,319.3 L1577.4,319.6 L1578.2,319.9 L1579.0,320.3 L1579.8,320.6 L1580.6,320.9 L1581.4,321.3 L1582.2,321.6 L1583.0,322.0 L1583.8,322.4 L1584.6,322.8 L1585.4,323.2 L1586.2,323.6 L1587.0,324.0 L1587.8,324.5 L1588.6,325.0 L1589.4,325.6 L1590.2,326.2 L1591.0,326.9 L1591.8,327.6 L1592.6,328.4 L1593.4,329.2 L1594.2,330.0 L1595.0,330.9 L1595.8,331.7 L1596.6,332.5 L1597.4,333.4 L1598.2,334.2 L1599.0,335.0 L1599.8,335.8 L1600.6,336.6 L1601.4,337.3 L1602.2,338.1 L1603.0,338.9 L1603.8,339.6 L1604.6,340.4 L1605.4,341.2 L1606.2,342.0 L1607.0,342.8 L1607.8,343.6 L1608.6,344.4 L1609.4,345.2 L1610.2,346.0 L1611.0,346.9 L1611.8,347.8 L1612.6,348.7 L1613.4,349.6 L1614.2,350.5 L1615.0,351.4 L1615.8,352.4 L1616.6,353.3 L1617.4,354.2 L1618.2,355.2 L1619.0,356.2 L1619.8,357.2 L1620.6,358.1 L1621.4,359.1 L1622.2,360.2 L1623.0,361.2 L1623.8,362.2 L1624.6,363.2 L1625.4,364.3 L1626.2,365.3 L1627.0,366.4 L1627.8,367.5 L1628.6,368.5 L1629.4,369.6 L1630.2,370.7 L1631.0,371.8 L1631.8,373.0 L1632.6,374.1 L1633.4,375.2 L1634.2,376.4 L1635.0,377.5 L1635.8,378.7 L1636.6,379.9 L1637.4,381.1 L1638.2,382.3 L1639.0,383.5 L1639.8,384.7 L1640.6,385.9 L1641.4,387.2 L1642.2,388.4 L1643.0,389.6 L1643.8,390.9 L1644.2,391.5 L1644.6,392.2 L1645.0,392.8 L1645.4,393.5 L1645.8,394.1 L1646.2,394.8 L1646.6,395.4 L1647.0,396.1 L1647.4,396.7 L1647.8,397.4 L1648.2,398.0 L1648.6,398.7 L1649.0,399.4 L1649.4,400.1 L1649.8,400.7 L1650.2,401.4 L1650.6,402.1 L1651.0,402.8 L1651.4,403.5 L1651.8,404.2 L1652.2,404.9 L1652.6,405.6 L1653.0,406.3 L1653.4,407.0 L1653.8,407.7 L1654.2,408.5 L1654.6,409.2 L1655.0,409.9 L1655.4,410.7 L1655.8,411.4 L1656.2,412.2 L1656.6,412.9 L1657.0,413.7 L1657.4,414.4 L1657.8,415.2 L1658.2,416.0 L1658.6,416.8 L1659.0,417.5 L1659.4,418.3 L1659.8,419.1 L1660.2,419.9 L1660.6,420.7 L1661.0,421.5 L1661.4,422.4 L1661.8,423.2 L1662.2,424.0 L1662.6,424.9 L1663.0,425.7 L1663.4,426.5 L1663.8,427.4 L1664.2,428.3 L1664.6,429.1 L1665.0,430.0 L1665.4,430.9 L1665.8,431.8 L1666.2,432.7 L1666.6,433.7 L1667.0,434.6 L1667.4,435.6 L1667.8,436.6 L1668.2,437.6 L1668.6,438.6 L1669.0,439.6 L1669.4,440.7 L1669.8,441.7 L1670.2,442.8 L1670.6,443.9 L1671.0,445.0 L1671.4,446.1 L1671.8,447.2 L1672.2,448.3 L1672.6,449.4 L1673.0,450.6 L1673.4,451.7 L1673.8,452.9 L1674.2,454.0 L1674.6,455.2 L1675.0,456.4 L1675.4,457.5 L1675.8,458.7 L1676.2,459.9 L1676.6,461.1 L1677.0,462.3 L1677.4,463.4 L1677.8,464.6 L1678.2,465.8 L1678.6,467.0 L1679.0,468.2 L1679.4,469.3 L1679.8,470.5 L1680.2,471.7 L1680.6,472.9 L1681.0,474.0 L1681.4,475.2 L1681.8,476.4 L1682.2,477.5 L1682.6,478.6 L1683.0,479.8 L1683.4,480.9 L1683.8,482.0 L1684.2,483.1 L1684.6,484.2 L1685.0,485.3 L1685.4,486.4 L1685.8,487.5 L1686.2,488.5 L1686.6,489.6 L1687.0,490.6 L1687.4,491.6 L1687.8,492.6 L1688.2,493.6 L1688.6,494.6 L1689.0,495.6 L1689.4,496.5 L1689.8,497.5 L1690.2,498.4 L1690.6,499.4 L1691.0,500.3 L1691.4,501.3 L1691.8,502.2 L1692.2,503.1 L1692.6,504.0 L1693.0,505.0 L1693.4,505.9 L1693.8,506.8 L1694.2,507.7 L1694.6,508.6 L1695.0,509.5 L1695.4,510.5 L1695.8,511.4 L1696.2,512.3 L1696.6,513.2 L1697.0,514.2 L1697.4,515.1 L1697.8,516.0 L1698.2,517.0 L1698.6,518.0 L1699.0,518.9 L1699.4,519.9 L1699.8,520.9 L1700.2,521.9 L1700.6,522.9 L1701.0,523.9 L1701.4,524.9 L1701.8,526.0 L1702.2,527.0 L1702.6,528.1 L1703.0,529.2 L1703.4,530.3 L1703.8,531.4 L1704.2,532.5 L1704.6,533.7 L1705.0,534.8 L1705.4,536.0 L1705.8,537.2 L1706.2,538.5 L1706.6,539.7 L1707.0,541.0 L1707.4,542.3 L1707.8,543.6 L1708.2,545.0 L1708.6,546.4 L1709.0,547.8 L1709.4,549.2 L1709.6,550.0 L1709.8,550.7 L1710.0,551.4 L1710.2,552.2 L1710.4,552.9 L1710.6,553.7 L1710.8,554.5 L1711.0,555.3 L1711.2,556.0 L1711.4,556.8 L1711.6,557.6 L1711.8,558.4 L1712.0,559.2 L1712.2,560.0 L1712.4,560.8 L1712.6,561.7 L1712.8,562.5 L1713.0,563.3 L1713.2,564.2 L1713.4,565.0 L1713.6,565.9 L1713.8,566.7 L1714.0,567.6 L1714.2,568.4 L1714.4,569.3 L1714.6,570.2 L1714.8,571.0 L1715.0,571.9 L1715.2,572.8 L1715.4,573.7 L1715.6,574.6 L1715.8,575.5 L1716.0,576.4 L1716.2,577.3 L1716.4,578.2 L1716.6,579.1 L1716.8,580.0 L1717.0,580.9 L1717.2,581.9 L1717.4,582.8 L1717.6,583.7 L1717.8,584.7 L1718.0,585.6 L1718.2,586.5 L1718.4,587.5 L1718.6,588.4 L1718.8,589.4 L1719.0,590.3 L1719.2,591.3 L1719.4,592.2 L1719.6,593.2 L1719.8,594.2 L1720.0,595.1 L1720.2,596.1 L1720.4,597.1 L1720.6,598.0 L1720.8,599.0 L1721.0,600.0"/>
<path stroke-width="4.8" d="M274.0,132.5 L276.0,133.1 L278.0,134.0 L280.0,134.5 L282.0,134.6 L284.0,134.1 L286.0,134.1 L288.0,133.9 L290.0,133.3 L292.0,133.7 L294.0,134.7 L296.0,134.7 L298.0,134.5 L300.0,134.1 L302.0,134.6 L304.0,134.5 L306.0,134.9 L308.0,135.4 L310.0,134.1 L312.0,134.9 L314.0,134.5 L316.0,134.7 L318.0,134.7 L320.0,136.0 L322.0,136.3 L324.0,136.4 L326.0,135.8 L328.0,135.2 L330.0,135.7 L332.0,136.2 L334.0,136.3 L336.0,136.8 L338.0,136.4 L340.0,137.5 L342.0,137.4 L344.0,138.1 L346.0,137.4 L348.0,137.0 L350.0,136.5 L352.0,137.3 L354.0,137.8 L356.0,137.5 L358.0,137.6 L360.0,137.3 L362.0,137.1 L364.0,137.2 L366.0,136.4 L368.0,136.7 L370.0,137.4 L372.0,137.7 L374.0,138.4 L376.0,138.5 L378.0,138.4 L380.0,138.2 L382.0,137.0 L384.0,137.8 L386.0,137.7 L388.0,138.4 L390.0,138.3 L392.0,138.3 L394.0,138.3 L396.0,138.5 L398.0,137.7 L400.0,137.7 L402.0,139.3 L404.0,139.5 L406.0,139.1 L408.0,139.1 L410.0,139.2 L412.0,141.3 L414.0,140.6 L416.0,140.1 L418.0,139.7 L420.0,138.7 L422.0,139.8 L424.0,141.0 L426.0,141.2 L428.0,141.0 L430.0,140.6 L432.0,140.2 L434.0,140.9 L436.0,140.9 L438.0,140.7 L440.0,142.2 L442.0,141.5 L444.0,141.5 L446.0,140.7 L448.0,142.7 L450.0,142.5 L452.0,142.7 L454.0,143.0 L456.0,142.7 L458.0,142.8 L460.0,143.5 L462.0,143.3 L464.0,144.0 L466.0,144.9 L468.0,145.1 L470.0,145.7 L472.0,145.9 L474.0,146.5 L476.0,146.1 L478.0,146.2 L480.0,145.6 L482.0,146.1 L484.0,146.1 L486.0,146.7 L488.0,146.5 L490.0,147.4 L492.0,149.1 L494.0,148.1 L496.0,148.7 L498.0,149.1 L500.0,148.7 L502.0,149.0 L504.0,149.2 L506.0,150.0 L508.0,149.9 L510.0,151.9 L512.0,151.8 L514.0,152.2 L516.0,153.1 L518.0,153.2 L520.0,152.6 L522.0,152.9 L524.0,153.0 L526.0,153.4 L528.0,154.2 L530.0,153.0 L532.0,153.0 L534.0,154.0 L536.0,155.0 L538.0,155.0 L540.0,155.4 L542.0,156.5 L544.0,156.9 L546.0,156.8 L548.0,156.9 L550.0,156.5 L552.0,157.7 L554.0,158.1 L556.0,157.9 L558.0,158.8 L560.0,158.9 L562.0,159.2 L564.0,158.8 L566.0,160.3 L568.0,160.1 L570.0,160.8 L572.0,161.3 L574.0,161.2 L576.0,161.7 L578.0,162.0 L580.0,162.3 L582.0,162.8 L584.0,162.8 L586.0,163.7 L588.0,163.9 L590.0,163.5 L592.0,164.4 L594.0,164.5 L596.0,165.2 L598.0,164.2 L600.0,165.4 L602.0,164.7 L604.0,165.6 L606.0,168.1 L608.0,167.8 L610.0,168.1 L612.0,167.4 L614.0,167.1 L616.0,167.8 L618.0,168.5 L620.0,168.7 L622.0,168.6 L624.0,168.7 L626.0,169.2 L628.0,170.7 L630.0,170.5 L632.0,170.5 L634.0,170.7 L636.0,170.6 L638.0,170.6 L640.0,171.6 L642.0,172.8 L644.0,173.0 L646.0,172.2 L648.0,173.7 L650.0,173.8 L652.0,174.9 L654.0,174.3 L656.0,173.7 L658.0,174.5 L660.0,174.8 L662.0,174.5 L664.0,174.8 L666.0,175.3 L668.0,175.4 L670.0,176.4 L672.0,176.8 L674.0,176.7 L676.0,176.9 L678.0,177.8 L680.0,178.0 L682.0,177.4 L684.0,178.1 L686.0,179.3 L688.0,179.1 L690.0,178.6 L692.0,179.9 L694.0,181.0 L696.0,180.2 L698.0,178.8 L700.0,178.8 L702.0,180.8 L704.0,180.5 L706.0,181.0 L708.0,181.2 L710.0,181.2 L712.0,182.2 L714.0,181.8 L716.0,182.0 L718.0,182.0 L720.0,182.1 L722.0,183.4 L724.0,182.0 L726.0,181.5 L728.0,182.7 L730.0,181.9 L732.0,182.5 L734.0,182.1 L736.0,183.1 L738.0,183.0 L740.0,183.4 L742.0,182.8 L744.0,183.0 L746.0,181.9 L748.0,183.3 L750.0,183.6 L752.0,183.6 L754.0,183.6 L756.0,183.5 L758.0,183.6 L760.0,184.8 L762.0,183.9 L764.0,183.7 L766.0,184.3 L768.0,184.3 L770.0,183.9 L772.0,185.0 L774.0,185.5 L776.0,184.6 L778.0,185.5 L780.0,184.1 L782.0,185.3 L784.0,184.0 L786.0,184.7 L788.0,184.7 L790.0,184.7 L792.0,185.2 L794.0,184.6 L796.0,184.6 L798.0,184.4 L800.0,185.8 L802.0,185.3 L804.0,185.6 L806.0,185.5 L808.0,186.2 L810.0,185.4 L812.0,185.3 L814.0,185.4 L816.0,186.0 L818.0,185.7 L820.0,186.3 L822.0,186.7 L824.0,187.1 L826.0,187.1 L828.0,187.6 L830.0,186.8 L832.0,186.6 L834.0,186.4 L836.0,186.4 L838.0,186.1 L840.0,187.0 L842.0,187.2 L844.0,186.1 L846.0,186.9 L848.0,186.9 L850.0,186.8 L852.0,187.2 L854.0,188.2 L856.0,188.0 L858.0,186.8 L860.0,187.8 L862.0,187.5 L864.0,188.8 L866.0,188.2 L868.0,188.2 L870.0,188.2 L872.0,187.9 L874.0,188.1 L876.0,188.4 L878.0,189.8 L880.0,189.2 L882.0,189.3 L884.0,189.2 L886.0,189.2 L888.0,189.4 L890.0,190.1 L892.0,188.0 L894.0,188.6 L896.0,188.8 L898.0,189.8 L900.0,189.3 L902.0,190.2 L904.0,190.6 L906.0,190.0 L908.0,190.4 L910.0,190.0 L912.0,190.7 L914.0,190.8 L916.0,191.3 L918.0,191.4 L920.0,190.4 L922.0,191.6 L924.0,191.2 L926.0,191.8 L928.0,191.5 L930.0,192.0 L932.0,191.0 L934.0,192.2 L936.0,191.4 L938.0,191.7 L940.0,192.2 L942.0,191.4 L944.0,192.2 L946.0,192.4 L948.0,193.0 L950.0,192.8 L952.0,192.3 L954.0,192.2 L956.0,192.4 L958.0,193.1 L960.0,193.3 L962.0,193.9 L964.0,194.7 L966.0,194.1 L968.0,193.9 L970.0,194.4 L972.0,194.7 L974.0,193.5 L976.0,194.1 L978.0,194.8 L980.0,195.4 L982.0,195.2 L984.0,194.9 L986.0,196.6 L988.0,194.5 L990.0,196.4 L992.0,196.0 L994.0,196.2 L996.0,196.5 L998.0,197.0 L1000.0,196.6 L1002.0,196.3 L1004.0,197.3 L1006.0,198.3 L1008.0,197.9 L1010.0,199.3 L1012.0,198.0 L1014.0,198.8 L1016.0,199.0 L1018.0,199.7 L1020.0,198.8 L1022.0,199.5 L1024.0,199.5 L1026.0,198.5 L1028.0,199.3 L1030.0,199.1 L1032.0,199.8 L1034.0,200.7 L1036.0,200.8 L1038.0,202.0 L1040.0,202.0 L1042.0,201.4 L1044.0,201.5 L1046.0,202.1 L1048.0,201.8 L1050.0,202.6 L1052.0,203.0 L1054.0,203.5 L1056.0,203.4 L1058.0,203.5 L1060.0,203.0 L1062.0,203.7 L1064.0,203.9 L1066.0,204.3 L1068.0,204.7 L1070.0,204.4 L1072.0,204.6 L1074.0,204.7 L1076.0,204.6 L1078.0,204.3 L1080.0,204.8 L1082.0,205.9 L1084.0,205.0 L1086.0,206.3 L1088.0,207.0 L1090.0,207.5 L1092.0,207.2 L1094.0,207.2 L1096.0,208.1 L1098.0,208.4 L1100.0,209.2 L1102.0,208.4 L1104.0,208.3 L1106.0,209.2 L1108.0,208.9 L1110.0,209.1 L1112.0,210.0 L1114.0,210.2 L1116.0,209.8 L1118.0,210.4 L1120.0,210.4 L1122.0,211.1 L1124.0,211.2 L1126.0,210.7 L1128.0,212.1 L1130.0,211.8 L1132.0,212.0 L1134.0,211.9 L1136.0,212.3 L1138.0,212.5 L1140.0,213.3 L1142.0,213.9 L1144.0,214.9 L1146.0,215.5 L1148.0,215.4 L1150.0,216.0"/>
<path stroke-width="4.2" d="M1150.0,216.0 L1150.8,216.2 L1151.6,216.4 L1152.4,216.7 L1153.2,216.9 L1154.0,217.1 L1154.8,217.4 L1155.6,217.6 L1156.4,217.8 L1157.2,218.1 L1158.0,218.3 L1158.8,218.6 L1159.6,218.8 L1160.4,219.1 L1161.2,219.3 L1162.0,219.6 L1162.8,219.8 L1163.6,220.1 L1164.4,220.3 L1165.2,220.6 L1166.0,220.9 L1166.8,221.1 L1167.6,221.4 L1168.4,221.7 L1169.2,222.0 L1170.0,222.2 L1170.8,222.5 L1171.6,222.8 L1172.4,223.1 L1173.2,223.4 L1174.0,223.6 L1174.8,223.9 L1175.6,224.2 L1176.4,224.5 L1177.2,224.8 L1178.0,225.0 L1178.8,225.3 L1179.6,225.5 L1180.4,225.8 L1181.2,226.1 L1182.0,226.3 L1182.8,226.6 L1183.6,226.8 L1184.4,227.1 L1185.2,227.4 L1186.0,227.6 L1186.8,227.9 L1187.6,228.2 L1188.4,228.6 L1189.2,228.9 L1190.0,229.2 L1190.8,229.6 L1191.6,229.9 L1192.4,230.3 L1193.2,230.7 L1194.0,231.2 L1194.8,231.6 L1195.6,232.1 L1196.4,232.6 L1197.2,233.1 L1198.0,233.8 L1198.8,234.5 L1199.6,235.4 L1200.4,236.3 L1201.2,237.3 L1202.0,238.4 L1202.8,239.6 L1203.6,240.8 L1204.4,242.1 L1204.8,242.7 L1205.2,243.3 L1205.6,244.0 L1206.0,244.7 L1206.4,245.3 L1206.8,246.0 L1207.2,246.7 L1207.6,247.3 L1208.0,248.0 L1208.4,248.7 L1208.8,249.4 L1209.2,250.1 L1209.6,250.8 L1210.0,251.6 L1210.4,252.4 L1210.8,253.2 L1211.2,254.0 L1211.6,254.8 L1212.0,255.7 L1212.4,256.5 L1212.8,257.4 L1213.2,258.3 L1213.6,259.1 L1214.0,260.0 L1214.4,260.9 L1214.8,261.8 L1215.2,262.7 L1215.6,263.7 L1216.0,264.6 L1216.4,265.5 L1216.8,266.4 L1217.2,267.3 L1217.6,268.2 L1218.0,269.1 L1218.4,270.1 L1218.8,271.0 L1219.2,271.9 L1219.6,272.8 L1220.0,273.7 L1220.4,274.7 L1220.8,275.6 L1221.2,276.5 L1221.6,277.5 L1222.0,278.4 L1222.4,279.4 L1222.8,280.3 L1223.2,281.3 L1223.6,282.3 L1224.0,283.2 L1224.4,284.2 L1224.8,285.2 L1225.2,286.2 L1225.6,287.2 L1226.0,288.2 L1226.4,289.2 L1226.8,290.3 L1227.2,291.3 L1227.6,292.4 L1228.0,293.4 L1228.4,294.5 L1228.8,295.6 L1229.2,296.7 L1229.6,297.8 L1230.0,298.9 L1230.4,300.1 L1230.8,301.2 L1231.2,302.4 L1231.6,303.6 L1232.0,304.8 L1232.4,306.0 L1232.8,307.2 L1233.2,308.5 L1233.6,309.7 L1234.0,311.0 L1234.4,312.3 L1234.8,313.6 L1235.2,314.9 L1235.6,316.3 L1236.0,317.6 L1236.4,319.0 L1236.8,320.4 L1237.2,321.8 L1237.6,323.2 L1238.0,324.6 L1238.4,326.0 L1238.8,327.5 L1239.0,328.2 L1239.2,328.9 L1239.4,329.6 L1239.6,330.4 L1239.8,331.1 L1240.0,331.8 L1240.2,332.6 L1240.4,333.3 L1240.6,334.1 L1240.8,334.8 L1241.0,335.6 L1241.2,336.3 L1241.4,337.1 L1241.6,337.8 L1241.8,338.6 L1242.0,339.3 L1242.2,340.1 L1242.4,340.8 L1242.6,341.6 L1242.8,342.4 L1243.0,343.1 L1243.2,343.9 L1243.4,344.7 L1243.6,345.4 L1243.8,346.2 L1244.0,347.0 L1244.2,347.8 L1244.4,348.6 L1244.6,349.3 L1244.8,350.1 L1245.0,350.9 L1245.2,351.7 L1245.4,352.5 L1245.6,353.3 L1245.8,354.1 L1246.0,354.9 L1246.2,355.7 L1246.4,356.6 L1246.6,357.4 L1246.8,358.3 L1247.0,359.1 L1247.2,360.0 L1247.4,360.8 L1247.6,361.7 L1247.8,362.6 L1248.0,363.4 L1248.2,364.3 L1248.4,365.2 L1248.6,366.1 L1248.8,367.0 L1249.0,367.9 L1249.2,368.8 L1249.4,369.7 L1249.6,370.6 L1249.8,371.5 L1250.0,372.4 L1250.2,373.3 L1250.4,374.2 L1250.6,375.1 L1250.8,376.0 L1251.0,376.9 L1251.2,377.8 L1251.4,378.7 L1251.6,379.6 L1251.8,380.5 L1252.0,381.4 L1252.2,382.4 L1252.4,383.3 L1252.6,384.2 L1252.8,385.1 L1253.0,386.0 L1253.2,386.8 L1253.4,387.7 L1253.6,388.6 L1253.8,389.5 L1254.0,390.4 L1254.2,391.3 L1254.4,392.1 L1254.6,393.0 L1254.8,393.9 L1255.0,394.7 L1255.2,395.6 L1255.4,396.4 L1255.6,397.3 L1255.8,398.1 L1256.0,398.9 L1256.2,399.7 L1256.4,400.5 L1256.6,401.3 L1256.8,402.1 L1257.0,402.9 L1257.2,403.7 L1257.4,404.5 L1257.6,405.2 L1257.8,406.0 L1258.0,406.7 L1258.2,407.5 L1258.4,408.3 L1258.6,409.0 L1258.8,409.8 L1259.0,410.5 L1259.2,411.3 L1259.4,412.0 L1259.6,412.8 L1259.8,413.5 L1260.0,414.3 L1260.2,415.1 L1260.4,415.9 L1260.6,416.6 L1260.8,417.4 L1261.0,418.2 L1261.2,419.0 L1261.4,419.9 L1261.6,420.7 L1261.8,421.5 L1262.0,422.4 L1262.2,423.2 L1262.4,424.1 L1262.6,425.0 L1262.8,425.9 L1263.0,426.8 L1263.2,427.7 L1263.4,428.6 L1263.6,429.5 L1263.8,430.4 L1264.0,431.4 L1264.2,432.3 L1264.4,433.2 L1264.6,434.2 L1264.8,435.2 L1265.0,436.1 L1265.2,437.1 L1265.4,438.1 L1265.6,439.1 L1265.8,440.1 L1266.0,441.1 L1266.2,442.2 L1266.4,443.2 L1266.6,444.3 L1266.8,445.4 L1267.0,446.5 L1267.2,447.6 L1267.4,448.7 L1267.6,449.9 L1267.8,451.1 L1268.0,452.2 L1268.2,453.4 L1268.4,454.7 L1268.6,455.9 L1268.8,457.2 L1269.0,458.5 L1269.2,459.9 L1269.4,461.3 L1269.6,462.7 L1269.8,464.1 L1270.0,465.6 L1270.1,466.3 L1270.2,467.1 L1270.3,467.8 L1270.4,468.6 L1270.5,469.3 L1270.6,470.1 L1270.7,470.9 L1270.8,471.7 L1270.9,472.5 L1271.0,473.2 L1271.1,474.0 L1271.2,474.9 L1271.3,475.7 L1271.4,476.5 L1271.5,477.3 L1271.6,478.1 L1271.7,478.9 L1271.8,479.8 L1271.9,480.6 L1272.0,481.4 L1272.1,482.3 L1272.2,483.1 L1272.3,484.0 L1272.4,484.8 L1272.5,485.7 L1272.6,486.6 L1272.7,487.4 L1272.8,488.3 L1272.9,489.2 L1273.0,490.0 L1273.1,490.9 L1273.2,491.8 L1273.3,492.7 L1273.4,493.5 L1273.5,494.4 L1273.6,495.3 L1273.7,496.2 L1273.8,497.1 L1273.9,498.0 L1274.0,498.8 L1274.1,499.7 L1274.2,500.6 L1274.3,501.5 L1274.4,502.4 L1274.5,503.3 L1274.6,504.2 L1274.7,505.0 L1274.8,505.9 L1274.9,506.8 L1275.0,507.7 L1275.1,508.5 L1275.2,509.4 L1275.3,510.2 L1275.4,511.1 L1275.5,512.0 L1275.6,512.8 L1275.7,513.7 L1275.8,514.6 L1275.9,515.4 L1276.0,516.3 L1276.1,517.2 L1276.2,518.1 L1276.3,519.0 L1276.4,519.9 L1276.5,520.8 L1276.6,521.7 L1276.7,522.6 L1276.8,523.5 L1276.9,524.5 L1277.0,525.4 L1277.1,526.4 L1277.2,527.4 L1277.3,528.4 L1277.4,529.4 L1277.5,530.4 L1277.6,531.4 L1277.7,532.5 L1277.8,533.6 L1277.9,534.7 L1278.0,535.8 L1278.1,536.9 L1278.2,538.0 L1278.3,539.2 L1278.4,540.4 L1278.5,541.6 L1278.6,542.9 L1278.7,544.1 L1278.8,545.4 L1278.9,546.7 L1279.0,548.0 L1279.1,549.4 L1279.2,550.8 L1279.3,551.6 L1279.3,552.3 L1279.4,553.1 L1279.4,553.9 L1279.5,554.7 L1279.5,555.5 L1279.6,556.4 L1279.6,557.3 L1279.7,558.1 L1279.7,559.0 L1279.8,559.9 L1279.8,560.9 L1279.9,561.8 L1279.9,562.8 L1280.0,563.7 L1280.0,564.7 L1280.1,565.7 L1280.1,566.7 L1280.2,567.7 L1280.2,568.7 L1280.3,569.7 L1280.3,570.8 L1280.4,571.8 L1280.4,572.9 L1280.5,573.9 L1280.5,575.0 L1280.6,576.0 L1280.6,577.1 L1280.7,578.2 L1280.7,579.2 L1280.8,580.3 L1280.8,581.4 L1280.9,582.5 L1280.9,583.5 L1281.0,584.6 L1281.0,585.7 L1281.1,586.8 L1281.1,587.9 L1281.2,588.9 L1281.2,590.0 L1281.3,591.1 L1281.3,592.2 L1281.4,593.3 L1281.4,594.5 L1281.5,595.7 L1281.5,596.9 L1281.6,598.1 L1281.6,599.3 L1281.7,600.6 L1281.7,601.8 L1281.8,603.1 L1281.8,604.4 L1281.9,605.6 L1281.9,606.9 L1282.0,608.2 L1282.0,609.4 L1282.1,610.7 L1282.1,612.0 L1282.2,613.2 L1282.2,614.4 L1282.3,615.6 L1282.3,616.8 L1282.4,618.0 L1282.4,619.1 L1282.5,620.3 L1282.5,621.4 L1282.6,622.4 L1282.6,623.4 L1282.7,624.4 L1282.7,625.4 L1282.8,626.3 L1282.8,627.3 L1282.9,628.2 L1282.9,629.1 L1283.0,630.0 L1283.0,630.9 L1283.0,631.8 L1283.1,632.7 L1283.1,633.5 L1283.2,634.4 L1283.2,635.3 L1283.3,636.1 L1283.3,636.9 L1283.4,637.8 L1283.4,638.6 L1283.5,639.4 L1283.5,640.2 L1283.6,641.0 L1283.6,641.8 L1283.7,642.6 L1283.7,643.4 L1283.8,644.2 L1283.8,645.0 L1283.9,645.7 L1283.9,646.5 L1284.0,648.0 L1284.1,649.4 L1284.2,650.9 L1284.3,652.3 L1284.4,653.7 L1284.5,655.1 L1284.6,656.4 L1284.7,657.8 L1284.8,659.1 L1284.9,660.4 L1285.0,661.6 L1285.1,662.9 L1285.2,664.1 L1285.3,665.3 L1285.4,666.5 L1285.5,667.6 L1285.6,668.8 L1285.7,669.9 L1285.8,671.0 L1285.9,672.1 L1286.0,673.2 L1286.1,674.2 L1286.2,675.2 L1286.3,676.3 L1286.4,677.3 L1286.5,678.3 L1286.6,679.2 L1286.7,680.2 L1286.8,681.2 L1286.9,682.1 L1287.0,683.0 L1287.1,684.0 L1287.2,684.9 L1287.3,685.8 L1287.4,686.7 L1287.5,687.7 L1287.6,688.6 L1287.7,689.5 L1287.8,690.4 L1287.9,691.3 L1288.0,692.2 L1288.1,693.1 L1288.2,694.0 L1288.3,694.9 L1288.4,695.8 L1288.5,696.7 L1288.6,697.7 L1288.7,698.6 L1288.8,699.5 L1288.9,700.5 L1289.0,701.5 L1289.1,702.4 L1289.2,703.4 L1289.3,704.4 L1289.4,705.4 L1289.5,706.4 L1289.6,707.4 L1289.7,708.4 L1289.8,709.3 L1289.9,710.3 L1290.0,711.3 L1290.1,712.3 L1290.2,713.3 L1290.3,714.3 L1290.4,715.3 L1290.5,716.2 L1290.6,717.2 L1290.7,718.2 L1290.8,719.2 L1290.9,720.2 L1291.0,721.2 L1291.1,722.2 L1291.2,723.2 L1291.3,724.2 L1291.4,725.2 L1291.5,726.2 L1291.6,727.2 L1291.7,728.2 L1291.8,729.2 L1291.9,730.2 L1292.0,731.2 L1292.1,732.2 L1292.2,733.3 L1292.3,734.3 L1292.4,735.3 L1292.5,736.3 L1292.6,737.4 L1292.7,738.4 L1292.8,739.5 L1292.9,740.5 L1293.0,741.6 L1293.1,742.7 L1293.2,743.7 L1293.3,744.8 L1293.4,745.9 L1293.5,747.0 L1293.6,748.1 L1293.7,749.2 L1293.8,750.3 L1293.9,751.4 L1294.0,752.5 L1294.1,753.7 L1294.2,754.8 L1294.3,755.9 L1294.4,757.1 L1294.5,758.2 L1294.6,759.3 L1294.7,760.5 L1294.8,761.6 L1294.9,762.8 L1295.0,763.9 L1295.1,765.1 L1295.2,766.3 L1295.3,767.4 L1295.4,768.6 L1295.5,769.7 L1295.6,770.9 L1295.7,772.1 L1295.8,773.2 L1295.9,774.4 L1296.0,775.6 L1296.1,776.8 L1296.2,778.0 L1296.3,779.2 L1296.4,780.4 L1296.5,781.7 L1296.6,782.9 L1296.7,784.2 L1296.8,785.5 L1296.9,786.8 L1297.0,788.0 L1297.1,789.3 L1297.2,790.6 L1297.3,791.8 L1297.4,793.1 L1297.5,794.3 L1297.6,795.5 L1297.7,796.7 L1297.8,797.9 L1297.9,799.1 L1298.0,800.2 L1298.1,801.3 L1298.2,802.4 L1298.3,803.5 L1298.4,804.5 L1298.5,805.5 L1298.6,806.5 L1298.7,807.5 L1298.8,808.4 L1298.9,809.4 L1299.0,810.4 L1299.1,811.3 L1299.2,812.3 L1299.3,813.2 L1299.4,814.1 L1299.5,815.0 L1299.6,815.9 L1299.7,816.7 L1299.8,817.5 L1299.9,818.3 L1300.1,819.8 L1300.3,821.1 L1300.5,822.3 L1300.7,823.4 L1300.9,824.5 L1301.1,825.5 L1301.3,826.5 L1301.5,827.5 L1301.7,828.3 L1302.1,829.7 L1302.5,830.6 L1303.3,831.9 L1304.1,832.8 L1304.9,833.3 L1305.7,833.4 L1306.5,833.1 L1307.3,832.6 L1308.1,832.0 L1308.9,831.2 L1309.3,830.6 L1309.7,829.8 L1310.1,828.8 L1310.5,827.6 L1310.9,826.4 L1311.3,825.0 L1311.7,823.6 L1312.1,822.2 L1312.5,820.8 L1312.7,820.0 L1312.9,819.2 L1313.1,818.4 L1313.3,817.6 L1313.5,816.7 L1313.7,815.9 L1313.9,814.9 L1314.1,814.0 L1314.3,813.1 L1314.5,812.1 L1314.7,811.1 L1314.9,810.1 L1315.1,809.1 L1315.3,808.1 L1315.5,807.0 L1315.7,806.0 L1315.9,805.0 L1316.1,803.9 L1316.3,802.8 L1316.5,801.8 L1316.7,800.7 L1316.9,799.5 L1317.1,798.4 L1317.3,797.3 L1317.5,796.1 L1317.7,794.9 L1317.9,793.7 L1318.1,792.5 L1318.3,791.2 L1318.5,790.0 L1318.7,788.7 L1318.9,787.5 L1319.1,786.2 L1319.3,784.9 L1319.5,783.5 L1319.7,782.2 L1319.9,780.8 L1320.1,779.5 L1320.3,778.1 L1320.5,776.7 L1320.7,775.3 L1320.9,773.8 L1321.1,772.3 L1321.2,771.6 L1321.3,770.8 L1321.4,770.1 L1321.5,769.3 L1321.6,768.5 L1321.7,767.7 L1321.8,767.0 L1321.9,766.2 L1322.0,765.3 L1322.1,764.5 L1322.2,763.7 L1322.3,762.9 L1322.4,762.0 L1322.5,761.2 L1322.6,760.3 L1322.7,759.4 L1322.8,758.5 L1322.9,757.6 L1323.0,756.7 L1323.1,755.8 L1323.2,754.9 L1323.3,753.9 L1323.4,753.0 L1323.5,752.0 L1323.6,751.0 L1323.7,750.0 L1323.8,749.0 L1323.9,748.0 L1324.0,747.0 L1324.1,745.9 L1324.2,744.9 L1324.3,743.8 L1324.4,742.7 L1324.5,741.7 L1324.6,740.6 L1324.7,739.4 L1324.8,738.3 L1324.9,737.2 L1325.0,736.0 L1325.1,734.9 L1325.2,733.7 L1325.3,732.5 L1325.4,731.3 L1325.5,730.1 L1325.6,728.9 L1325.7,727.7 L1325.8,726.4 L1325.9,725.2 L1326.0,723.9 L1326.1,722.6 L1326.2,721.4 L1326.3,720.1 L1326.4,718.8 L1326.5,717.5 L1326.6,716.2 L1326.7,714.8 L1326.8,713.5 L1326.9,712.2 L1327.0,710.8 L1327.1,709.5 L1327.2,708.1 L1327.3,706.7 L1327.4,705.4 L1327.5,704.0 L1327.6,702.6 L1327.7,701.2 L1327.8,699.8 L1327.9,698.4 L1328.0,697.0 L1328.1,695.6 L1328.2,694.2 L1328.3,692.7 L1328.4,691.3 L1328.5,689.9 L1328.6,688.5 L1328.7,687.0 L1328.8,685.6 L1328.9,684.1 L1329.0,682.7 L1329.1,681.2 L1329.2,679.8 L1329.3,678.3 L1329.4,676.9 L1329.5,675.4 L1329.6,674.0 L1329.7,672.5 L1329.8,671.1 L1329.9,669.6 L1330.0,668.1 L1330.1,666.7 L1330.2,665.2 L1330.3,663.8 L1330.4,662.3 L1330.5,660.8 L1330.6,659.4 L1330.7,657.9 L1330.8,656.5 L1330.9,655.0 L1331.0,653.6 L1331.1,652.1 L1331.2,650.7 L1331.3,649.3 L1331.4,647.8 L1331.5,646.4 L1331.6,645.0 L1331.7,643.5 L1331.8,642.1 L1331.9,640.7 L1332.0,639.3 L1332.1,637.9 L1332.2,636.4 L1332.3,635.0 L1332.4,633.6 L1332.5,632.1 L1332.6,630.6 L1332.7,629.2 L1332.8,627.7 L1332.9,626.2 L1333.0,624.7 L1333.1,623.2 L1333.2,622.5 L1333.2,621.7 L1333.3,621.0 L1333.3,620.2 L1333.4,619.5 L1333.4,618.7 L1333.5,618.0 L1333.5,617.2 L1333.6,616.4 L1333.6,615.7 L1333.7,614.9 L1333.7,614.2 L1333.8,613.4 L1333.8,612.7 L1333.9,611.9 L1333.9,611.1 L1334.0,610.4 L1334.0,609.6 L1334.1,608.9 L1334.1,608.1 L1334.2,607.3 L1334.2,606.6 L1334.3,605.8 L1334.3,605.1 L1334.4,604.3 L1334.4,603.6 L1334.5,602.8 L1334.5,602.0 L1334.6,601.3 L1334.6,600.5 L1334.7,599.8 L1334.7,599.0 L1334.8,598.3 L1334.8,597.5 L1334.9,596.8 L1334.9,596.0 L1335.0,594.5 L1335.1,593.0 L1335.2,591.5 L1335.3,590.1 L1335.4,588.6 L1335.5,587.1 L1335.6,585.7 L1335.7,584.2 L1335.8,582.8 L1335.9,581.3 L1336.0,579.9 L1336.1,578.5 L1336.2,577.1 L1336.3,575.7 L1336.4,574.3 L1336.5,573.0 L1336.6,571.6 L1336.7,570.2 L1336.8,568.9 L1336.9,567.6 L1337.0,566.3 L1337.1,565.0 L1337.2,563.7 L1337.3,562.5 L1337.4,561.2 L1337.5,560.0 L1337.6,558.7 L1337.7,557.5 L1337.8,556.2 L1337.9,555.0 L1338.0,553.8 L1338.1,552.6 L1338.2,551.3 L1338.3,550.1 L1338.4,548.9 L1338.5,547.7 L1338.6,546.5 L1338.7,545.3 L1338.8,544.1 L1338.9,543.0 L1339.0,541.8 L1339.1,540.6 L1339.2,539.4 L1339.3,538.3 L1339.4,537.1 L1339.5,536.0 L1339.6,534.8 L1339.7,533.7 L1339.8,532.5 L1339.9,531.4 L1340.0,530.3 L1340.1,529.2 L1340.2,528.1 L1340.3,527.0 L1340.4,525.9 L1340.5,524.8 L1340.6,523.7 L1340.7,522.6 L1340.8,521.5 L1340.9,520.5 L1341.0,519.4 L1341.1,518.3 L1341.2,517.3 L1341.3,516.2 L1341.4,515.2 L1341.5,514.2 L1341.6,513.1 L1341.7,512.1 L1341.8,511.1 L1341.9,510.1 L1342.0,509.1 L1342.1,508.1 L1342.2,507.1 L1342.3,506.2 L1342.4,505.2 L1342.5,504.2 L1342.6,503.3 L1342.7,502.3 L1342.8,501.4 L1342.9,500.5 L1343.0,499.5 L1343.1,498.6 L1343.2,497.7 L1343.3,496.9 L1343.4,496.0 L1343.5,495.2 L1343.6,494.3 L1343.7,493.5 L1343.8,492.7 L1343.9,491.9 L1344.0,491.1 L1344.1,490.4 L1344.2,489.6 L1344.3,488.8 L1344.4,488.1 L1344.5,487.3 L1344.6,486.5 L1344.7,485.8 L1344.8,485.0 L1344.9,484.3 L1345.0,483.5 L1345.1,482.7 L1345.2,482.0 L1345.3,481.2 L1345.4,480.4 L1345.5,479.6 L1345.6,478.8 L1345.7,478.0 L1345.8,477.2 L1345.9,476.4 L1346.0,475.6 L1346.1,474.7 L1346.2,473.8 L1346.3,473.0 L1346.4,472.1 L1346.5,471.1 L1346.6,470.2 L1346.7,469.3 L1346.8,468.3 L1346.9,467.3 L1347.0,466.4 L1347.1,465.4 L1347.2,464.4 L1347.3,463.4 L1347.4,462.4 L1347.5,461.4 L1347.6,460.3 L1347.7,459.3 L1347.8,458.2 L1347.9,457.2 L1348.0,456.1 L1348.1,455.1 L1348.2,454.0 L1348.3,452.9 L1348.4,451.8 L1348.5,450.7 L1348.6,449.6 L1348.7,448.5 L1348.8,447.4 L1348.9,446.3 L1349.0,445.1 L1349.1,444.0 L1349.2,442.9 L1349.3,441.7 L1349.4,440.6 L1349.5,439.4 L1349.6,438.2 L1349.7,437.0 L1349.8,435.7 L1349.9,434.4 L1350.0,433.1 L1350.1,431.8 L1350.2,430.4 L1350.3,429.1 L1350.4,427.7 L1350.5,426.4 L1350.6,425.0 L1350.7,423.7 L1350.8,422.4 L1350.9,421.2 L1351.0,419.9 L1351.1,418.7 L1351.2,417.6 L1351.3,416.5 L1351.4,415.5 L1351.5,414.5 L1351.6,413.6 L1351.7,412.7 L1351.8,411.8 L1351.9,410.9 L1352.0,410.0 L1352.1,409.2 L1352.2,408.3 L1352.3,407.5 L1352.4,406.7 L1352.5,405.9 L1352.6,405.2 L1352.7,404.4 L1352.8,403.6 L1353.0,402.2 L1353.2,400.7 L1353.4,399.3 L1353.6,397.9 L1353.8,396.6 L1354.0,395.2 L1354.2,393.8 L1354.4,392.4 L1354.6,391.1 L1354.8,389.6 L1355.0,388.2 L1355.1,387.4 L1355.2,386.7 L1355.3,385.9 L1355.4,385.2 L1355.5,384.4 L1355.6,383.6 L1355.7,382.9 L1355.8,382.1 L1355.9,381.3 L1356.1,379.9 L1356.3,378.4 L1356.5,377.1 L1356.7,375.8 L1356.9,374.6 L1357.1,373.5 L1357.3,372.6 L1357.5,371.8 L1357.9,370.4 L1358.3,369.0 L1358.7,367.8 L1359.1,366.7 L1359.5,365.7 L1359.9,364.9 L1360.7,364.0 L1361.5,363.4 L1362.3,363.0 L1363.1,362.6 L1363.9,362.3 L1364.7,362.2 L1365.5,362.1 L1366.3,362.3 L1367.1,362.8 L1367.9,363.5 L1368.7,364.4 L1369.5,365.4 L1370.3,366.5 L1370.7,367.1 L1371.1,367.9 L1371.5,368.7 L1371.9,369.5 L1372.3,370.4 L1372.7,371.3 L1373.1,372.3 L1373.5,373.3 L1373.9,374.3 L1374.3,375.4 L1374.7,376.6 L1375.1,377.8 L1375.5,379.0 L1375.9,380.3 L1376.3,381.6 L1376.7,382.9 L1377.1,384.1 L1377.5,385.4 L1377.9,386.6 L1378.3,387.7 L1378.7,388.8 L1379.1,389.9 L1379.5,391.0 L1379.9,392.0 L1380.3,393.0 L1380.7,394.0 L1381.1,395.1 L1381.5,396.1 L1381.9,397.2 L1382.3,398.4 L1382.7,399.5 L1383.1,400.8 L1383.5,402.1 L1383.9,403.5 L1384.3,404.9 L1384.5,405.6 L1384.7,406.3 L1384.9,407.1 L1385.1,407.8 L1385.3,408.6 L1385.5,409.3 L1385.7,410.1 L1385.9,410.9 L1386.1,411.7 L1386.3,412.4 L1386.5,413.2 L1386.7,414.0 L1386.9,414.8 L1387.1,415.6 L1387.3,416.4 L1387.5,417.2 L1387.7,418.0 L1387.9,418.8 L1388.1,419.6 L1388.3,420.4 L1388.5,421.2 L1388.7,422.0 L1388.9,422.8 L1389.1,423.5 L1389.3,424.3 L1389.5,425.1 L1389.7,425.8 L1389.9,426.6 L1390.1,427.3 L1390.3,428.1 L1390.5,428.8 L1390.7,429.5 L1390.9,430.3 L1391.1,431.0 L1391.3,431.8 L1391.5,432.5 L1391.7,433.2 L1391.9,434.0 L1392.1,434.7 L1392.3,435.5 L1392.5,436.2 L1392.7,437.0 L1392.9,437.7 L1393.1,438.4 L1393.3,439.2 L1393.5,439.9 L1393.7,440.6 L1394.1,442.1 L1394.5,443.5 L1394.9,444.9 L1395.3,446.3 L1395.7,447.6 L1396.1,448.9 L1396.5,450.2 L1396.9,451.5 L1397.3,452.8 L1397.7,454.0 L1398.1,455.3 L1398.5,456.5 L1398.9,457.8 L1399.3,459.0 L1399.7,460.2 L1400.1,461.3 L1400.5,462.5 L1400.9,463.6 L1401.3,464.7 L1401.7,465.7 L1402.1,466.7 L1402.5,467.7 L1402.9,468.6 L1403.3,469.5 L1403.7,470.4 L1404.1,471.2 L1404.5,472.1 L1404.9,472.9 L1405.3,473.7 L1405.7,474.5 L1406.1,475.2 L1406.5,475.9 L1406.9,476.6 L1407.7,477.8 L1408.5,478.9 L1409.3,479.8 L1410.1,480.8 L1410.9,481.7 L1411.7,482.3 L1412.5,482.6 L1413.3,482.5 L1414.1,482.2 L1414.9,481.6 L1415.7,480.9 L1416.5,480.1 L1417.3,479.2 L1418.1,478.2 L1418.5,477.5 L1418.9,476.7 L1419.3,475.8 L1419.7,474.8 L1420.1,473.7 L1420.5,472.6 L1420.9,471.4 L1421.3,470.1 L1421.7,468.8 L1422.1,467.5 L1422.5,466.2 L1422.9,464.9 L1423.3,463.6 L1423.7,462.3 L1424.1,460.9 L1424.3,460.1 L1424.5,459.4 L1424.7,458.6 L1424.9,457.9 L1425.1,457.1 L1425.3,456.3 L1425.5,455.5 L1425.7,454.6 L1425.9,453.8 L1426.1,453.0 L1426.3,452.1 L1426.5,451.3 L1426.7,450.4 L1426.9,449.6 L1427.1,448.7 L1427.3,447.8 L1427.5,446.9 L1427.7,446.0 L1427.9,445.1 L1428.1,444.2 L1428.3,443.3 L1428.5,442.4 L1428.7,441.4 L1428.9,440.5 L1429.1,439.5 L1429.3,438.5 L1429.5,437.5 L1429.7,436.5 L1429.9,435.5 L1430.1,434.5 L1430.3,433.4 L1430.5,432.4 L1430.7,431.3 L1430.9,430.3 L1431.1,429.2 L1431.3,428.1 L1431.5,427.0 L1431.7,426.0 L1431.9,424.8 L1432.1,423.7 L1432.3,422.6 L1432.5,421.5 L1432.7,420.4 L1432.9,419.3 L1433.1,418.2 L1433.3,417.1 L1433.5,415.9 L1433.7,414.8 L1433.9,413.6 L1434.1,412.4 L1434.3,411.2 L1434.5,410.0 L1434.7,408.8 L1434.9,407.5 L1435.1,406.1 L1435.3,404.8 L1435.5,403.4 L1435.7,401.9 L1435.8,401.1 L1435.9,400.4 L1436.0,399.6 L1436.1,398.8 L1436.2,397.9 L1436.3,397.0 L1436.4,396.1 L1436.5,395.2 L1436.6,394.2 L1436.7,393.2 L1436.8,392.2 L1436.9,391.2 L1437.0,390.1 L1437.1,389.0 L1437.2,388.0 L1437.3,386.9 L1437.4,385.8 L1437.5,384.7 L1437.6,383.7 L1437.7,382.6 L1437.8,381.5 L1437.9,380.5 L1438.0,379.4 L1438.1,378.4 L1438.2,377.4 L1438.3,376.4 L1438.4,375.5 L1438.5,374.5 L1438.6,373.6 L1438.7,372.7 L1438.8,371.7 L1438.9,370.8 L1439.0,369.9 L1439.1,368.9 L1439.2,368.0 L1439.3,367.1 L1439.4,366.1 L1439.5,365.2 L1439.6,364.3 L1439.7,363.4 L1439.8,362.4 L1439.9,361.5 L1440.0,360.6 L1440.1,359.7 L1440.2,358.8 L1440.3,357.9 L1440.4,357.1 L1440.5,356.2 L1440.6,355.3 L1440.7,354.5 L1440.8,353.6 L1440.9,352.8 L1441.0,352.0 L1441.1,351.2 L1441.2,350.4 L1441.3,349.6 L1441.4,348.9 L1441.6,347.4 L1441.8,346.0 L1442.0,344.7 L1442.2,343.4 L1442.4,342.2 L1442.6,341.0 L1442.8,339.9 L1443.0,338.8 L1443.2,337.7 L1443.4,336.7 L1443.6,335.7 L1443.8,334.8 L1444.0,333.8 L1444.2,332.9 L1444.4,331.9 L1444.6,331.0 L1444.8,330.1 L1445.0,329.1 L1445.2,328.2 L1445.4,327.2 L1445.6,326.3 L1445.8,325.3 L1446.0,324.3 L1446.2,323.2 L1446.4,322.1 L1446.6,321.0 L1446.8,319.8 L1447.0,318.6 L1447.2,317.3 L1447.4,315.9 L1447.6,314.4 L1447.7,313.7 L1447.8,312.9 L1447.9,312.1 L1448.0,311.3 L1448.1,310.6 L1448.2,309.8 L1448.3,309.0 L1448.4,308.2 L1448.5,307.4 L1448.6,306.6 L1448.7,305.8 L1448.8,305.0 L1448.9,304.2 L1449.0,303.5 L1449.1,302.7 L1449.3,301.2 L1449.5,299.8 L1449.7,298.5 L1449.9,297.3 L1450.1,296.1 L1450.3,295.0 L1450.5,293.7 L1450.7,292.5 L1450.9,291.3 L1451.1,290.0 L1451.3,288.8 L1451.5,287.6 L1451.7,286.4 L1451.9,285.3 L1452.1,284.1 L1452.3,283.1 L1452.5,282.1 L1452.7,281.1 L1452.9,280.3 L1453.1,279.5 L1453.5,278.2 L1454.3,277.0 L1455.1,277.0 L1455.9,277.0 L1456.7,277.0 L1457.5,277.0 L1458.3,277.0 L1459.1,277.0 L1459.9,277.0 L1460.7,277.0 L1461.5,277.0 L1462.3,277.0 L1463.1,277.2 L1463.9,277.7 L1464.7,278.3 L1465.5,279.0 L1466.3,279.7 L1467.1,280.5 L1467.9,281.3 L1468.7,282.1 L1469.5,282.7 L1470.3,283.2 L1471.1,283.7 L1471.9,284.2 L1472.7,284.6 L1473.5,285.1 L1474.3,285.5 L1475.1,286.0 L1475.9,286.4 L1476.7,286.8 L1477.5,287.2 L1478.3,287.6 L1479.1,288.0 L1479.9,288.4 L1480.7,288.8 L1481.5,289.2 L1482.3,289.5 L1483.1,289.9 L1483.9,290.3 L1484.7,290.6 L1485.5,291.0 L1486.3,291.4 L1487.1,291.7 L1487.9,292.1 L1488.7,292.4 L1489.5,292.8 L1490.3,293.2 L1491.1,293.5 L1491.9,293.8 L1492.7,294.2 L1493.5,294.5 L1494.3,294.8 L1495.1,295.1 L1495.9,295.4 L1496.7,295.7 L1497.5,295.9 L1498.3,296.2 L1499.1,296.5 L1499.9,296.8 L1500.7,297.1 L1501.5,297.4 L1502.3,297.7 L1503.1,298.1 L1503.9,298.4 L1504.7,298.7 L1505.5,299.1 L1506.3,299.5 L1507.1,299.9 L1507.9,300.3 L1508.7,300.7 L1509.5,301.2 L1510.3,301.7 L1511.1,302.2 L1511.9,302.8 L1512.7,303.4 L1513.5,304.0 L1514.3,304.6 L1515.1,305.2 L1515.9,305.9 L1516.7,306.6 L1517.5,307.3 L1518.3,308.0 L1519.1,308.7 L1519.9,309.5 L1520.7,310.3 L1521.5,311.1 L1522.3,311.9 L1523.1,312.7 L1523.9,313.7 L1524.7,314.6 L1525.5,315.6 L1526.3,316.7 L1527.1,317.7 L1527.9,318.8 L1528.7,319.9 L1529.5,320.9 L1530.3,322.0 L1531.1,323.1 L1531.9,324.1 L1532.7,325.2 L1533.5,326.2 L1534.3,327.3 L1535.1,328.3 L1535.9,329.4 L1536.7,330.4 L1537.5,331.5 L1538.3,332.6 L1539.1,333.6 L1539.9,334.7 L1540.7,335.8 L1541.5,336.9 L1542.3,337.9 L1543.1,339.0 L1543.9,340.1 L1544.7,341.2 L1545.5,342.2 L1546.3,343.3 L1547.1,344.4 L1547.9,345.4 L1548.7,346.5 L1549.5,347.5 L1550.3,348.6 L1551.1,349.6 L1551.9,350.6 L1552.7,351.7 L1553.5,352.7 L1554.3,353.7 L1555.1,354.8 L1555.9,355.8 L1556.7,356.8 L1557.5,357.9 L1558.3,359.0 L1559.1,360.0 L1559.9,361.1 L1560.7,362.2 L1561.5,363.4 L1562.3,364.5 L1563.1,365.7 L1563.9,366.8 L1564.7,368.0 L1565.5,369.2 L1566.3,370.3 L1567.1,371.5 L1567.9,372.7 L1568.7,374.0 L1569.5,375.2 L1570.3,376.4 L1571.1,377.6 L1571.9,378.9 L1572.7,380.1 L1573.5,381.4 L1573.9,382.0 L1574.3,382.7 L1574.7,383.3 L1575.1,384.0 L1575.5,384.6 L1575.9,385.3 L1576.3,385.9 L1576.7,386.6 L1577.1,387.2 L1577.5,387.9 L1577.9,388.5 L1578.3,389.2 L1578.7,389.9 L1579.1,390.5 L1579.5,391.2 L1579.9,391.9 L1580.3,392.6 L1580.7,393.3 L1581.1,393.9 L1581.5,394.6 L1581.9,395.3 L1582.3,396.0 L1582.7,396.7 L1583.1,397.4 L1583.5,398.1 L1583.9,398.8 L1584.3,399.5 L1584.7,400.2 L1585.1,400.9 L1585.5,401.6 L1585.9,402.4 L1586.3,403.1 L1586.7,403.8 L1587.1,404.5 L1587.5,405.3 L1587.9,406.0 L1588.3,406.7 L1588.7,407.5 L1589.1,408.2 L1589.5,409.0 L1589.9,409.8 L1590.3,410.5 L1590.7,411.3 L1591.1,412.0 L1591.5,412.8 L1591.9,413.6 L1592.3,414.4 L1592.7,415.1 L1593.1,415.9 L1593.5,416.7 L1593.9,417.5 L1594.3,418.3 L1594.7,419.1 L1595.1,419.9 L1595.5,420.7 L1595.9,421.5 L1596.3,422.4 L1596.7,423.2 L1597.1,424.0 L1597.5,424.8 L1597.9,425.7 L1598.3,426.5 L1598.7,427.3 L1599.1,428.2 L1599.5,429.0 L1599.9,429.9 L1600.3,430.8 L1600.7,431.6 L1601.1,432.5 L1601.5,433.4 L1601.9,434.2 L1602.3,435.1 L1602.7,436.0 L1603.1,436.9 L1603.5,437.8 L1603.9,438.7 L1604.3,439.6 L1604.7,440.5 L1605.1,441.4 L1605.5,442.3 L1605.9,443.3 L1606.3,444.2 L1606.7,445.1 L1607.1,446.0 L1607.5,447.0 L1607.9,447.9 L1608.3,448.9 L1608.7,449.8 L1609.1,450.8 L1609.5,451.7 L1609.9,452.7 L1610.3,453.7 L1610.7,454.6 L1611.1,455.6 L1611.5,456.6 L1611.9,457.6 L1612.3,458.6 L1612.7,459.6 L1613.1,460.5 L1613.5,461.5 L1613.9,462.5 L1614.3,463.5 L1614.7,464.5 L1615.1,465.6 L1615.5,466.6 L1615.9,467.6 L1616.3,468.6 L1616.7,469.6 L1617.1,470.6 L1617.5,471.7 L1617.9,472.7 L1618.3,473.7 L1618.7,474.8 L1619.1,475.8 L1619.5,476.8 L1619.9,477.9 L1620.3,478.9 L1620.7,480.0 L1621.1,481.0 L1621.5,482.1 L1621.9,483.1 L1622.3,484.2 L1622.7,485.3 L1623.1,486.3 L1623.5,487.4 L1623.9,488.5 L1624.3,489.6 L1624.7,490.7 L1625.1,491.8 L1625.5,492.9 L1625.9,494.0 L1626.3,495.1 L1626.7,496.2 L1627.1,497.3 L1627.5,498.4 L1627.9,499.5 L1628.3,500.7 L1628.7,501.8 L1629.1,502.9 L1629.5,504.1 L1629.9,505.2 L1630.3,506.3 L1630.7,507.5 L1631.1,508.6 L1631.5,509.8 L1631.9,511.0 L1632.3,512.1 L1632.7,513.3 L1633.1,514.5 L1633.5,515.6 L1633.9,516.8 L1634.3,518.0 L1634.7,519.2 L1635.1,520.4 L1635.5,521.5 L1635.9,522.7 L1636.3,523.9 L1636.7,525.1 L1637.1,526.3 L1637.5,527.5 L1637.9,528.8 L1638.3,530.0 L1638.7,531.2 L1639.1,532.4 L1639.5,533.6 L1639.9,534.8 L1640.3,536.1 L1640.7,537.3 L1641.1,538.5 L1641.5,539.7 L1641.9,541.0 L1642.3,542.2 L1642.7,543.4 L1643.1,544.7 L1643.5,545.9 L1643.9,547.1 L1644.3,548.4 L1644.7,549.6 L1645.1,550.8 L1645.5,552.1 L1645.9,553.3 L1646.3,554.6 L1646.7,555.8 L1647.1,557.1 L1647.5,558.3 L1647.9,559.6 L1648.3,560.9 L1648.7,562.2 L1649.1,563.4 L1649.5,564.7 L1649.9,566.0 L1650.3,567.3 L1650.7,568.6 L1651.1,570.0 L1651.5,571.3 L1651.9,572.6 L1652.3,574.0 L1652.7,575.3 L1653.1,576.7 L1653.5,578.0 L1653.9,579.4 L1654.3,580.8 L1654.7,582.2 L1655.1,583.6 L1655.5,585.0 L1655.9,586.4 L1656.3,587.9 L1656.5,588.6 L1656.7,589.3 L1656.9,590.0 L1657.1,590.8 L1657.3,591.5 L1657.5,592.3 L1657.7,593.0 L1657.9,593.7 L1658.1,594.5 L1658.3,595.2 L1658.5,596.0 L1658.7,596.7 L1658.9,597.5 L1659.1,598.3 L1659.3,599.0 L1659.5,599.8 L1659.7,600.6 L1659.9,601.4 L1660.1,602.2 L1660.3,603.0 L1660.5,603.8 L1660.7,604.6 L1660.9,605.4 L1661.1,606.2 L1661.3,607.1 L1661.5,607.9 L1661.7,608.8 L1661.9,609.7 L1662.1,610.5 L1662.3,611.4 L1662.5,612.3 L1662.7,613.2 L1662.9,614.1 L1663.1,615.0 L1663.3,615.9 L1663.5,616.8 L1663.7,617.7 L1663.9,618.6 L1664.1,619.5 L1664.3,620.4 L1664.5,621.4 L1664.7,622.3 L1664.9,623.2 L1665.1,624.2 L1665.3,625.1 L1665.5,626.1 L1665.7,627.0 L1665.9,628.0 L1666.1,628.9 L1666.3,629.9 L1666.5,630.8 L1666.7,631.8 L1666.9,632.7 L1667.1,633.7 L1667.3,634.6 L1667.5,635.6 L1667.7,636.6 L1667.9,637.5 L1668.1,638.5 L1668.3,639.4 L1668.5,640.4 L1668.7,641.4 L1668.9,642.3 L1669.1,643.3 L1669.3,644.2 L1669.5,645.2 L1669.7,646.1 L1669.9,647.1 L1670.1,648.0 L1670.3,648.9 L1670.5,649.9 L1670.7,650.8 L1670.9,651.8 L1671.1,652.7 L1671.3,653.6 L1671.5,654.5 L1671.7,655.4 L1671.9,656.4 L1672.1,657.3 L1672.3,658.2 L1672.5,659.1 L1672.7,660.0 L1672.9,660.8 L1673.1,661.7 L1673.3,662.6 L1673.5,663.5 L1673.7,664.3 L1673.9,665.2 L1674.1,666.0 L1674.3,666.9 L1674.5,667.7 L1674.7,668.5 L1674.9,669.4 L1675.1,670.2 L1675.3,671.0 L1675.5,671.8 L1675.7,672.6 L1675.9,673.4 L1676.1,674.2 L1676.3,675.0 L1676.5,675.8 L1676.7,676.6 L1676.9,677.4 L1677.1,678.2 L1677.3,679.0 L1677.5,679.8 L1677.7,680.5 L1677.9,681.3 L1678.1,682.1 L1678.3,682.9 L1678.5,683.6 L1678.7,684.4 L1678.9,685.2 L1679.1,685.9 L1679.3,686.7 L1679.5,687.5 L1679.7,688.2 L1679.9,689.0 L1680.1,689.8 L1680.3,690.5 L1680.5,691.3 L1680.7,692.1 L1680.9,692.8 L1681.1,693.6 L1681.3,694.4 L1681.5,695.1 L1681.7,695.9 L1681.9,696.7 L1682.1,697.4 L1682.3,698.2 L1682.5,699.0 L1682.7,699.8 L1682.9,700.6 L1683.1,701.4 L1683.3,702.1 L1683.5,702.9 L1683.7,703.7 L1683.9,704.5 L1684.1,705.3 L1684.3,706.2 L1684.5,707.0 L1684.7,707.8 L1684.9,708.6 L1685.1,709.4 L1685.3,710.3 L1685.5,711.1 L1685.7,712.0 L1685.9,712.8 L1686.1,713.7 L1686.3,714.5 L1686.5,715.4 L1686.7,716.3 L1686.9,717.1 L1687.1,718.0 L1687.3,718.9 L1687.5,719.8 L1687.7,720.7 L1687.9,721.6 L1688.1,722.5 L1688.3,723.4 L1688.5,724.4 L1688.7,725.3 L1688.9,726.2 L1689.1,727.2 L1689.3,728.1 L1689.5,729.0 L1689.7,730.0 L1689.9,730.9 L1690.1,731.9 L1690.3,732.8 L1690.5,733.8 L1690.7,734.8 L1690.9,735.7 L1691.1,736.7 L1691.3,737.7 L1691.5,738.7 L1691.7,739.7 L1691.9,740.6 L1692.1,741.6 L1692.3,742.6 L1692.5,743.6 L1692.7,744.6 L1692.9,745.6 L1693.1,746.6 L1693.3,747.6 L1693.5,748.7 L1693.7,749.7 L1693.9,750.7 L1694.1,751.7 L1694.3,752.7 L1694.5,753.7 L1694.7,754.8 L1694.9,755.8 L1695.1,756.8 L1695.3,757.8 L1695.5,758.9 L1695.7,759.9 L1695.9,760.9 L1696.1,762.0 L1696.3,763.0 L1696.5,764.1 L1696.7,765.1 L1696.9,766.1 L1697.1,767.2 L1697.3,768.2 L1697.5,769.3 L1697.7,770.3 L1697.9,771.4 L1698.1,772.4 L1698.3,773.5 L1698.5,774.5 L1698.7,775.6 L1698.9,776.6 L1699.1,777.7 L1699.3,778.7 L1699.5,779.8 L1699.7,780.8 L1699.9,781.9 L1700.1,782.9 L1700.3,784.0 L1700.5,785.0 L1700.7,786.1 L1700.9,787.1 L1701.1,788.2 L1701.3,789.2 L1701.5,790.2 L1701.7,791.3 L1701.9,792.3 L1702.1,793.3 L1702.3,794.4 L1702.5,795.4 L1702.7,796.4 L1702.9,797.4 L1703.1,798.5 L1703.3,799.5 L1703.5,800.5 L1703.7,801.6 L1703.9,802.6 L1704.1,803.6 L1704.3,804.7 L1704.5,805.7 L1704.7,806.7 L1704.9,807.8 L1705.1,808.8 L1705.3,809.9 L1705.5,810.9 L1705.7,812.0 L1705.9,813.0 L1706.1,814.1 L1706.3,815.2 L1706.5,816.3 L1706.7,817.3 L1706.9,818.4 L1707.1,819.5 L1707.3,820.6 L1707.5,821.7 L1707.7,822.8 L1707.9,824.0 L1708.1,825.1 L1708.3,826.2 L1708.5,827.4 L1708.7,828.5 L1708.9,829.7 L1709.1,830.9 L1709.3,832.0 L1709.5,833.2 L1709.7,834.4 L1709.9,835.6 L1710.1,836.9 L1710.3,838.1 L1710.5,839.3 L1710.7,840.6 L1710.9,841.9 L1711.1,843.1 L1711.3,844.4 L1711.5,845.7 L1711.7,847.0 L1711.9,848.4 L1712.1,849.7 L1712.3,851.0 L1712.5,852.4 L1712.7,853.7 L1712.9,855.1 L1713.1,856.4 L1713.3,857.8 L1713.5,859.1 L1713.7,860.5 L1713.9,861.9 L1714.1,863.3 L1714.3,864.7 L1714.5,866.2 L1714.7,867.7 L1714.9,869.1 L1715.0,869.9 L1715.1,870.6 L1715.2,871.4 L1715.3,872.2 L1715.4,873.0 L1715.5,873.7 L1715.6,874.5 L1715.7,875.3 L1715.8,876.1 L1715.9,876.9 L1716.0,877.8 L1716.1,878.6 L1716.2,879.4 L1716.3,880.3 L1716.4,881.1 L1716.5,882.0 L1716.6,882.9 L1716.7,883.8 L1716.8,884.7 L1716.9,885.6 L1717.0,886.5 L1717.1,887.4 L1717.2,888.3 L1717.3,889.3 L1717.4,890.2 L1717.5,891.2 L1717.6,892.2 L1717.7,893.2 L1717.8,894.2 L1717.9,895.2 L1718.0,896.2 L1718.1,897.3 L1718.2,898.3 L1718.3,899.4 L1718.4,900.5 L1718.5,901.6 L1718.6,902.7 L1718.7,903.9 L1718.8,905.2 L1718.9,906.5 L1719.0,907.8 L1719.1,909.2 L1719.2,910.7 L1719.3,912.1 L1719.4,912.9 L1719.4,913.6 L1719.5,914.4 L1719.5,915.2 L1719.6,915.9 L1719.6,916.7 L1719.7,917.5 L1719.7,918.3 L1719.8,919.1 L1719.8,919.9 L1719.9,920.6 L1719.9,921.4 L1720.0,922.2 L1720.0,923.0 L1720.1,923.8 L1720.1,924.6 L1720.2,925.4 L1720.2,926.2 L1720.3,927.0"/>
<path stroke-width="4.8" d="M274.0,168.1 L276.0,168.4 L278.0,168.5 L280.0,168.9 L282.0,169.7 L284.0,168.8 L286.0,169.3 L288.0,169.6 L290.0,169.6 L292.0,170.1 L294.0,170.5 L296.0,172.2 L298.0,171.7 L300.0,171.5 L302.0,172.1 L304.0,171.5 L306.0,171.7 L308.0,172.6 L310.0,172.5 L312.0,172.4 L314.0,172.8 L316.0,172.7 L318.0,174.3 L320.0,175.1 L322.0,176.3 L324.0,175.4 L326.0,175.3 L328.0,175.5 L330.0,176.2 L332.0,176.3 L334.0,177.0 L336.0,176.9 L338.0,176.4 L340.0,178.1 L342.0,177.8 L344.0,178.8 L346.0,178.6 L348.0,179.0 L350.0,178.3 L352.0,178.7 L354.0,179.8 L356.0,180.5 L358.0,180.5 L360.0,180.9 L362.0,180.2 L364.0,181.2 L366.0,181.3 L368.0,181.4 L370.0,182.4 L372.0,182.5 L374.0,182.5 L376.0,183.0 L378.0,183.3 L380.0,183.7 L382.0,184.2 L384.0,184.3 L386.0,185.3 L388.0,186.2 L390.0,186.4 L392.0,185.9 L394.0,185.8 L396.0,186.5 L398.0,186.6 L400.0,187.7 L402.0,187.6 L404.0,187.9 L406.0,187.7 L408.0,188.2 L410.0,187.8 L412.0,187.7 L414.0,188.8 L416.0,188.6 L418.0,189.0 L420.0,190.1 L422.0,191.1 L424.0,190.8 L426.0,190.6 L428.0,191.4 L430.0,191.9 L432.0,192.0 L434.0,191.5 L436.0,191.7 L438.0,192.8 L440.0,192.1 L442.0,192.7 L444.0,193.7 L446.0,194.2 L448.0,193.5 L450.0,193.7 L452.0,193.9 L454.0,193.7 L456.0,194.4 L458.0,194.3 L460.0,195.3 L462.0,194.8 L464.0,195.1 L466.0,195.3 L468.0,195.9 L470.0,194.9 L472.0,196.6 L474.0,196.7 L476.0,197.1 L478.0,198.0 L480.0,197.8 L482.0,198.1 L484.0,198.2 L486.0,198.8 L488.0,199.0 L490.0,199.5 L492.0,199.2 L494.0,198.7 L496.0,199.4 L498.0,199.0 L500.0,199.6 L502.0,199.8 L504.0,199.0 L506.0,199.9 L508.0,200.0 L510.0,200.0 L512.0,199.9 L514.0,201.2 L516.0,201.9 L518.0,201.3 L520.0,201.3 L522.0,201.6 L524.0,201.7 L526.0,202.7 L528.0,202.4 L530.0,203.4 L532.0,202.1 L534.0,202.1 L536.0,203.7 L538.0,203.7 L540.0,202.9 L542.0,205.1 L544.0,205.1 L546.0,205.1 L548.0,203.6 L550.0,205.1 L552.0,205.2 L554.0,205.3 L556.0,205.3 L558.0,204.7 L560.0,204.9 L562.0,206.0 L564.0,206.7 L566.0,206.9 L568.0,206.9 L570.0,206.9 L572.0,207.1 L574.0,208.1 L576.0,207.4 L578.0,206.3 L580.0,207.0 L582.0,206.9 L584.0,206.5 L586.0,206.3 L588.0,207.3 L590.0,206.9 L592.0,207.1 L594.0,206.8 L596.0,207.9 L598.0,207.4 L600.0,207.3 L602.0,206.7 L604.0,206.7 L606.0,208.0 L608.0,207.4 L610.0,208.4 L612.0,208.5 L614.0,208.5 L616.0,208.5 L618.0,208.5 L620.0,209.2 L622.0,208.9 L624.0,208.1 L626.0,208.4 L628.0,209.6 L630.0,208.6 L632.0,209.0 L634.0,209.1 L636.0,209.9 L638.0,209.2 L640.0,210.2 L642.0,209.3 L644.0,209.7 L646.0,209.2 L648.0,209.8 L650.0,209.6 L652.0,209.1 L654.0,210.0 L656.0,209.6 L658.0,210.4 L660.0,209.0 L662.0,210.8 L664.0,210.5 L666.0,211.4 L668.0,211.2 L670.0,210.8 L672.0,210.5 L674.0,210.3 L676.0,210.9 L678.0,210.6 L680.0,209.9 L682.0,210.3 L684.0,210.9 L686.0,211.0 L688.0,211.1 L690.0,211.3 L692.0,209.9 L694.0,210.9 L696.0,212.1 L698.0,212.0 L700.0,211.6 L702.0,211.2 L704.0,211.5 L706.0,213.1 L708.0,212.5 L710.0,213.0 L712.0,213.1 L714.0,213.7 L716.0,213.1 L718.0,212.7 L720.0,213.6 L722.0,214.5 L724.0,213.6 L726.0,214.8 L728.0,215.7 L730.0,216.1 L732.0,216.4 L734.0,215.9 L736.0,216.6 L738.0,217.0 L740.0,218.5 L742.0,219.0 L744.0,219.6 L746.0,219.0 L748.0,219.2 L750.0,220.4 L752.0,221.0 L754.0,222.1 L756.0,221.9 L758.0,222.2 L760.0,223.4 L762.0,223.2 L764.0,223.7 L766.0,225.2 L768.0,226.2 L770.0,225.9 L772.0,225.6 L774.0,226.3 L776.0,225.6 L778.0,227.7 L780.0,229.3 L782.0,229.5 L784.0,229.2 L786.0,229.3 L788.0,230.1 L790.0,231.0 L792.0,232.1 L794.0,232.9 L796.0,233.9 L798.0,233.8 L800.0,234.6 L802.0,233.1 L804.0,233.6 L806.0,234.9 L808.0,235.0 L810.0,235.7 L812.0,236.5 L814.0,237.3 L816.0,237.5 L818.0,237.8 L820.0,237.8 L822.0,238.4 L824.0,239.0 L826.0,238.4 L828.0,238.7 L830.0,238.7 L832.0,238.5 L834.0,238.0 L836.0,237.9 L838.0,237.9 L840.0,238.3 L842.0,238.3 L844.0,238.4 L846.0,237.7 L848.0,236.6 L850.0,236.8 L852.0,235.3 L854.0,236.0 L856.0,236.3 L858.0,234.5 L860.0,233.6 L862.0,231.9 L864.0,231.9 L866.0,231.2 L868.0,230.8 L870.0,230.2 L872.0,229.1 L874.0,229.0 L876.0,228.3 L878.0,226.8 L880.0,226.5 L882.0,224.8 L884.0,223.5 L886.0,222.8 L888.0,223.7 L890.0,222.1 L892.0,221.0 L894.0,220.6 L896.0,220.1 L898.0,220.0 L900.0,219.8 L902.0,218.6 L904.0,217.6 L906.0,216.8 L908.0,216.2 L910.0,215.8 L912.0,215.7 L914.0,215.8 L916.0,216.1 L918.0,215.8 L920.0,215.2 L922.0,215.3 L924.0,214.3 L926.0,215.2 L928.0,215.0 L930.0,215.4 L932.0,214.6 L934.0,213.4 L936.0,214.7 L938.0,214.0 L940.0,213.3 L942.0,212.4 L944.0,212.1 L946.0,213.4 L948.0,214.0 L950.0,213.7 L952.0,214.9 L954.0,214.5 L956.0,214.9 L958.0,214.2 L960.0,214.2 L962.0,214.2 L964.0,215.4 L966.0,215.8 L968.0,216.1 L970.0,216.6 L972.0,216.9 L974.0,217.4 L976.0,216.1 L978.0,217.9 L980.0,218.7 L982.0,219.5 L984.0,219.5 L986.0,219.3 L988.0,219.2 L990.0,220.7 L992.0,220.4 L994.0,221.5 L996.0,221.7 L998.0,221.3 L1000.0,222.0 L1002.0,223.0 L1004.0,222.9 L1006.0,222.0 L1008.0,222.8 L1010.0,223.0 L1012.0,223.5 L1014.0,223.6 L1016.0,224.1 L1018.0,223.8 L1020.0,224.2 L1022.0,224.9 L1024.0,225.1 L1026.0,225.1 L1028.0,225.2 L1030.0,225.8 L1032.0,226.1 L1034.0,226.1 L1036.0,224.9 L1038.0,224.8 L1040.0,225.3 L1042.0,225.9 L1044.0,225.7 L1046.0,225.5 L1048.0,226.3 L1050.0,226.3 L1052.0,226.4 L1054.0,226.8 L1056.0,226.9 L1058.0,227.8 L1060.0,228.6 L1062.0,228.3 L1064.0,228.1 L1066.0,229.0 L1068.0,228.8 L1070.0,229.1 L1072.0,229.3 L1074.0,229.4 L1076.0,231.0 L1078.0,231.0 L1080.0,231.6 L1082.0,232.0 L1084.0,231.7 L1086.0,230.5 L1088.0,231.7 L1090.0,232.4 L1092.0,231.5 L1094.0,231.8 L1096.0,233.2 L1098.0,233.6 L1100.0,234.0 L1102.0,233.4 L1104.0,234.2 L1106.0,234.2 L1108.0,234.8 L1110.0,234.1 L1112.0,234.7 L1114.0,234.0 L1116.0,234.6 L1118.0,235.3 L1120.0,235.9 L1122.0,236.2 L1124.0,236.4 L1126.0,237.3 L1128.0,237.5 L1130.0,237.1 L1132.0,238.2 L1134.0,239.2 L1136.0,239.0 L1138.0,238.5 L1140.0,239.9 L1142.0,240.2 L1144.0,239.1 L1146.0,240.0 L1148.0,240.3 L1150.0,241.0"/>
<path stroke-width="4.2" d="M1150.0,241.0 L1150.8,241.1 L1151.6,241.2 L1152.4,241.4 L1153.2,241.5 L1154.0,241.7 L1154.8,241.8 L1155.6,242.0 L1156.4,242.2 L1157.2,242.4 L1158.0,242.6 L1158.8,242.9 L1159.6,243.1 L1160.4,243.3 L1161.2,243.6 L1162.0,243.8 L1162.8,244.1 L1163.6,244.4 L1164.4,244.8 L1165.2,245.1 L1166.0,245.5 L1166.8,245.8 L1167.6,246.2 L1168.4,246.6 L1169.2,247.0 L1170.0,247.5 L1170.8,247.9 L1171.6,248.3 L1172.4,248.8 L1173.2,249.3 L1174.0,249.7 L1174.8,250.2 L1175.6,250.7 L1176.4,251.2 L1177.2,251.8 L1178.0,252.3 L1178.8,252.8 L1179.6,253.3 L1180.4,253.9 L1181.2,254.4 L1182.0,255.0 L1182.8,255.5 L1183.6,256.1 L1184.4,256.8 L1185.2,257.4 L1186.0,258.0 L1186.8,258.7 L1187.6,259.4 L1188.4,260.1 L1189.2,260.9 L1190.0,261.6 L1190.8,262.4 L1191.6,263.2 L1192.4,264.0 L1193.2,264.9 L1194.0,265.7 L1194.8,266.6 L1195.6,267.5 L1196.4,268.5 L1197.2,269.4 L1198.0,270.4 L1198.8,271.4 L1199.6,272.4 L1200.4,273.5 L1201.2,274.6 L1202.0,275.8 L1202.8,277.1 L1203.2,277.8 L1203.6,278.5 L1204.0,279.2 L1204.4,279.9 L1204.8,280.6 L1205.2,281.4 L1205.6,282.2 L1206.0,283.0 L1206.4,283.9 L1206.8,284.8 L1207.2,285.8 L1207.6,286.9 L1208.0,288.0 L1208.4,289.2 L1208.8,290.4 L1209.2,291.7 L1209.6,293.0 L1210.0,294.3 L1210.4,295.7 L1210.8,297.1 L1211.2,298.5 L1211.6,299.9 L1212.0,301.4 L1212.2,302.1 L1212.4,302.8 L1212.6,303.5 L1212.8,304.3 L1213.0,305.0 L1213.2,305.7 L1213.4,306.5 L1213.6,307.2 L1213.8,308.0 L1214.0,308.8 L1214.2,309.6 L1214.4,310.4 L1214.6,311.3 L1214.8,312.1 L1215.0,312.9 L1215.2,313.8 L1215.4,314.6 L1215.6,315.5 L1215.8,316.4 L1216.0,317.3 L1216.2,318.2 L1216.4,319.0 L1216.6,319.9 L1216.8,320.8 L1217.0,321.7 L1217.2,322.6 L1217.4,323.5 L1217.6,324.4 L1217.8,325.3 L1218.0,326.2 L1218.2,327.1 L1218.4,328.0 L1218.6,328.9 L1218.8,329.8 L1219.0,330.7 L1219.2,331.6 L1219.4,332.4 L1219.6,333.3 L1219.8,334.2 L1220.0,335.0 L1220.2,335.8 L1220.4,336.7 L1220.6,337.5 L1220.8,338.4 L1221.0,339.2 L1221.2,340.0 L1221.4,340.9 L1221.6,341.7 L1221.8,342.5 L1222.0,343.4 L1222.2,344.2 L1222.4,345.0 L1222.6,345.9 L1222.8,346.7 L1223.0,347.5 L1223.2,348.3 L1223.4,349.2 L1223.6,350.0 L1223.8,350.8 L1224.0,351.6 L1224.2,352.5 L1224.4,353.3 L1224.6,354.1 L1224.8,354.9 L1225.0,355.8 L1225.2,356.6 L1225.4,357.4 L1225.6,358.2 L1225.8,359.0 L1226.0,359.9 L1226.2,360.7 L1226.4,361.5 L1226.6,362.3 L1226.8,363.1 L1227.0,363.9 L1227.2,364.7 L1227.4,365.6 L1227.6,366.4 L1227.8,367.2 L1228.0,368.0 L1228.2,368.8 L1228.4,369.6 L1228.6,370.4 L1228.8,371.2 L1229.0,372.0 L1229.2,372.8 L1229.4,373.6 L1229.6,374.3 L1229.8,375.1 L1230.0,375.9 L1230.2,376.6 L1230.4,377.4 L1230.6,378.2 L1230.8,378.9 L1231.0,379.7 L1231.2,380.5 L1231.4,381.2 L1231.6,382.0 L1231.8,382.8 L1232.0,383.5 L1232.2,384.3 L1232.4,385.1 L1232.6,385.9 L1232.8,386.6 L1233.0,387.4 L1233.2,388.2 L1233.4,389.0 L1233.6,389.8 L1233.8,390.6 L1234.0,391.4 L1234.2,392.2 L1234.4,393.1 L1234.6,393.9 L1234.8,394.8 L1235.0,395.6 L1235.2,396.5 L1235.4,397.3 L1235.6,398.2 L1235.8,399.1 L1236.0,400.0 L1236.2,400.9 L1236.4,401.8 L1236.6,402.8 L1236.8,403.7 L1237.0,404.7 L1237.2,405.7 L1237.4,406.6 L1237.6,407.6 L1237.8,408.6 L1238.0,409.7 L1238.2,410.7 L1238.4,411.7 L1238.6,412.7 L1238.8,413.8 L1239.0,414.8 L1239.2,415.9 L1239.4,417.0 L1239.6,418.0 L1239.8,419.1 L1240.0,420.2 L1240.2,421.3 L1240.4,422.4 L1240.6,423.5 L1240.8,424.6 L1241.0,425.7 L1241.2,426.8 L1241.4,427.9 L1241.6,429.0 L1241.8,430.1 L1242.0,431.2 L1242.2,432.3 L1242.4,433.4 L1242.6,434.5 L1242.8,435.6 L1243.0,436.7 L1243.2,437.8 L1243.4,438.9 L1243.6,439.9 L1243.8,441.0 L1244.0,442.1 L1244.2,443.2 L1244.4,444.2 L1244.6,445.3 L1244.8,446.4 L1245.0,447.4 L1245.2,448.5 L1245.4,449.5 L1245.6,450.5 L1245.8,451.5 L1246.0,452.6 L1246.2,453.6 L1246.4,454.6 L1246.6,455.6 L1246.8,456.6 L1247.0,457.6 L1247.2,458.6 L1247.4,459.6 L1247.6,460.6 L1247.8,461.6 L1248.0,462.6 L1248.2,463.5 L1248.4,464.5 L1248.6,465.5 L1248.8,466.5 L1249.0,467.5 L1249.2,468.5 L1249.4,469.4 L1249.6,470.4 L1249.8,471.4 L1250.0,472.4 L1250.2,473.4 L1250.4,474.3 L1250.6,475.3 L1250.8,476.3 L1251.0,477.3 L1251.2,478.3 L1251.4,479.2 L1251.6,480.2 L1251.8,481.2 L1252.0,482.2 L1252.2,483.2 L1252.4,484.2 L1252.6,485.2 L1252.8,486.2 L1253.0,487.2 L1253.2,488.2 L1253.4,489.2 L1253.6,490.2 L1253.8,491.2 L1254.0,492.2 L1254.2,493.3 L1254.4,494.3 L1254.6,495.3 L1254.8,496.3 L1255.0,497.4 L1255.2,498.4 L1255.4,499.5 L1255.6,500.5 L1255.8,501.6 L1256.0,502.6 L1256.2,503.7 L1256.4,504.7 L1256.6,505.7 L1256.8,506.8 L1257.0,507.8 L1257.2,508.8 L1257.4,509.8 L1257.6,510.9 L1257.8,511.9 L1258.0,512.9 L1258.2,513.9 L1258.4,515.0 L1258.6,516.0 L1258.8,517.0 L1259.0,518.1 L1259.2,519.1 L1259.4,520.2 L1259.6,521.2 L1259.8,522.3 L1260.0,523.3 L1260.2,524.4 L1260.4,525.5 L1260.6,526.6 L1260.8,527.6 L1261.0,528.7 L1261.2,529.9 L1261.4,531.0 L1261.6,532.1 L1261.8,533.2 L1262.0,534.4 L1262.2,535.6 L1262.4,536.7 L1262.6,537.9 L1262.8,539.1 L1263.0,540.4 L1263.2,541.6 L1263.4,542.8 L1263.6,544.1 L1263.8,545.4 L1264.0,546.7 L1264.2,548.0 L1264.4,549.3 L1264.6,550.7 L1264.8,552.1 L1265.0,553.5 L1265.2,554.9 L1265.4,556.4 L1265.5,557.1 L1265.6,557.9 L1265.7,558.6 L1265.8,559.4 L1265.9,560.2 L1266.0,560.9 L1266.1,561.7 L1266.2,562.5 L1266.3,563.3 L1266.4,564.1 L1266.5,564.9 L1266.6,565.7 L1266.7,566.5 L1266.8,567.4 L1266.9,568.2 L1267.0,569.0 L1267.1,569.9 L1267.2,570.7 L1267.3,571.5 L1267.4,572.4 L1267.5,573.2 L1267.6,574.1 L1267.7,574.9 L1267.8,575.8 L1267.9,576.7 L1268.0,577.5 L1268.1,578.4 L1268.2,579.3 L1268.3,580.2 L1268.4,581.1 L1268.5,581.9 L1268.6,582.8 L1268.7,583.7 L1268.8,584.6 L1268.9,585.5 L1269.0,586.4 L1269.1,587.3 L1269.2,588.2 L1269.3,589.1 L1269.4,590.0 L1269.5,590.9 L1269.6,591.8 L1269.7,592.7 L1269.8,593.6 L1269.9,594.5 L1270.0,595.4 L1270.1,596.4 L1270.2,597.3 L1270.3,598.2 L1270.4,599.1 L1270.5,600.0 L1270.6,600.9 L1270.7,601.8 L1270.8,602.8 L1270.9,603.7 L1271.0,604.7 L1271.1,605.6 L1271.2,606.6 L1271.3,607.6 L1271.4,608.5 L1271.5,609.5 L1271.6,610.5 L1271.7,611.5 L1271.8,612.5 L1271.9,613.5 L1272.0,614.5 L1272.1,615.5 L1272.2,616.5 L1272.3,617.5 L1272.4,618.6 L1272.5,619.6 L1272.6,620.6 L1272.7,621.6 L1272.8,622.7 L1272.9,623.7 L1273.0,624.7 L1273.1,625.8 L1273.2,626.8 L1273.3,627.8 L1273.4,628.9 L1273.5,629.9 L1273.6,630.9 L1273.7,632.0 L1273.8,633.0 L1273.9,634.0 L1274.0,635.1 L1274.1,636.1 L1274.2,637.1 L1274.3,638.1 L1274.4,639.1 L1274.5,640.2 L1274.6,641.2 L1274.7,642.2 L1274.8,643.2 L1274.9,644.2 L1275.0,645.2 L1275.1,646.1 L1275.2,647.1 L1275.3,648.1 L1275.4,649.0 L1275.5,650.0 L1275.6,651.0 L1275.7,651.9 L1275.8,652.9 L1275.9,653.8 L1276.0,654.8 L1276.1,655.7 L1276.2,656.7 L1276.3,657.6 L1276.4,658.5 L1276.5,659.5 L1276.6,660.4 L1276.7,661.4 L1276.8,662.3 L1276.9,663.3 L1277.0,664.2 L1277.1,665.1 L1277.2,666.1 L1277.3,667.0 L1277.4,667.9 L1277.5,668.9 L1277.6,669.8 L1277.7,670.7 L1277.8,671.7 L1277.9,672.6 L1278.0,673.5 L1278.1,674.4 L1278.2,675.4 L1278.3,676.3 L1278.4,677.2 L1278.5,678.1 L1278.6,679.0 L1278.7,679.9 L1278.8,680.8 L1278.9,681.7 L1279.0,682.6 L1279.1,683.5 L1279.2,684.4 L1279.3,685.3 L1279.4,686.2 L1279.5,687.1 L1279.6,688.0 L1279.7,688.8 L1279.8,689.7 L1279.9,690.6 L1280.0,691.5 L1280.1,692.3 L1280.2,693.2 L1280.3,694.1 L1280.4,694.9 L1280.5,695.8 L1280.6,696.6 L1280.7,697.5 L1280.8,698.3 L1280.9,699.2 L1281.0,700.0 L1281.1,700.8 L1281.2,701.7 L1281.3,702.5 L1281.4,703.3 L1281.5,704.1 L1281.6,704.9 L1281.7,705.7 L1281.8,706.5 L1281.9,707.3 L1282.0,708.1 L1282.1,708.9 L1282.2,709.6 L1282.3,710.4 L1282.4,711.2 L1282.5,711.9 L1282.6,712.7 L1282.7,713.5 L1282.8,714.2 L1282.9,715.0 L1283.0,715.7 L1283.1,716.5 L1283.2,717.2 L1283.3,718.0 L1283.5,719.5 L1283.7,720.9 L1283.9,722.4 L1284.1,723.9 L1284.3,725.4 L1284.5,726.8 L1284.7,728.3 L1284.9,729.8 L1285.1,731.3 L1285.2,732.0 L1285.3,732.8 L1285.4,733.5 L1285.5,734.3 L1285.6,735.0 L1285.7,735.8 L1285.8,736.5 L1285.9,737.3 L1286.0,738.1 L1286.1,738.8 L1286.2,739.6 L1286.3,740.4 L1286.4,741.1 L1286.5,741.9 L1286.6,742.7 L1286.7,743.5 L1286.8,744.3 L1286.9,745.1 L1287.0,745.9 L1287.1,746.7 L1287.2,747.5 L1287.3,748.3 L1287.4,749.2 L1287.5,750.0 L1287.6,750.8 L1287.7,751.7 L1287.8,752.5 L1287.9,753.4 L1288.0,754.2 L1288.1,755.1 L1288.2,756.0 L1288.3,756.8 L1288.4,757.7 L1288.5,758.6 L1288.6,759.5 L1288.7,760.4 L1288.8,761.3 L1288.9,762.2 L1289.0,763.1 L1289.1,764.0 L1289.2,764.9 L1289.3,765.8 L1289.4,766.7 L1289.5,767.6 L1289.6,768.5 L1289.7,769.4 L1289.8,770.3 L1289.9,771.3 L1290.0,772.2 L1290.1,773.1 L1290.2,774.0 L1290.3,775.0 L1290.4,775.9 L1290.5,776.8 L1290.6,777.7 L1290.7,778.7 L1290.8,779.6 L1290.9,780.5 L1291.0,781.5 L1291.1,782.4 L1291.2,783.3 L1291.3,784.3 L1291.4,785.2 L1291.5,786.1 L1291.6,787.1 L1291.7,788.0 L1291.8,788.9 L1291.9,789.9 L1292.0,790.8 L1292.1,791.7 L1292.2,792.7 L1292.3,793.6 L1292.4,794.5 L1292.5,795.4 L1292.6,796.3 L1292.7,797.3 L1292.8,798.2 L1292.9,799.1 L1293.0,800.0 L1293.1,800.9 L1293.2,801.8 L1293.3,802.7 L1293.4,803.6 L1293.5,804.5 L1293.6,805.4 L1293.7,806.3 L1293.8,807.2 L1293.9,808.1 L1294.0,809.0 L1294.1,809.8 L1294.2,810.7 L1294.3,811.6 L1294.4,812.5 L1294.5,813.4 L1294.6,814.2 L1294.7,815.1 L1294.8,816.0 L1294.9,816.9 L1295.0,817.7 L1295.1,818.6 L1295.2,819.5 L1295.3,820.4 L1295.4,821.3 L1295.5,822.1 L1295.6,823.0 L1295.7,823.9 L1295.8,824.8 L1295.9,825.7 L1296.0,826.6 L1296.1,827.5 L1296.2,828.4 L1296.3,829.3 L1296.4,830.2 L1296.5,831.1 L1296.6,832.0 L1296.7,832.9 L1296.8,833.8 L1296.9,834.7 L1297.0,835.6 L1297.1,836.5 L1297.2,837.5 L1297.3,838.4 L1297.4,839.3 L1297.5,840.3 L1297.6,841.2 L1297.7,842.2 L1297.8,843.1 L1297.9,844.1 L1298.0,845.1 L1298.1,846.0 L1298.2,847.0 L1298.3,848.0 L1298.4,849.0 L1298.5,850.0 L1298.6,851.0 L1298.7,852.0 L1298.8,853.0 L1298.9,854.1 L1299.0,855.1 L1299.1,856.1 L1299.2,857.2 L1299.3,858.2 L1299.4,859.3 L1299.5,860.3 L1299.6,861.4 L1299.7,862.5 L1299.8,863.6 L1299.9,864.6 L1300.0,865.7 L1300.1,866.8 L1300.2,867.9 L1300.3,869.0 L1300.4,870.1 L1300.5,871.2 L1300.6,872.3 L1300.7,873.5 L1300.8,874.6 L1300.9,875.7 L1301.0,876.8 L1301.1,878.0 L1301.2,879.1 L1301.3,880.2 L1301.4,881.4 L1301.5,882.5 L1301.6,883.7 L1301.7,884.8 L1301.8,886.0 L1301.9,887.1 L1302.0,888.3 L1302.1,889.5 L1302.2,890.6 L1302.3,891.8 L1302.4,893.0 L1302.5,894.1 L1302.6,895.3 L1302.7,896.5 L1302.8,897.6 L1302.9,898.8 L1303.0,900.0 L1303.1,901.2 L1303.2,902.4 L1303.3,903.6 L1303.4,904.8 L1303.5,906.0 L1303.6,907.2 L1303.7,908.4 L1303.8,909.6 L1303.9,910.9 L1304.0,912.1 L1304.1,913.3 L1304.2,914.6 L1304.3,915.8 L1304.4,917.1 L1304.5,918.3 L1304.6,919.6 L1304.7,920.8 L1304.8,922.1 L1304.9,923.4 L1305.0,924.6 L1305.1,925.9 L1305.2,927.2 L1305.3,928.5 L1305.4,929.7 L1305.5,931.0 L1305.6,932.3 L1305.7,933.5 L1305.8,934.8 L1305.9,936.1 L1306.0,937.4 L1306.1,938.6 L1306.2,939.9 L1306.3,941.2 L1306.4,942.4 L1306.5,943.7 L1306.6,945.0 L1306.7,946.2 L1306.8,947.5 L1306.9,948.7 L1307.0,950.0 L1307.1,951.2 L1307.2,952.5 L1307.3,953.7 L1307.4,955.0 L1307.5,956.2 L1307.6,957.5 L1307.7,958.7 L1307.8,959.9 L1307.9,961.2 L1308.0,962.4 L1308.1,963.7 L1308.2,964.9 L1308.3,966.1 L1308.4,967.4 L1308.5,968.6 L1308.6,969.8 L1308.7,971.1 L1308.8,972.3 L1308.9,973.5 L1309.0,974.8 L1309.1,976.0 L1309.2,977.3 L1309.3,978.5 L1309.4,979.8 L1309.5,981.0 L1309.6,982.2 L1309.7,983.5 L1309.8,984.8 L1309.9,986.0 L1310.0,987.3 L1310.1,988.5 L1310.2,989.8 L1310.3,991.0 L1310.4,992.3 L1310.5,993.6 L1310.6,994.9 L1310.7,996.1 L1310.8,997.4 L1310.9,998.7 L1311.0,1000.0 L1311.1,1001.3 L1311.2,1002.6 L1311.3,1003.9 L1311.4,1005.2 L1311.5,1006.5 L1311.6,1007.8 L1311.7,1009.1 L1311.8,1010.4 L1311.9,1011.7 L1312.0,1013.0 L1312.1,1014.3 L1312.2,1015.7 L1312.3,1017.0 L1312.4,1018.3 L1312.5,1019.6 L1312.6,1021.0 L1312.7,1022.3 L1312.8,1023.6 L1312.9,1025.0 L1313.0,1026.3 L1313.1,1027.7 L1313.2,1029.0 L1313.3,1030.4 L1313.4,1031.7 L1313.5,1033.1 L1313.6,1034.5 L1313.7,1035.8 L1313.8,1037.2 L1313.9,1038.6 L1314.0,1040.0 L1314.1,1041.4 L1314.2,1042.9 L1314.3,1044.3 L1314.3,1045.1 L1314.4,1045.8 L1314.4,1046.6 L1314.5,1047.3 L1314.5,1048.1 L1314.6,1048.9 L1314.6,1049.6 L1314.7,1050.4 L1314.7,1051.2 L1314.8,1052.0 L1314.8,1052.7 L1314.9,1053.5 L1314.9,1054.3 L1315.0,1055.0 L1315.0,1055.8 L1315.1,1056.6 L1315.1,1057.3 L1315.2,1058.1 L1315.3,1059.6 L1315.4,1061.0 L1315.5,1062.5 L1315.6,1063.9 L1315.7,1065.2 L1315.8,1066.5 L1315.9,1067.8 L1316.0,1069.0 L1316.1,1070.2 L1316.2,1071.3 L1316.3,1072.4 L1316.4,1073.5 L1316.5,1074.6 L1316.6,1075.7 L1316.7,1076.7 L1316.8,1077.8 L1316.9,1078.8 L1317.0,1079.8 L1317.1,1080.8 L1317.2,1081.8 L1317.3,1082.7 L1317.4,1083.7 L1317.5,1084.6 L1317.6,1085.5 L1317.7,1086.5 L1317.8,1087.4 L1317.9,1088.3 L1318.0,1089.2 L1318.1,1090.1 L1318.2,1091.0 L1318.3,1091.9 L1318.4,1092.7 L1318.5,1093.6 L1318.6,1094.5 L1318.7,1095.4 L1318.8,1096.2 L1318.9,1097.1 L1319.0,1098.0 L1319.1,1098.9 L1319.2,1099.8 L1319.3,1100.7 L1319.4,1101.6 L1319.5,1102.4 L1319.6,1103.3 L1319.7,1104.2 L1319.8,1105.1 L1319.9,1106.0 L1320.0,1106.9 L1320.1,1107.8 L1320.2,1108.6 L1320.3,1109.5 L1320.4,1110.3 L1320.5,1111.1 L1320.6,1112.0 L1320.7,1112.8 L1320.8,1113.5 L1320.9,1114.3 L1321.1,1115.8 L1321.3,1117.1 L1321.5,1118.4 L1321.7,1119.6 L1321.9,1120.7 L1322.1,1121.8 L1322.3,1122.9 L1322.5,1124.0 L1322.7,1125.0 L1322.9,1126.0 L1323.1,1127.0 L1323.3,1127.9 L1323.5,1128.7 L1323.7,1129.5 L1324.1,1130.9 L1324.5,1132.0 L1324.9,1132.9 L1325.3,1133.8 L1325.7,1134.7 L1326.1,1135.6 L1326.5,1136.3 L1326.9,1137.1 L1327.7,1138.3 L1328.5,1139.1 L1329.3,1139.5 L1330.1,1139.3 L1330.9,1138.3 L1331.3,1137.6 L1331.7,1136.8 L1332.1,1136.0 L1332.5,1135.0 L1332.9,1134.0 L1333.3,1132.9 L1333.7,1131.5 L1333.9,1130.7 L1334.1,1129.8 L1334.3,1128.8 L1334.5,1127.8 L1334.7,1126.7 L1334.9,1125.6 L1335.1,1124.4 L1335.3,1123.2 L1335.5,1122.0 L1335.7,1120.8 L1335.9,1119.6 L1336.1,1118.4 L1336.3,1117.1 L1336.5,1115.8 L1336.7,1114.4 L1336.9,1113.0 L1337.1,1111.5 L1337.2,1110.7 L1337.3,1110.0 L1337.4,1109.2 L1337.5,1108.4 L1337.6,1107.6 L1337.7,1106.8 L1337.8,1106.0 L1337.9,1105.2 L1338.0,1104.4 L1338.1,1103.5 L1338.2,1102.7 L1338.3,1101.9 L1338.4,1101.0 L1338.5,1100.2 L1338.6,1099.3 L1338.7,1098.5 L1338.8,1097.6 L1338.9,1096.7 L1339.0,1095.8 L1339.1,1094.9 L1339.2,1094.0 L1339.3,1093.1 L1339.4,1092.1 L1339.5,1091.2 L1339.6,1090.2 L1339.7,1089.2 L1339.8,1088.2 L1339.9,1087.2 L1340.0,1086.2 L1340.1,1085.2 L1340.2,1084.2 L1340.3,1083.2 L1340.4,1082.1 L1340.5,1081.1 L1340.6,1080.1 L1340.7,1079.0 L1340.8,1078.0 L1340.9,1077.0 L1341.0,1075.9 L1341.1,1074.9 L1341.2,1073.9 L1341.3,1072.8 L1341.4,1071.8 L1341.5,1070.8 L1341.6,1069.8 L1341.7,1068.8 L1341.8,1067.8 L1341.9,1066.8 L1342.0,1065.9 L1342.1,1065.0 L1342.2,1064.0 L1342.3,1063.1 L1342.4,1062.2 L1342.5,1061.3 L1342.6,1060.4 L1342.7,1059.5 L1342.8,1058.6 L1342.9,1057.7 L1343.0,1056.7 L1343.1,1055.8 L1343.2,1054.9 L1343.3,1054.0 L1343.4,1053.0 L1343.5,1052.1 L1343.6,1051.1 L1343.7,1050.1 L1343.8,1049.1 L1343.9,1048.0 L1344.0,1047.0 L1344.1,1045.9 L1344.2,1044.8 L1344.3,1043.6 L1344.4,1042.4 L1344.5,1041.2 L1344.6,1040.0 L1344.7,1038.7 L1344.8,1037.4 L1344.9,1036.0 L1345.0,1034.5 L1345.1,1033.0 L1345.1,1032.3 L1345.2,1031.5 L1345.2,1030.7 L1345.3,1029.9 L1345.3,1029.1 L1345.4,1028.3 L1345.4,1027.5 L1345.5,1026.7 L1345.5,1025.8 L1345.6,1025.0 L1345.6,1024.1 L1345.7,1023.2 L1345.7,1022.3 L1345.8,1021.5 L1345.8,1020.6 L1345.9,1019.7 L1345.9,1018.8 L1346.0,1017.8 L1346.0,1016.9 L1346.1,1016.0 L1346.1,1015.1 L1346.2,1014.1 L1346.2,1013.2 L1346.3,1012.2 L1346.3,1011.3 L1346.4,1010.3 L1346.4,1009.3 L1346.5,1008.4 L1346.5,1007.4 L1346.6,1006.4 L1346.6,1005.4 L1346.7,1004.4 L1346.7,1003.4 L1346.8,1002.4 L1346.8,1001.5 L1346.9,1000.5 L1346.9,999.5 L1347.0,998.5 L1347.0,997.5 L1347.1,996.5 L1347.1,995.4 L1347.2,994.4 L1347.2,993.4 L1347.3,992.4 L1347.3,991.4 L1347.4,990.4 L1347.4,989.4 L1347.5,988.4 L1347.5,987.4 L1347.6,986.4 L1347.6,985.4 L1347.7,984.4 L1347.7,983.4 L1347.8,982.4 L1347.8,981.4 L1347.9,980.4 L1347.9,979.5 L1348.0,978.5 L1348.0,977.5 L1348.1,976.5 L1348.1,975.6 L1348.2,974.6 L1348.2,973.6 L1348.3,972.7 L1348.3,971.7 L1348.4,970.8 L1348.4,969.9 L1348.5,968.9 L1348.5,968.0 L1348.6,967.1 L1348.6,966.2 L1348.7,965.3 L1348.7,964.4 L1348.8,963.5 L1348.8,962.6 L1348.9,961.7 L1348.9,960.9 L1349.0,960.0 L1349.0,959.1 L1349.1,958.3 L1349.1,957.4 L1349.2,956.6 L1349.2,955.8 L1349.3,954.9 L1349.3,954.1 L1349.4,953.2 L1349.4,952.4 L1349.5,951.5 L1349.5,950.7 L1349.6,949.8 L1349.6,949.0 L1349.7,948.2 L1349.7,947.3 L1349.8,946.5 L1349.8,945.7 L1349.9,944.8 L1349.9,944.0 L1350.0,943.2 L1350.0,942.3 L1350.1,941.5 L1350.1,940.7 L1350.2,939.8 L1350.2,939.0 L1350.3,938.2 L1350.3,937.4 L1350.4,936.5 L1350.4,935.7 L1350.5,934.9 L1350.5,934.1 L1350.6,933.3 L1350.6,932.4 L1350.7,931.6 L1350.7,930.8 L1350.8,930.0 L1350.8,929.2 L1350.9,928.4 L1350.9,927.5 L1351.0,926.7 L1351.0,925.9 L1351.1,925.1 L1351.1,924.3 L1351.2,923.5 L1351.2,922.7 L1351.3,921.9 L1351.3,921.1 L1351.4,920.3 L1351.4,919.5 L1351.5,918.7 L1351.5,917.9 L1351.6,917.1 L1351.6,916.3 L1351.7,915.5 L1351.7,914.7 L1351.8,913.9 L1351.8,913.1 L1351.9,912.3 L1351.9,911.5 L1352.0,910.7 L1352.0,909.9 L1352.1,909.2 L1352.1,908.4 L1352.2,907.6 L1352.2,906.8 L1352.3,906.0 L1352.3,905.2 L1352.4,904.4 L1352.4,903.7 L1352.5,902.9 L1352.5,902.1 L1352.6,901.3 L1352.6,900.6 L1352.7,899.8 L1352.7,899.0 L1352.8,898.2 L1352.8,897.5 L1352.9,896.7 L1352.9,895.9 L1353.0,895.2 L1353.0,894.4 L1353.1,893.6 L1353.1,892.9 L1353.2,892.1 L1353.2,891.3 L1353.3,890.6 L1353.3,889.8 L1353.4,889.0 L1353.4,888.3 L1353.5,887.5 L1353.5,886.8 L1353.6,886.0 L1353.6,885.3 L1353.7,884.5 L1353.7,883.7 L1353.8,883.0 L1353.8,882.2 L1353.9,881.5 L1354.0,880.0 L1354.1,878.5 L1354.2,877.0 L1354.3,875.6 L1354.4,874.1 L1354.5,872.7 L1354.6,871.3 L1354.7,869.9 L1354.8,868.5 L1354.9,867.1 L1355.0,865.7 L1355.1,864.3 L1355.2,862.9 L1355.3,861.6 L1355.4,860.2 L1355.5,858.9 L1355.6,857.5 L1355.7,856.2 L1355.8,854.8 L1355.9,853.5 L1356.0,852.2 L1356.1,850.8 L1356.2,849.5 L1356.3,848.2 L1356.4,846.8 L1356.5,845.5 L1356.6,844.2 L1356.7,842.8 L1356.8,841.5 L1356.9,840.2 L1357.0,838.8 L1357.1,837.5 L1357.2,836.1 L1357.3,834.7 L1357.4,833.4 L1357.5,832.0 L1357.6,830.6 L1357.7,829.2 L1357.8,827.8 L1357.9,826.4 L1358.0,825.0 L1358.1,823.5 L1358.2,822.1 L1358.3,820.6 L1358.4,819.2 L1358.5,817.7 L1358.5,816.9 L1358.6,816.2 L1358.6,815.4 L1358.7,814.6 L1358.7,813.9 L1358.8,813.1 L1358.8,812.3 L1358.9,811.6 L1358.9,810.8 L1359.0,810.0 L1359.0,809.2 L1359.1,808.4 L1359.1,807.6 L1359.2,806.8 L1359.2,806.0 L1359.3,805.2 L1359.3,804.4 L1359.4,803.5 L1359.4,802.7 L1359.5,801.9 L1359.5,801.0 L1359.6,800.2 L1359.6,799.3 L1359.7,798.5 L1359.7,797.6 L1359.8,796.8 L1359.8,795.9 L1359.9,795.0 L1359.9,794.1 L1360.0,793.3 L1360.0,792.4 L1360.1,791.5 L1360.1,790.6 L1360.2,789.7 L1360.2,788.8 L1360.3,787.9 L1360.3,787.0 L1360.4,786.1 L1360.4,785.2 L1360.5,784.3 L1360.5,783.4 L1360.6,782.5 L1360.6,781.6 L1360.7,780.7 L1360.7,779.7 L1360.8,778.8 L1360.8,777.9 L1360.9,777.0 L1360.9,776.0 L1361.0,775.1 L1361.0,774.2 L1361.1,773.2 L1361.1,772.3 L1361.2,771.4 L1361.2,770.4 L1361.3,769.5 L1361.3,768.6 L1361.4,767.6 L1361.4,766.7 L1361.5,765.7 L1361.5,764.8 L1361.6,763.9 L1361.6,762.9 L1361.7,762.0 L1361.7,761.0 L1361.8,760.1 L1361.8,759.1 L1361.9,758.2 L1361.9,757.3 L1362.0,756.3 L1362.0,755.4 L1362.1,754.4 L1362.1,753.5 L1362.2,752.6 L1362.2,751.6 L1362.3,750.7 L1362.3,749.7 L1362.4,748.8 L1362.4,747.9 L1362.5,746.9 L1362.5,746.0 L1362.6,745.1 L1362.6,744.1 L1362.7,743.2 L1362.7,742.3 L1362.8,741.4 L1362.8,740.4 L1362.9,739.5 L1362.9,738.6 L1363.0,737.7 L1363.0,736.8 L1363.1,735.9 L1363.1,734.9 L1363.2,734.0 L1363.2,733.1 L1363.3,732.2 L1363.3,731.3 L1363.4,730.5 L1363.4,729.6 L1363.5,728.7 L1363.5,727.8 L1363.6,726.9 L1363.6,726.0 L1363.7,725.2 L1363.7,724.3 L1363.8,723.4 L1363.8,722.6 L1363.9,721.7 L1363.9,720.8 L1364.0,720.0 L1364.0,719.2 L1364.1,718.3 L1364.1,717.5 L1364.2,716.6 L1364.2,715.8 L1364.3,715.0 L1364.3,714.1 L1364.4,713.3 L1364.4,712.5 L1364.5,711.6 L1364.5,710.8 L1364.6,710.0 L1364.6,709.1 L1364.7,708.3 L1364.7,707.5 L1364.8,706.7 L1364.8,705.9 L1364.9,705.0 L1364.9,704.2 L1365.0,703.4 L1365.0,702.6 L1365.1,701.8 L1365.1,701.0 L1365.2,700.2 L1365.2,699.4 L1365.3,698.6 L1365.3,697.8 L1365.4,697.0 L1365.4,696.2 L1365.5,695.3 L1365.5,694.5 L1365.6,693.7 L1365.6,692.9 L1365.7,692.2 L1365.7,691.4 L1365.8,690.6 L1365.8,689.8 L1365.9,689.0 L1365.9,688.2 L1366.0,687.4 L1366.0,686.6 L1366.1,685.8 L1366.1,685.0 L1366.2,684.2 L1366.2,683.4 L1366.3,682.6 L1366.3,681.9 L1366.4,681.1 L1366.4,680.3 L1366.5,679.5 L1366.5,678.7 L1366.6,677.9 L1366.6,677.1 L1366.7,676.3 L1366.7,675.6 L1366.8,674.8 L1366.8,674.0 L1366.9,673.2 L1366.9,672.4 L1367.0,671.6 L1367.0,670.9 L1367.1,670.1 L1367.1,669.3 L1367.2,668.5 L1367.2,667.7 L1367.3,666.9 L1367.3,666.2 L1367.4,665.4 L1367.4,664.6 L1367.5,663.8 L1367.5,663.0 L1367.6,662.2 L1367.6,661.4 L1367.7,660.7 L1367.7,659.9 L1367.8,659.1 L1367.8,658.3 L1367.9,657.5 L1367.9,656.7 L1368.0,655.9 L1368.0,655.1 L1368.1,654.4 L1368.1,653.6 L1368.2,652.8 L1368.2,652.0 L1368.3,651.2 L1368.3,650.4 L1368.4,649.6 L1368.4,648.8 L1368.5,648.0 L1368.5,647.2 L1368.6,646.4 L1368.6,645.6 L1368.7,644.8 L1368.7,644.0 L1368.8,643.2 L1368.8,642.4 L1368.9,641.6 L1368.9,640.8 L1369.0,640.0 L1369.0,639.2 L1369.1,638.4 L1369.1,637.6 L1369.2,636.7 L1369.2,635.9 L1369.3,635.1 L1369.3,634.2 L1369.4,633.4 L1369.4,632.6 L1369.5,631.7 L1369.5,630.9 L1369.6,630.0 L1369.6,629.1 L1369.7,628.3 L1369.7,627.4 L1369.8,626.6 L1369.8,625.7 L1369.9,624.8 L1369.9,624.0 L1370.0,623.1 L1370.0,622.2 L1370.1,621.3 L1370.1,620.5 L1370.2,619.6 L1370.2,618.7 L1370.3,617.8 L1370.3,616.9 L1370.4,616.1 L1370.4,615.2 L1370.5,614.3 L1370.5,613.4 L1370.6,612.6 L1370.6,611.7 L1370.7,610.8 L1370.7,609.9 L1370.8,609.1 L1370.8,608.2 L1370.9,607.3 L1370.9,606.5 L1371.0,605.6 L1371.0,604.7 L1371.1,603.9 L1371.1,603.0 L1371.2,602.2 L1371.2,601.3 L1371.3,600.5 L1371.3,599.6 L1371.4,598.8 L1371.4,597.9 L1371.5,597.1 L1371.5,596.3 L1371.6,595.5 L1371.6,594.6 L1371.7,593.8 L1371.7,593.0 L1371.8,592.2 L1371.8,591.4 L1371.9,590.6 L1371.9,589.8 L1372.0,589.1 L1372.0,588.3 L1372.1,587.5 L1372.1,586.8 L1372.2,586.0 L1372.3,584.5 L1372.4,583.1 L1372.5,581.6 L1372.6,580.2 L1372.7,578.9 L1372.8,577.5 L1372.9,576.3 L1373.0,575.0 L1373.1,573.8 L1373.2,572.6 L1373.3,571.4 L1373.4,570.2 L1373.5,569.0 L1373.6,567.9 L1373.7,566.8 L1373.8,565.7 L1373.9,564.6 L1374.0,563.5 L1374.1,562.4 L1374.2,561.3 L1374.3,560.3 L1374.4,559.3 L1374.5,558.2 L1374.6,557.2 L1374.7,556.2 L1374.8,555.3 L1374.9,554.3 L1375.0,553.3 L1375.1,552.4 L1375.2,551.4 L1375.3,550.5 L1375.4,549.6 L1375.5,548.7 L1375.6,547.8 L1375.7,546.9 L1375.8,546.0 L1375.9,545.1 L1376.0,544.2 L1376.1,543.4 L1376.2,542.5 L1376.3,541.7 L1376.4,540.8 L1376.5,540.0 L1376.6,539.2 L1376.7,538.3 L1376.8,537.5 L1376.9,536.7 L1377.0,535.8 L1377.1,535.0 L1377.2,534.2 L1377.3,533.4 L1377.4,532.5 L1377.5,531.7 L1377.6,530.9 L1377.7,530.1 L1377.8,529.3 L1377.9,528.5 L1378.0,527.7 L1378.1,527.0 L1378.2,526.2 L1378.3,525.4 L1378.5,524.0 L1378.7,522.5 L1378.9,521.2 L1379.1,519.9 L1379.3,518.6 L1379.5,517.5 L1379.7,516.4 L1379.9,515.4 L1380.1,514.5 L1380.3,513.7 L1380.5,512.8 L1380.7,512.0 L1380.9,511.2 L1381.1,510.5 L1381.3,509.7 L1381.7,508.3 L1382.1,506.9 L1382.5,505.7 L1382.9,504.5 L1383.3,503.5 L1383.7,502.5 L1384.1,501.7 L1384.5,501.0 L1385.3,499.8 L1386.1,498.7 L1386.9,497.7 L1387.7,496.8 L1388.5,496.2 L1389.3,495.7 L1390.1,495.5 L1390.9,495.6 L1391.7,495.9 L1392.5,496.4 L1393.3,497.0 L1394.1,497.8 L1394.9,498.6 L1395.7,499.6 L1396.5,500.6 L1397.3,501.8 L1397.7,502.6 L1398.1,503.4 L1398.5,504.4 L1398.9,505.5 L1399.3,506.6 L1399.7,507.8 L1400.1,509.1 L1400.5,510.4 L1400.9,511.7 L1401.3,513.1 L1401.7,514.6 L1402.1,516.0 L1402.3,516.7 L1402.5,517.5 L1402.7,518.4 L1402.9,519.3 L1403.1,520.2 L1403.3,521.1 L1403.5,522.1 L1403.7,523.1 L1403.9,524.2 L1404.1,525.2 L1404.3,526.3 L1404.5,527.4 L1404.7,528.6 L1404.9,529.7 L1405.1,530.8 L1405.3,532.0 L1405.5,533.1 L1405.7,534.3 L1405.9,535.4 L1406.1,536.5 L1406.3,537.7 L1406.5,538.8 L1406.7,539.9 L1406.9,541.0 L1407.1,542.0 L1407.3,543.0 L1407.5,544.0 L1407.7,545.0 L1407.9,546.0 L1408.1,546.9 L1408.3,547.8 L1408.5,548.8 L1408.7,549.7 L1408.9,550.6 L1409.1,551.5 L1409.3,552.4 L1409.5,553.3 L1409.7,554.2 L1409.9,555.1 L1410.1,555.9 L1410.3,556.8 L1410.5,557.7 L1410.7,558.5 L1410.9,559.4 L1411.1,560.3 L1411.3,561.1 L1411.5,562.0 L1411.7,562.8 L1411.9,563.6 L1412.1,564.5 L1412.3,565.3 L1412.5,566.1 L1412.7,566.9 L1412.9,567.8 L1413.1,568.6 L1413.3,569.4 L1413.5,570.2 L1413.7,571.0 L1413.9,571.8 L1414.1,572.6 L1414.3,573.4 L1414.5,574.2 L1414.7,575.0 L1414.9,575.7 L1415.1,576.5 L1415.3,577.3 L1415.5,578.1 L1415.7,578.8 L1415.9,579.6 L1416.1,580.3 L1416.3,581.1 L1416.5,581.8 L1416.7,582.6 L1416.9,583.3 L1417.1,584.1 L1417.3,584.8 L1417.5,585.5 L1417.7,586.3 L1417.9,587.0 L1418.1,587.8 L1418.3,588.5 L1418.5,589.2 L1418.7,589.9 L1418.9,590.7 L1419.1,591.4 L1419.3,592.1 L1419.5,592.9 L1419.7,593.6 L1419.9,594.3 L1420.1,595.0 L1420.3,595.8 L1420.5,596.5 L1420.7,597.2 L1420.9,598.0 L1421.1,598.7 L1421.3,599.5 L1421.5,600.2 L1421.7,601.0 L1421.9,601.8 L1422.1,602.5 L1422.3,603.3 L1422.5,604.1 L1422.7,604.8 L1422.9,605.6 L1423.1,606.4 L1423.3,607.1 L1423.5,607.9 L1423.7,608.6 L1423.9,609.3 L1424.1,610.1 L1424.5,611.5 L1424.9,612.9 L1425.3,614.2 L1425.7,615.5 L1426.1,616.7 L1426.5,617.8 L1426.9,618.9 L1427.3,619.9 L1427.7,620.9 L1428.1,621.9 L1428.5,622.9 L1428.9,623.8 L1429.3,624.6 L1429.7,625.4 L1430.1,626.2 L1430.9,627.4 L1431.7,628.6 L1432.5,629.6 L1433.3,630.4 L1434.1,630.7 L1434.9,630.5 L1435.7,629.9 L1436.5,629.0 L1437.3,628.0 L1438.1,626.8 L1438.5,626.1 L1438.9,625.4 L1439.3,624.5 L1439.7,623.5 L1440.1,622.3 L1440.5,621.1 L1440.9,619.7 L1441.3,618.3 L1441.5,617.6 L1441.7,616.9 L1441.9,616.1 L1442.1,615.4 L1442.3,614.6 L1442.5,613.9 L1442.7,613.1 L1442.9,612.3 L1443.1,611.6 L1443.3,610.7 L1443.5,609.9 L1443.7,609.0 L1443.9,608.2 L1444.1,607.3 L1444.3,606.4 L1444.5,605.4 L1444.7,604.5 L1444.9,603.5 L1445.1,602.5 L1445.3,601.5 L1445.5,600.4 L1445.7,599.4 L1445.9,598.3 L1446.1,597.3 L1446.3,596.2 L1446.5,595.0 L1446.7,593.9 L1446.9,592.8 L1447.1,591.6 L1447.3,590.4 L1447.5,589.2 L1447.7,588.0 L1447.9,586.8 L1448.1,585.5 L1448.3,584.2 L1448.5,582.8 L1448.7,581.4 L1448.9,580.0 L1449.1,578.6 L1449.3,577.1 L1449.4,576.4 L1449.5,575.6 L1449.6,574.8 L1449.7,574.1 L1449.8,573.3 L1449.9,572.5 L1450.0,571.7 L1450.1,570.9 L1450.2,570.1 L1450.3,569.3 L1450.4,568.5 L1450.5,567.7 L1450.6,566.9 L1450.7,566.1 L1450.8,565.2 L1450.9,564.4 L1451.0,563.6 L1451.1,562.7 L1451.2,561.9 L1451.3,561.0 L1451.4,560.2 L1451.5,559.3 L1451.6,558.5 L1451.7,557.6 L1451.8,556.7 L1451.9,555.9 L1452.0,555.0 L1452.1,554.1 L1452.2,553.2 L1452.3,552.3 L1452.4,551.4 L1452.5,550.5 L1452.6,549.6 L1452.7,548.7 L1452.8,547.8 L1452.9,546.8 L1453.0,545.9 L1453.1,544.9 L1453.2,543.9 L1453.3,543.0 L1453.4,542.0 L1453.5,541.0 L1453.6,540.0 L1453.7,539.0 L1453.8,538.0 L1453.9,537.0 L1454.0,536.0 L1454.1,535.0 L1454.2,534.0 L1454.3,532.9 L1454.4,531.9 L1454.5,530.9 L1454.6,529.8 L1454.7,528.8 L1454.8,527.7 L1454.9,526.7 L1455.0,525.6 L1455.1,524.6 L1455.2,523.5 L1455.3,522.5 L1455.4,521.4 L1455.5,520.3 L1455.6,519.3 L1455.7,518.2 L1455.8,517.1 L1455.9,516.1 L1456.0,515.0 L1456.1,513.9 L1456.2,512.8 L1456.3,511.7 L1456.4,510.6 L1456.5,509.5 L1456.6,508.4 L1456.7,507.3 L1456.8,506.1 L1456.9,505.0 L1457.0,503.9 L1457.1,502.7 L1457.2,501.6 L1457.3,500.4 L1457.4,499.2 L1457.5,498.1 L1457.6,496.9 L1457.7,495.7 L1457.8,494.5 L1457.9,493.4 L1458.0,492.2 L1458.1,491.0 L1458.2,489.9 L1458.3,488.7 L1458.4,487.5 L1458.5,486.4 L1458.6,485.2 L1458.7,484.0 L1458.8,482.9 L1458.9,481.7 L1459.0,480.6 L1459.1,479.5 L1459.2,478.3 L1459.3,477.2 L1459.4,476.1 L1459.5,475.0 L1459.6,473.9 L1459.7,472.8 L1459.8,471.7 L1459.9,470.6 L1460.0,469.5 L1460.1,468.4 L1460.2,467.3 L1460.3,466.2 L1460.4,465.1 L1460.5,464.0 L1460.6,462.9 L1460.7,461.8 L1460.8,460.7 L1460.9,459.6 L1461.0,458.5 L1461.1,457.4 L1461.2,456.3 L1461.3,455.2 L1461.4,454.1 L1461.5,453.1 L1461.6,452.0 L1461.7,451.0 L1461.8,449.9 L1461.9,448.9 L1462.0,447.8 L1462.1,446.8 L1462.2,445.8 L1462.3,444.8 L1462.4,443.8 L1462.5,442.8 L1462.6,441.8 L1462.7,440.8 L1462.8,439.9 L1462.9,438.9 L1463.0,438.0 L1463.1,437.1 L1463.2,436.2 L1463.3,435.2 L1463.4,434.3 L1463.5,433.4 L1463.6,432.6 L1463.7,431.7 L1463.8,430.8 L1463.9,429.9 L1464.0,429.1 L1464.1,428.2 L1464.2,427.4 L1464.3,426.5 L1464.4,425.7 L1464.5,424.8 L1464.6,424.0 L1464.7,423.2 L1464.8,422.3 L1464.9,421.5 L1465.0,420.7 L1465.1,419.9 L1465.2,419.1 L1465.3,418.3 L1465.4,417.5 L1465.5,416.7 L1465.6,415.9 L1465.7,415.1 L1465.8,414.3 L1465.9,413.5 L1466.0,412.8 L1466.1,412.0 L1466.2,411.2 L1466.3,410.4 L1466.4,409.6 L1466.5,408.9 L1466.6,408.1 L1466.7,407.3 L1466.8,406.5 L1466.9,405.8 L1467.0,405.0 L1467.1,404.2 L1467.2,403.5 L1467.3,402.7 L1467.4,401.9 L1467.5,401.2 L1467.6,400.4 L1467.7,399.6 L1467.8,398.9 L1467.9,398.1 L1468.0,397.3 L1468.1,396.6 L1468.2,395.8 L1468.3,395.1 L1468.4,394.3 L1468.5,393.6 L1468.6,392.8 L1468.8,391.3 L1469.0,389.9 L1469.2,388.4 L1469.4,387.0 L1469.6,385.5 L1469.8,384.1 L1470.0,382.7 L1470.2,381.3 L1470.4,380.0 L1470.6,378.6 L1470.8,377.3 L1471.0,376.0 L1471.2,374.7 L1471.4,373.4 L1471.6,372.2 L1471.8,370.9 L1472.0,369.6 L1472.2,368.4 L1472.4,367.1 L1472.6,365.9 L1472.8,364.7 L1473.0,363.5 L1473.2,362.3 L1473.4,361.1 L1473.6,360.0 L1473.8,358.8 L1474.0,357.7 L1474.2,356.6 L1474.4,355.5 L1474.6,354.5 L1474.8,353.4 L1475.0,352.4 L1475.2,351.4 L1475.4,350.5 L1475.6,349.5 L1475.8,348.6 L1476.0,347.7 L1476.2,346.8 L1476.4,345.9 L1476.6,344.9 L1476.8,344.0 L1477.0,343.2 L1477.2,342.3 L1477.4,341.4 L1477.6,340.5 L1477.8,339.7 L1478.0,338.8 L1478.2,338.0 L1478.4,337.1 L1478.6,336.3 L1478.8,335.5 L1479.0,334.7 L1479.2,334.0 L1479.4,333.2 L1479.6,332.5 L1480.0,331.0 L1480.4,329.6 L1480.8,328.3 L1481.2,327.1 L1481.6,326.0 L1482.0,324.9 L1482.4,324.0 L1482.8,323.0 L1483.2,322.1 L1483.6,321.2 L1484.0,320.3 L1484.4,319.4 L1484.8,318.5 L1485.2,317.7 L1485.6,316.8 L1486.0,316.1 L1486.4,315.3 L1486.8,314.6 L1487.6,313.4 L1488.4,312.4 L1489.2,311.6 L1490.0,311.2 L1490.8,311.0 L1491.6,310.8 L1492.4,310.6 L1493.2,310.5 L1494.0,310.4 L1494.8,310.3 L1495.6,310.2 L1496.4,310.2 L1497.2,310.2 L1498.0,310.3 L1498.8,310.5 L1499.6,310.8 L1500.4,311.1 L1501.2,311.5 L1502.0,312.0 L1502.8,312.5 L1503.6,313.0 L1504.4,313.5 L1505.2,314.1 L1506.0,314.6 L1506.8,315.2 L1507.6,315.7 L1508.4,316.2 L1509.2,316.7 L1510.0,317.3 L1510.8,317.8 L1511.6,318.4 L1512.4,319.0 L1513.2,319.6 L1514.0,320.2 L1514.8,320.9 L1515.6,321.5 L1516.4,322.2 L1517.2,322.9 L1518.0,323.6 L1518.8,324.3 L1519.6,325.0 L1520.4,325.7 L1521.2,326.4 L1522.0,327.2 L1522.8,327.9 L1523.6,328.7 L1524.4,329.5 L1525.2,330.3 L1526.0,331.2 L1526.8,332.0 L1527.6,332.9 L1528.4,333.8 L1529.2,334.7 L1530.0,335.6 L1530.8,336.5 L1531.6,337.4 L1532.4,338.3 L1533.2,339.2 L1534.0,340.1 L1534.8,341.0 L1535.6,341.9 L1536.4,342.7 L1537.2,343.6 L1538.0,344.5 L1538.8,345.3 L1539.6,346.1 L1540.4,346.9 L1541.2,347.7 L1542.0,348.5 L1542.8,349.3 L1543.6,350.0 L1544.4,350.8 L1545.2,351.6 L1546.0,352.3 L1546.8,353.1 L1547.6,353.9 L1548.4,354.7 L1549.2,355.5 L1550.0,356.3 L1550.8,357.1 L1551.6,358.0 L1552.4,358.8 L1553.2,359.7 L1554.0,360.6 L1554.8,361.6 L1555.6,362.6 L1556.4,363.6 L1557.2,364.7 L1558.0,365.7 L1558.8,366.9 L1559.6,368.0 L1560.4,369.1 L1561.2,370.3 L1562.0,371.5 L1562.8,372.7 L1563.6,373.9 L1564.4,375.1 L1565.2,376.3 L1566.0,377.5 L1566.8,378.7 L1567.6,379.9 L1568.4,381.1 L1569.2,382.4 L1570.0,383.6 L1570.8,384.8 L1571.6,386.1 L1572.0,386.7 L1572.4,387.4 L1572.8,388.0 L1573.2,388.7 L1573.6,389.3 L1574.0,390.0 L1574.4,390.6 L1574.8,391.3 L1575.2,391.9 L1575.6,392.6 L1576.0,393.2 L1576.4,393.9 L1576.8,394.6 L1577.2,395.2 L1577.6,395.9 L1578.0,396.6 L1578.4,397.3 L1578.8,397.9 L1579.2,398.6 L1579.6,399.3 L1580.0,400.0 L1580.4,400.7 L1580.8,401.4 L1581.2,402.1 L1581.6,402.8 L1582.0,403.5 L1582.4,404.2 L1582.8,404.9 L1583.2,405.6 L1583.6,406.4 L1584.0,407.1 L1584.4,407.8 L1584.8,408.5 L1585.2,409.3 L1585.6,410.0 L1586.0,410.7 L1586.4,411.5 L1586.8,412.2 L1587.2,413.0 L1587.6,413.7 L1588.0,414.5 L1588.4,415.2 L1588.8,416.0 L1589.2,416.8 L1589.6,417.5 L1590.0,418.3 L1590.4,419.0 L1590.8,419.8 L1591.2,420.6 L1591.6,421.4 L1592.0,422.1 L1592.4,422.9 L1592.8,423.7 L1593.2,424.5 L1593.6,425.2 L1594.0,426.0 L1594.4,426.8 L1594.8,427.6 L1595.2,428.4 L1595.6,429.2 L1596.0,430.0 L1596.4,430.8 L1596.8,431.5 L1597.2,432.3 L1597.6,433.1 L1598.0,433.9 L1598.4,434.7 L1598.8,435.5 L1599.2,436.3 L1599.6,437.1 L1600.0,437.9 L1600.4,438.7 L1600.8,439.5 L1601.2,440.3 L1601.6,441.1 L1602.0,442.0 L1602.4,442.8 L1602.8,443.6 L1603.2,444.5 L1603.6,445.3 L1604.0,446.2 L1604.4,447.1 L1604.8,448.0 L1605.2,448.9 L1605.6,449.8 L1606.0,450.7 L1606.4,451.6 L1606.8,452.5 L1607.2,453.5 L1607.6,454.4 L1608.0,455.4 L1608.4,456.4 L1608.8,457.4 L1609.2,458.4 L1609.6,459.5 L1610.0,460.5 L1610.4,461.6 L1610.8,462.6 L1611.2,463.7 L1611.6,464.8 L1612.0,465.9 L1612.4,467.0 L1612.8,468.1 L1613.2,469.3 L1613.6,470.4 L1614.0,471.5 L1614.4,472.7 L1614.8,473.8 L1615.2,475.0 L1615.6,476.1 L1616.0,477.3 L1616.4,478.4 L1616.8,479.6 L1617.2,480.8 L1617.6,481.9 L1618.0,483.1 L1618.4,484.3 L1618.8,485.4 L1619.2,486.6 L1619.6,487.8 L1620.0,488.9 L1620.4,490.1 L1620.8,491.3 L1621.2,492.5 L1621.6,493.7 L1622.0,494.9 L1622.4,496.1 L1622.8,497.3 L1623.2,498.5 L1623.6,499.8 L1624.0,501.0 L1624.4,502.2 L1624.8,503.5 L1625.2,504.7 L1625.6,506.0 L1626.0,507.2 L1626.4,508.5 L1626.8,509.7 L1627.2,511.0 L1627.6,512.2 L1628.0,513.5 L1628.4,514.8 L1628.8,516.0 L1629.2,517.3 L1629.6,518.6 L1630.0,519.8 L1630.4,521.1 L1630.8,522.4 L1631.2,523.6 L1631.6,524.9 L1632.0,526.2 L1632.4,527.4 L1632.8,528.7 L1633.2,530.0 L1633.6,531.3 L1634.0,532.5 L1634.4,533.8 L1634.8,535.1 L1635.2,536.4 L1635.6,537.7 L1636.0,539.0 L1636.4,540.3 L1636.8,541.6 L1637.2,542.9 L1637.6,544.2 L1638.0,545.5 L1638.4,546.8 L1638.8,548.1 L1639.2,549.5 L1639.6,550.8 L1640.0,552.2 L1640.4,553.5 L1640.8,554.9 L1641.2,556.2 L1641.6,557.6 L1642.0,559.0 L1642.4,560.4 L1642.8,561.8 L1643.2,563.2 L1643.6,564.6 L1644.0,566.0 L1644.4,567.5 L1644.8,568.9 L1645.0,569.6 L1645.2,570.4 L1645.4,571.1 L1645.6,571.8 L1645.8,572.5 L1646.0,573.3 L1646.2,574.0 L1646.4,574.7 L1646.6,575.5 L1646.8,576.2 L1647.0,577.0 L1647.2,577.7 L1647.4,578.4 L1647.6,579.2 L1647.8,579.9 L1648.0,580.7 L1648.2,581.4 L1648.4,582.2 L1648.6,582.9 L1648.8,583.7 L1649.0,584.4 L1649.2,585.2 L1649.4,585.9 L1649.6,586.7 L1649.8,587.4 L1650.0,588.2 L1650.2,588.9 L1650.4,589.7 L1650.6,590.5 L1650.8,591.2 L1651.0,592.0 L1651.2,592.7 L1651.4,593.5 L1651.6,594.3 L1651.8,595.0 L1652.0,595.8 L1652.2,596.6 L1652.4,597.3 L1652.6,598.1 L1652.8,598.8 L1653.0,599.6 L1653.2,600.4 L1653.4,601.2 L1653.6,601.9 L1653.8,602.7 L1654.0,603.4 L1654.2,604.2 L1654.4,605.0 L1654.6,605.7 L1654.8,606.5 L1655.0,607.3 L1655.2,608.0 L1655.4,608.8 L1655.6,609.6 L1655.8,610.3 L1656.0,611.1 L1656.2,611.9 L1656.4,612.6 L1656.6,613.4 L1656.8,614.2 L1657.0,614.9 L1657.2,615.7 L1657.4,616.5 L1657.6,617.2 L1657.8,618.0 L1658.0,618.8 L1658.2,619.6 L1658.4,620.3 L1658.6,621.1 L1658.8,621.9 L1659.0,622.7 L1659.2,623.4 L1659.4,624.2 L1659.6,625.0 L1659.8,625.8 L1660.0,626.6 L1660.2,627.4 L1660.4,628.2 L1660.6,629.0 L1660.8,629.8 L1661.0,630.6 L1661.2,631.4 L1661.4,632.2 L1661.6,633.0 L1661.8,633.8 L1662.0,634.6 L1662.2,635.4 L1662.4,636.2 L1662.6,637.0 L1662.8,637.9 L1663.0,638.7 L1663.2,639.5 L1663.4,640.4 L1663.6,641.2 L1663.8,642.0 L1664.0,642.9 L1664.2,643.7 L1664.4,644.6 L1664.6,645.4 L1664.8,646.3 L1665.0,647.1 L1665.2,648.0 L1665.4,648.9 L1665.6,649.8 L1665.8,650.6 L1666.0,651.5 L1666.2,652.4 L1666.4,653.3 L1666.6,654.2 L1666.8,655.1 L1667.0,656.0 L1667.2,656.9 L1667.4,657.8 L1667.6,658.8 L1667.8,659.7 L1668.0,660.6 L1668.2,661.6 L1668.4,662.5 L1668.6,663.5 L1668.8,664.5 L1669.0,665.4 L1669.2,666.4 L1669.4,667.4 L1669.6,668.3 L1669.8,669.3 L1670.0,670.3 L1670.2,671.3 L1670.4,672.3 L1670.6,673.3 L1670.8,674.3 L1671.0,675.3 L1671.2,676.3 L1671.4,677.3 L1671.6,678.3 L1671.8,679.3 L1672.0,680.4 L1672.2,681.4 L1672.4,682.4 L1672.6,683.4 L1672.8,684.5 L1673.0,685.5 L1673.2,686.5 L1673.4,687.5 L1673.6,688.6 L1673.8,689.6 L1674.0,690.6 L1674.2,691.7 L1674.4,692.7 L1674.6,693.7 L1674.8,694.8 L1675.0,695.8 L1675.2,696.8 L1675.4,697.9 L1675.6,698.9 L1675.8,699.9 L1676.0,701.0 L1676.2,702.0 L1676.4,703.0 L1676.6,704.1 L1676.8,705.1 L1677.0,706.1 L1677.2,707.2 L1677.4,708.2 L1677.6,709.2 L1677.8,710.2 L1678.0,711.2 L1678.2,712.3 L1678.4,713.3 L1678.6,714.3 L1678.8,715.3 L1679.0,716.3 L1679.2,717.3 L1679.4,718.3 L1679.6,719.3 L1679.8,720.3 L1680.0,721.3 L1680.2,722.3 L1680.4,723.3 L1680.6,724.3 L1680.8,725.3 L1681.0,726.3 L1681.2,727.3 L1681.4,728.3 L1681.6,729.3 L1681.8,730.3 L1682.0,731.3 L1682.2,732.3 L1682.4,733.3 L1682.6,734.3 L1682.8,735.3 L1683.0,736.3 L1683.2,737.3 L1683.4,738.2 L1683.6,739.2 L1683.8,740.2 L1684.0,741.2 L1684.2,742.2 L1684.4,743.2 L1684.6,744.2 L1684.8,745.2 L1685.0,746.2 L1685.2,747.2 L1685.4,748.2 L1685.6,749.2 L1685.8,750.2 L1686.0,751.2 L1686.2,752.2 L1686.4,753.2 L1686.6,754.2 L1686.8,755.2 L1687.0,756.2 L1687.2,757.2 L1687.4,758.2 L1687.6,759.2 L1687.8,760.2 L1688.0,761.2 L1688.2,762.2 L1688.4,763.2 L1688.6,764.2 L1688.8,765.2 L1689.0,766.2 L1689.2,767.2 L1689.4,768.2 L1689.6,769.2 L1689.8,770.2 L1690.0,771.2 L1690.2,772.2 L1690.4,773.2 L1690.6,774.2 L1690.8,775.2 L1691.0,776.2 L1691.2,777.2 L1691.4,778.2 L1691.6,779.2 L1691.8,780.2 L1692.0,781.2 L1692.2,782.2 L1692.4,783.2 L1692.6,784.2 L1692.8,785.2 L1693.0,786.2 L1693.2,787.2 L1693.4,788.2 L1693.6,789.1 L1693.8,790.1 L1694.0,791.1 L1694.2,792.1 L1694.4,793.0 L1694.6,794.0 L1694.8,795.0 L1695.0,796.0 L1695.2,796.9 L1695.4,797.9 L1695.6,798.8 L1695.8,799.8 L1696.0,800.8 L1696.2,801.7 L1696.4,802.7 L1696.6,803.6 L1696.8,804.6 L1697.0,805.5 L1697.2,806.5 L1697.4,807.5 L1697.6,808.4 L1697.8,809.4 L1698.0,810.3 L1698.2,811.3 L1698.4,812.3 L1698.6,813.2 L1698.8,814.2 L1699.0,815.2 L1699.2,816.2 L1699.4,817.1 L1699.6,818.1 L1699.8,819.1 L1700.0,820.1 L1700.2,821.1 L1700.4,822.1 L1700.6,823.1 L1700.8,824.1 L1701.0,825.1 L1701.2,826.1 L1701.4,827.1 L1701.6,828.1 L1701.8,829.1 L1702.0,830.2 L1702.2,831.2 L1702.4,832.2 L1702.6,833.3 L1702.8,834.3 L1703.0,835.4 L1703.2,836.5 L1703.4,837.5 L1703.6,838.6 L1703.8,839.7 L1704.0,840.8 L1704.2,841.9 L1704.4,843.0 L1704.6,844.1 L1704.8,845.3 L1705.0,846.4 L1705.2,847.5 L1705.4,848.7 L1705.6,849.9 L1705.8,851.0 L1706.0,852.2 L1706.2,853.3 L1706.4,854.5 L1706.6,855.7 L1706.8,856.9 L1707.0,858.1 L1707.2,859.3 L1707.4,860.4 L1707.6,861.7 L1707.8,862.9 L1708.0,864.1 L1708.2,865.3 L1708.4,866.5 L1708.6,867.8 L1708.8,869.0 L1709.0,870.3 L1709.2,871.6 L1709.4,872.9 L1709.6,874.2 L1709.8,875.5 L1710.0,876.8 L1710.2,878.2 L1710.4,879.5 L1710.6,880.9 L1710.8,882.3 L1711.0,883.7 L1711.2,885.1 L1711.4,886.5 L1711.6,888.0 L1711.8,889.4 L1712.0,890.9 L1712.1,891.6 L1712.2,892.4 L1712.3,893.2 L1712.4,893.9 L1712.5,894.7 L1712.6,895.5 L1712.7,896.2 L1712.8,897.0 L1712.9,897.8 L1713.0,898.6 L1713.1,899.4 L1713.2,900.2 L1713.3,901.0 L1713.4,901.8 L1713.5,902.6 L1713.6,903.5 L1713.7,904.3 L1713.8,905.2 L1713.9,906.0 L1714.0,906.9 L1714.1,907.7 L1714.2,908.6 L1714.3,909.5 L1714.4,910.4 L1714.5,911.3 L1714.6,912.2 L1714.7,913.1 L1714.8,914.1 L1714.9,915.0 L1715.0,915.9 L1715.1,916.9 L1715.2,917.9 L1715.3,918.8 L1715.4,919.8 L1715.5,920.8 L1715.6,921.8 L1715.7,922.7 L1715.8,923.8 L1715.9,924.8 L1716.0,925.8 L1716.1,926.8 L1716.2,927.8 L1716.3,928.9 L1716.4,929.9 L1716.5,931.0 L1716.6,932.0 L1716.7,933.1 L1716.8,934.2 L1716.9,935.2 L1717.0,936.3 L1717.1,937.4 L1717.2,938.5 L1717.3,939.6 L1717.4,940.7 L1717.5,941.9 L1717.6,943.0 L1717.7,944.1 L1717.8,945.2 L1717.9,946.4 L1718.0,947.5 L1718.1,948.7 L1718.2,949.9 L1718.3,951.0 L1718.4,952.2 L1718.5,953.4 L1718.6,954.6 L1718.7,955.8 L1718.8,957.1 L1718.9,958.3 L1719.0,959.6 L1719.1,960.9 L1719.2,962.2 L1719.3,963.5 L1719.4,964.9 L1719.5,966.3 L1719.6,967.6 L1719.7,969.0 L1719.8,970.4 L1719.9,971.9 L1720.0,973.3 L1720.1,974.7 L1720.2,976.2 L1720.3,977.6 L1720.4,979.1 L1720.5,980.6 L1720.6,982.0 L1720.7,983.5 L1720.8,985.0"/>
</g>
<g stroke="#000" stroke-width="4" fill="none">
<rect x="244" y="53.7" width="1507.3" height="1220.1"/>
<line x1="220" y1="104.0" x2="244" y2="104.0"/>
<line x1="220" y1="438.3" x2="244" y2="438.3"/>
<line x1="220" y1="772.6" x2="244" y2="772.6"/>
<line x1="220" y1="1106.9" x2="244" y2="1106.9"/>
<line x1="232" y1="271.1" x2="244" y2="271.1"/>
<line x1="232" y1="605.5" x2="244" y2="605.5"/>
<line x1="232" y1="939.8" x2="244" y2="939.8"/>
<line x1="232" y1="1274.0" x2="244" y2="1274.0"/>
<line x1="432.3" y1="1273.8" x2="432.3" y2="1296"/>
<line x1="808.9" y1="1273.8" x2="808.9" y2="1296"/>
<line x1="1185.5" y1="1273.8" x2="1185.5" y2="1296"/>
<line x1="1562.1" y1="1273.8" x2="1562.1" y2="1296"/>
<line x1="244.0" y1="1273.8" x2="244.0" y2="1285"/>
<line x1="620.6" y1="1273.8" x2="620.6" y2="1285"/>
<line x1="997.2" y1="1273.8" x2="997.2" y2="1285"/>
<line x1="1373.8" y1="1273.8" x2="1373.8" y2="1285"/>
<line x1="1750.4" y1="1273.8" x2="1750.4" y2="1285"/>
</g>
<g font-family="'Liberation Sans', Arial, sans-serif" font-size="63" fill="#000">
<text transform="translate(203.5,122.5) scale(1,1.05)" text-anchor="end">0</text>
<text transform="translate(203.5,456.8) scale(1,1.05)" text-anchor="end">-1</text>
<text transform="translate(203.5,791.1) scale(1,1.05)" text-anchor="end">-2</text>
<text transform="translate(203.5,1125.4) scale(1,1.05)" text-anchor="end">-3</text>
<text transform="translate(432.3,1363.5) scale(1,1.055)" text-anchor="middle">-100</text>
<text transform="translate(808.9,1363.5) scale(1,1.055)" text-anchor="middle">-300</text>
<text transform="translate(1185.5,1363.5) scale(1,1.055)" text-anchor="middle">-500</text>
<text transform="translate(1562.1,1363.5) scale(1,1.055)" text-anchor="middle">-700</text>
</g>
<text font-family="'Liberation Sans', Arial, sans-serif" font-size="78" transform="translate(758,1480) scale(1,1.03)" textLength="478" lengthAdjust="spacingAndGlyphs">Potential, mV</text>
<text font-family="'Liberation Sans', Arial, sans-serif" font-size="81" transform="translate(106.5,871.5) rotate(-90) scale(1,1.04)">Current, &#956;A</text>
<g stroke="#4a4a4a" stroke-width="3" fill="none">
<line x1="417.5" y1="489.6" x2="417.5" y2="1097"/>
<line x1="416.2" y1="1093" x2="1207.3" y2="1093"/>
<line x1="406" y1="1093.0" x2="417.5" y2="1093.0"/>
<line x1="406" y1="892.3" x2="417.5" y2="892.3"/>
<line x1="406" y1="691.6" x2="417.5" y2="691.6"/>
<line x1="406" y1="490.9" x2="417.5" y2="490.9"/>
<line x1="411.5" y1="992.6" x2="417.5" y2="992.6"/>
<line x1="411.5" y1="792.0" x2="417.5" y2="792.0"/>
<line x1="411.5" y1="591.2" x2="417.5" y2="591.2"/>
<line x1="530.1" y1="1093" x2="530.1" y2="1104.5"/>
<line x1="755.4" y1="1093" x2="755.4" y2="1104.5"/>
<line x1="980.7" y1="1093" x2="980.7" y2="1104.5"/>
<line x1="1206.0" y1="1093" x2="1206.0" y2="1104.5"/>
<line x1="642.8" y1="1093" x2="642.8" y2="1099"/>
<line x1="868.0" y1="1093" x2="868.0" y2="1099"/>
<line x1="1093.3" y1="1093" x2="1093.3" y2="1099"/>
</g>
<g font-family="'Liberation Sans', Arial, sans-serif" font-size="47" fill="#000">
<text transform="translate(397.5,1108.0) scale(1,1.08)" text-anchor="end">0</text>
<text transform="translate(397.5,907.3) scale(1,1.08)" text-anchor="end">-1</text>
<text transform="translate(397.5,706.6) scale(1,1.08)" text-anchor="end">-2</text>
<text transform="translate(397.5,505.9) scale(1,1.08)" text-anchor="end">-3</text>
<text transform="translate(530.1,1150) scale(1,1.08)" text-anchor="middle">3</text>
<text transform="translate(755.4,1150) scale(1,1.08)" text-anchor="middle">6</text>
<text transform="translate(980.7,1150) scale(1,1.08)" text-anchor="middle">9</text>
<text transform="translate(1206.0,1150) scale(1,1.08)" text-anchor="middle">12</text>
</g>
<text font-family="'Liberation Sans', Arial, sans-serif" font-size="56" transform="translate(325.5,1002) rotate(-90) scale(1,1.03)">Peak current, &#956;A</text>
<text font-family="'Liberation Sans', Arial, sans-serif" font-size="56" x="406" y="1225.5">Square root of scan rate, mV s<tspan font-size="37" dy="-23">-1</tspan></text>
<line x1="492.6" y1="1044.8" x2="1055.8" y2="524.8" stroke="#00A2FF" stroke-width="2.3"/>
<polygon points="493.8,1030.1 505.3,1036.2 505.3,1048.6 493.8,1054.7 482.3,1048.6 482.3,1036.2" fill="#00A2FF"/>
<polygon points="569.9,973.5 581.4,979.6 581.4,991.9 569.9,998.1 558.4,991.9 558.4,979.6" fill="#00A2FF"/>
<polygon points="680.0,853.5 691.5,859.6 691.5,871.9 680.0,878.1 668.5,871.9 668.5,859.6" fill="#00A2FF"/>
<polygon points="835.7,702.4 847.2,708.6 847.2,720.9 835.7,727.0 824.2,720.9 824.2,708.6" fill="#00A2FF"/>
<polygon points="1055.8,521.7 1067.3,527.9 1067.3,540.1 1055.8,546.3 1044.3,540.1 1044.3,527.9" fill="#00A2FF"/>
<line x1="492.6" y1="1054.7" x2="1056.9" y2="846.8" stroke="#FF0080" stroke-width="2.3"/>
<polygon points="493.8,1037.7 505.3,1043.8 505.3,1056.2 493.8,1062.3 482.3,1056.2 482.3,1043.8" fill="#FF0080"/>
<polygon points="569.9,1017.4 581.4,1023.6 581.4,1035.9 569.9,1042.0 558.4,1035.9 558.4,1023.6" fill="#FF0080"/>
<polygon points="680.3,976.9 691.8,983.1 691.8,995.4 680.3,1001.5 668.8,995.4 668.8,983.1" fill="#FF0080"/>
<polygon points="835.7,918.7 847.2,924.9 847.2,937.1 835.7,943.3 824.2,937.1 824.2,924.9" fill="#FF0080"/>
<polygon points="1056.9,832.2 1068.4,838.4 1068.4,850.6 1056.9,856.8 1045.4,850.6 1045.4,838.4" fill="#FF0080"/>
<g font-family="'Liberation Sans', Arial, sans-serif" font-size="56">
<text x="687" y="605.8" text-anchor="middle" fill="#00A2FF">y=0.347x-0.623</text>
<text x="683" y="673" text-anchor="middle" fill="#00A2FF">r=0.999</text>
<text x="987" y="1005.6" text-anchor="middle" fill="#FF0080">y=0.137x-0.144</text>
<text x="982" y="1073.7" text-anchor="middle" fill="#FF0080">r=0.999</text>
</g>
<text font-family="'Liberation Sans', Arial, sans-serif" font-size="64" x="996.7" y="533.4" fill="#00A2FF">I</text>
<text font-family="'Liberation Sans', Arial, sans-serif" font-size="64" x="1023.6" y="797.6" fill="#FF0080">II</text>
<text font-family="'Liberation Sans', Arial, sans-serif" font-size="104" transform="translate(1369.5,1156.8) scale(1.1,1.03)" fill="#00A2FF">I</text>
<text font-family="'Liberation Sans', Arial, sans-serif" font-size="103" transform="translate(1472.5,683.6) scale(1,1.04)" fill="#FF0080">II</text>
</svg></body></html>
